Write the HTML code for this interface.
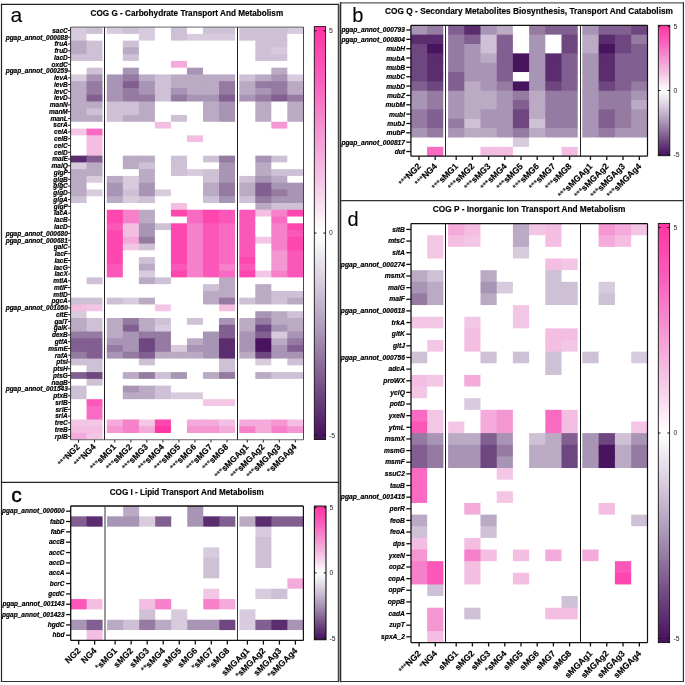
<!DOCTYPE html>
<html><head><meta charset="utf-8"><style>
html,body{margin:0;padding:0;background:#fff;width:685px;height:685px;overflow:hidden;font-family:"Liberation Sans",sans-serif;}
</style></head><body>
<svg width="685" height="685" viewBox="0 0 685 685" style="position:absolute;left:0;top:0;will-change:transform">
<rect x="0" y="0" width="685" height="685" fill="#ffffff"/>
<g>
<rect x="70.6" y="27.1" width="16.75" height="7.56" fill="#d7cbdd"/>
<rect x="86.55" y="27.1" width="15.95" height="7.56" fill="#cec0d5"/>
<rect x="106.8" y="27.1" width="16.83" height="7.56" fill="#d7cbdd"/>
<rect x="122.83" y="27.1" width="16.83" height="7.56" fill="#cec0d5"/>
<rect x="138.86" y="27.1" width="16.83" height="7.56" fill="#d7cbdd"/>
<rect x="154.89" y="27.1" width="16.83" height="7.56" fill="#ffffff"/>
<rect x="170.92" y="27.1" width="16.83" height="7.56" fill="#cec0d5"/>
<rect x="186.95" y="27.1" width="16.83" height="7.56" fill="#ffffff"/>
<rect x="202.98" y="27.1" width="16.83" height="7.56" fill="#cec0d5"/>
<rect x="219.01" y="27.1" width="16.03" height="7.56" fill="#cec0d5"/>
<rect x="239.3" y="27.1" width="16.8" height="7.56" fill="#cec0d5"/>
<rect x="255.3" y="27.1" width="16.8" height="7.56" fill="#cec0d5"/>
<rect x="271.3" y="27.1" width="16.8" height="7.56" fill="#cec0d5"/>
<rect x="287.3" y="27.1" width="16" height="7.56" fill="#d7cbdd"/>
<rect x="70.6" y="33.87" width="16.75" height="7.56" fill="#d7cbdd"/>
<rect x="86.55" y="33.87" width="15.95" height="7.56" fill="#ffffff"/>
<rect x="106.8" y="33.87" width="16.83" height="7.56" fill="#ffffff"/>
<rect x="122.83" y="33.87" width="16.83" height="7.56" fill="#ffffff"/>
<rect x="138.86" y="33.87" width="16.83" height="7.56" fill="#d7cbdd"/>
<rect x="154.89" y="33.87" width="16.83" height="7.56" fill="#ffffff"/>
<rect x="170.92" y="33.87" width="16.83" height="7.56" fill="#cec0d5"/>
<rect x="186.95" y="33.87" width="16.83" height="7.56" fill="#d7cbdd"/>
<rect x="202.98" y="33.87" width="16.83" height="7.56" fill="#d7cbdd"/>
<rect x="219.01" y="33.87" width="16.03" height="7.56" fill="#d7cbdd"/>
<rect x="239.3" y="33.87" width="16.8" height="7.56" fill="#cec0d5"/>
<rect x="255.3" y="33.87" width="16.8" height="7.56" fill="#cec0d5"/>
<rect x="271.3" y="33.87" width="16.8" height="7.56" fill="#cec0d5"/>
<rect x="287.3" y="33.87" width="16" height="7.56" fill="#ffffff"/>
<rect x="70.6" y="40.63" width="16.75" height="7.56" fill="#bbaac4"/>
<rect x="86.55" y="40.63" width="15.95" height="7.56" fill="#cec0d5"/>
<rect x="106.8" y="40.63" width="16.83" height="7.56" fill="#ffffff"/>
<rect x="122.83" y="40.63" width="16.83" height="7.56" fill="#cec0d5"/>
<rect x="138.86" y="40.63" width="16.83" height="7.56" fill="#ffffff"/>
<rect x="154.89" y="40.63" width="16.83" height="7.56" fill="#ffffff"/>
<rect x="170.92" y="40.63" width="16.83" height="7.56" fill="#ffffff"/>
<rect x="186.95" y="40.63" width="16.83" height="7.56" fill="#ffffff"/>
<rect x="202.98" y="40.63" width="16.83" height="7.56" fill="#ffffff"/>
<rect x="219.01" y="40.63" width="16.03" height="7.56" fill="#ffffff"/>
<rect x="239.3" y="40.63" width="16.8" height="7.56" fill="#ffffff"/>
<rect x="255.3" y="40.63" width="16.8" height="7.56" fill="#cec0d5"/>
<rect x="271.3" y="40.63" width="16.8" height="7.56" fill="#cec0d5"/>
<rect x="287.3" y="40.63" width="16" height="7.56" fill="#ffffff"/>
<rect x="70.6" y="47.39" width="16.75" height="7.56" fill="#bbaac4"/>
<rect x="86.55" y="47.39" width="15.95" height="7.56" fill="#cec0d5"/>
<rect x="106.8" y="47.39" width="16.83" height="7.56" fill="#ffffff"/>
<rect x="122.83" y="47.39" width="16.83" height="7.56" fill="#bbaac4"/>
<rect x="138.86" y="47.39" width="16.83" height="7.56" fill="#ffffff"/>
<rect x="154.89" y="47.39" width="16.83" height="7.56" fill="#ffffff"/>
<rect x="170.92" y="47.39" width="16.83" height="7.56" fill="#ffffff"/>
<rect x="186.95" y="47.39" width="16.83" height="7.56" fill="#ffffff"/>
<rect x="202.98" y="47.39" width="16.83" height="7.56" fill="#ffffff"/>
<rect x="219.01" y="47.39" width="16.03" height="7.56" fill="#ffffff"/>
<rect x="239.3" y="47.39" width="16.8" height="7.56" fill="#ffffff"/>
<rect x="255.3" y="47.39" width="16.8" height="7.56" fill="#cec0d5"/>
<rect x="271.3" y="47.39" width="16.8" height="7.56" fill="#d7cbdd"/>
<rect x="287.3" y="47.39" width="16" height="7.56" fill="#ffffff"/>
<rect x="70.6" y="54.16" width="16.75" height="7.56" fill="#cec0d5"/>
<rect x="86.55" y="54.16" width="15.95" height="7.56" fill="#cec0d5"/>
<rect x="106.8" y="54.16" width="16.83" height="7.56" fill="#ffffff"/>
<rect x="122.83" y="54.16" width="16.83" height="7.56" fill="#cec0d5"/>
<rect x="138.86" y="54.16" width="16.83" height="7.56" fill="#ffffff"/>
<rect x="154.89" y="54.16" width="16.83" height="7.56" fill="#ffffff"/>
<rect x="170.92" y="54.16" width="16.83" height="7.56" fill="#ffffff"/>
<rect x="186.95" y="54.16" width="16.83" height="7.56" fill="#ffffff"/>
<rect x="202.98" y="54.16" width="16.83" height="7.56" fill="#ffffff"/>
<rect x="219.01" y="54.16" width="16.03" height="7.56" fill="#ffffff"/>
<rect x="239.3" y="54.16" width="16.8" height="7.56" fill="#ffffff"/>
<rect x="255.3" y="54.16" width="16.8" height="7.56" fill="#cec0d5"/>
<rect x="271.3" y="54.16" width="16.8" height="7.56" fill="#cec0d5"/>
<rect x="287.3" y="54.16" width="16" height="7.56" fill="#ffffff"/>
<rect x="70.6" y="60.92" width="16.75" height="7.56" fill="#ffffff"/>
<rect x="86.55" y="60.92" width="15.95" height="7.56" fill="#ffffff"/>
<rect x="106.8" y="60.92" width="16.83" height="7.56" fill="#ffffff"/>
<rect x="122.83" y="60.92" width="16.83" height="7.56" fill="#ffffff"/>
<rect x="138.86" y="60.92" width="16.83" height="7.56" fill="#ffffff"/>
<rect x="154.89" y="60.92" width="16.83" height="7.56" fill="#ffffff"/>
<rect x="170.92" y="60.92" width="16.83" height="7.56" fill="#f4aada"/>
<rect x="186.95" y="60.92" width="16.83" height="7.56" fill="#ffffff"/>
<rect x="202.98" y="60.92" width="16.83" height="7.56" fill="#ffffff"/>
<rect x="219.01" y="60.92" width="16.03" height="7.56" fill="#ffffff"/>
<rect x="239.3" y="60.92" width="16.8" height="7.56" fill="#ffffff"/>
<rect x="255.3" y="60.92" width="16.8" height="7.56" fill="#ffffff"/>
<rect x="271.3" y="60.92" width="16.8" height="7.56" fill="#ffffff"/>
<rect x="287.3" y="60.92" width="16" height="7.56" fill="#ffffff"/>
<rect x="70.6" y="67.69" width="16.75" height="7.56" fill="#ffffff"/>
<rect x="86.55" y="67.69" width="15.95" height="7.56" fill="#cec0d5"/>
<rect x="106.8" y="67.69" width="16.83" height="7.56" fill="#ffffff"/>
<rect x="122.83" y="67.69" width="16.83" height="7.56" fill="#a894b4"/>
<rect x="138.86" y="67.69" width="16.83" height="7.56" fill="#ffffff"/>
<rect x="154.89" y="67.69" width="16.83" height="7.56" fill="#ffffff"/>
<rect x="170.92" y="67.69" width="16.83" height="7.56" fill="#ffffff"/>
<rect x="186.95" y="67.69" width="16.83" height="7.56" fill="#a894b4"/>
<rect x="202.98" y="67.69" width="16.83" height="7.56" fill="#ffffff"/>
<rect x="219.01" y="67.69" width="16.03" height="7.56" fill="#ffffff"/>
<rect x="239.3" y="67.69" width="16.8" height="7.56" fill="#ffffff"/>
<rect x="255.3" y="67.69" width="16.8" height="7.56" fill="#ffffff"/>
<rect x="271.3" y="67.69" width="16.8" height="7.56" fill="#bbaac4"/>
<rect x="287.3" y="67.69" width="16" height="7.56" fill="#ffffff"/>
<rect x="70.6" y="74.45" width="16.75" height="7.56" fill="#d7cbdd"/>
<rect x="86.55" y="74.45" width="15.95" height="7.56" fill="#a894b4"/>
<rect x="106.8" y="74.45" width="16.83" height="7.56" fill="#a894b4"/>
<rect x="122.83" y="74.45" width="16.83" height="7.56" fill="#957aa2"/>
<rect x="138.86" y="74.45" width="16.83" height="7.56" fill="#bbaac4"/>
<rect x="154.89" y="74.45" width="16.83" height="7.56" fill="#cec0d5"/>
<rect x="170.92" y="74.45" width="16.83" height="7.56" fill="#bbaac4"/>
<rect x="186.95" y="74.45" width="16.83" height="7.56" fill="#bbaac4"/>
<rect x="202.98" y="74.45" width="16.83" height="7.56" fill="#bbaac4"/>
<rect x="219.01" y="74.45" width="16.03" height="7.56" fill="#bbaac4"/>
<rect x="239.3" y="74.45" width="16.8" height="7.56" fill="#cec0d5"/>
<rect x="255.3" y="74.45" width="16.8" height="7.56" fill="#bbaac4"/>
<rect x="271.3" y="74.45" width="16.8" height="7.56" fill="#a894b4"/>
<rect x="287.3" y="74.45" width="16" height="7.56" fill="#d7cbdd"/>
<rect x="70.6" y="81.22" width="16.75" height="7.56" fill="#bbaac4"/>
<rect x="86.55" y="81.22" width="15.95" height="7.56" fill="#957aa2"/>
<rect x="106.8" y="81.22" width="16.83" height="7.56" fill="#a894b4"/>
<rect x="122.83" y="81.22" width="16.83" height="7.56" fill="#825f91"/>
<rect x="138.86" y="81.22" width="16.83" height="7.56" fill="#a894b4"/>
<rect x="154.89" y="81.22" width="16.83" height="7.56" fill="#cec0d5"/>
<rect x="170.92" y="81.22" width="16.83" height="7.56" fill="#bbaac4"/>
<rect x="186.95" y="81.22" width="16.83" height="7.56" fill="#bbaac4"/>
<rect x="202.98" y="81.22" width="16.83" height="7.56" fill="#bbaac4"/>
<rect x="219.01" y="81.22" width="16.03" height="7.56" fill="#957aa2"/>
<rect x="239.3" y="81.22" width="16.8" height="7.56" fill="#bbaac4"/>
<rect x="255.3" y="81.22" width="16.8" height="7.56" fill="#957aa2"/>
<rect x="271.3" y="81.22" width="16.8" height="7.56" fill="#957aa2"/>
<rect x="287.3" y="81.22" width="16" height="7.56" fill="#bbaac4"/>
<rect x="70.6" y="87.98" width="16.75" height="7.56" fill="#bbaac4"/>
<rect x="86.55" y="87.98" width="15.95" height="7.56" fill="#957aa2"/>
<rect x="106.8" y="87.98" width="16.83" height="7.56" fill="#a894b4"/>
<rect x="122.83" y="87.98" width="16.83" height="7.56" fill="#957aa2"/>
<rect x="138.86" y="87.98" width="16.83" height="7.56" fill="#a894b4"/>
<rect x="154.89" y="87.98" width="16.83" height="7.56" fill="#cec0d5"/>
<rect x="170.92" y="87.98" width="16.83" height="7.56" fill="#a894b4"/>
<rect x="186.95" y="87.98" width="16.83" height="7.56" fill="#bbaac4"/>
<rect x="202.98" y="87.98" width="16.83" height="7.56" fill="#bbaac4"/>
<rect x="219.01" y="87.98" width="16.03" height="7.56" fill="#957aa2"/>
<rect x="239.3" y="87.98" width="16.8" height="7.56" fill="#bbaac4"/>
<rect x="255.3" y="87.98" width="16.8" height="7.56" fill="#a894b4"/>
<rect x="271.3" y="87.98" width="16.8" height="7.56" fill="#957aa2"/>
<rect x="287.3" y="87.98" width="16" height="7.56" fill="#bbaac4"/>
<rect x="70.6" y="94.75" width="16.75" height="7.56" fill="#bbaac4"/>
<rect x="86.55" y="94.75" width="15.95" height="7.56" fill="#825f91"/>
<rect x="106.8" y="94.75" width="16.83" height="7.56" fill="#a894b4"/>
<rect x="122.83" y="94.75" width="16.83" height="7.56" fill="#957aa2"/>
<rect x="138.86" y="94.75" width="16.83" height="7.56" fill="#957aa2"/>
<rect x="154.89" y="94.75" width="16.83" height="7.56" fill="#cec0d5"/>
<rect x="170.92" y="94.75" width="16.83" height="7.56" fill="#957aa2"/>
<rect x="186.95" y="94.75" width="16.83" height="7.56" fill="#a894b4"/>
<rect x="202.98" y="94.75" width="16.83" height="7.56" fill="#a894b4"/>
<rect x="219.01" y="94.75" width="16.03" height="7.56" fill="#825f91"/>
<rect x="239.3" y="94.75" width="16.8" height="7.56" fill="#a894b4"/>
<rect x="255.3" y="94.75" width="16.8" height="7.56" fill="#957aa2"/>
<rect x="271.3" y="94.75" width="16.8" height="7.56" fill="#825f91"/>
<rect x="287.3" y="94.75" width="16" height="7.56" fill="#957aa2"/>
<rect x="70.6" y="101.51" width="16.75" height="7.56" fill="#bbaac4"/>
<rect x="86.55" y="101.51" width="15.95" height="7.56" fill="#bbaac4"/>
<rect x="106.8" y="101.51" width="16.83" height="7.56" fill="#cec0d5"/>
<rect x="122.83" y="101.51" width="16.83" height="7.56" fill="#cec0d5"/>
<rect x="138.86" y="101.51" width="16.83" height="7.56" fill="#bbaac4"/>
<rect x="154.89" y="101.51" width="16.83" height="7.56" fill="#ffffff"/>
<rect x="170.92" y="101.51" width="16.83" height="7.56" fill="#ffffff"/>
<rect x="186.95" y="101.51" width="16.83" height="7.56" fill="#ffffff"/>
<rect x="202.98" y="101.51" width="16.83" height="7.56" fill="#bbaac4"/>
<rect x="219.01" y="101.51" width="16.03" height="7.56" fill="#a894b4"/>
<rect x="239.3" y="101.51" width="16.8" height="7.56" fill="#ffffff"/>
<rect x="255.3" y="101.51" width="16.8" height="7.56" fill="#bbaac4"/>
<rect x="271.3" y="101.51" width="16.8" height="7.56" fill="#ffffff"/>
<rect x="287.3" y="101.51" width="16" height="7.56" fill="#bbaac4"/>
<rect x="70.6" y="108.28" width="16.75" height="7.56" fill="#bbaac4"/>
<rect x="86.55" y="108.28" width="15.95" height="7.56" fill="#cec0d5"/>
<rect x="106.8" y="108.28" width="16.83" height="7.56" fill="#cec0d5"/>
<rect x="122.83" y="108.28" width="16.83" height="7.56" fill="#cec0d5"/>
<rect x="138.86" y="108.28" width="16.83" height="7.56" fill="#bbaac4"/>
<rect x="154.89" y="108.28" width="16.83" height="7.56" fill="#ffffff"/>
<rect x="170.92" y="108.28" width="16.83" height="7.56" fill="#ffffff"/>
<rect x="186.95" y="108.28" width="16.83" height="7.56" fill="#ffffff"/>
<rect x="202.98" y="108.28" width="16.83" height="7.56" fill="#bbaac4"/>
<rect x="219.01" y="108.28" width="16.03" height="7.56" fill="#a894b4"/>
<rect x="239.3" y="108.28" width="16.8" height="7.56" fill="#ffffff"/>
<rect x="255.3" y="108.28" width="16.8" height="7.56" fill="#bbaac4"/>
<rect x="271.3" y="108.28" width="16.8" height="7.56" fill="#ffffff"/>
<rect x="287.3" y="108.28" width="16" height="7.56" fill="#bbaac4"/>
<rect x="70.6" y="115.04" width="16.75" height="7.56" fill="#bbaac4"/>
<rect x="86.55" y="115.04" width="15.95" height="7.56" fill="#bbaac4"/>
<rect x="106.8" y="115.04" width="16.83" height="7.56" fill="#cec0d5"/>
<rect x="122.83" y="115.04" width="16.83" height="7.56" fill="#bbaac4"/>
<rect x="138.86" y="115.04" width="16.83" height="7.56" fill="#bbaac4"/>
<rect x="154.89" y="115.04" width="16.83" height="7.56" fill="#ffffff"/>
<rect x="170.92" y="115.04" width="16.83" height="7.56" fill="#cec0d5"/>
<rect x="186.95" y="115.04" width="16.83" height="7.56" fill="#ffffff"/>
<rect x="202.98" y="115.04" width="16.83" height="7.56" fill="#bbaac4"/>
<rect x="219.01" y="115.04" width="16.03" height="7.56" fill="#a894b4"/>
<rect x="239.3" y="115.04" width="16.8" height="7.56" fill="#ffffff"/>
<rect x="255.3" y="115.04" width="16.8" height="7.56" fill="#bbaac4"/>
<rect x="271.3" y="115.04" width="16.8" height="7.56" fill="#ffffff"/>
<rect x="287.3" y="115.04" width="16" height="7.56" fill="#bbaac4"/>
<rect x="70.6" y="121.81" width="16.75" height="7.56" fill="#ffffff"/>
<rect x="86.55" y="121.81" width="15.95" height="7.56" fill="#ffffff"/>
<rect x="106.8" y="121.81" width="16.83" height="7.56" fill="#ffffff"/>
<rect x="122.83" y="121.81" width="16.83" height="7.56" fill="#ffffff"/>
<rect x="138.86" y="121.81" width="16.83" height="7.56" fill="#ffffff"/>
<rect x="154.89" y="121.81" width="16.83" height="7.56" fill="#f4bee2"/>
<rect x="170.92" y="121.81" width="16.83" height="7.56" fill="#ffffff"/>
<rect x="186.95" y="121.81" width="16.83" height="7.56" fill="#ffffff"/>
<rect x="202.98" y="121.81" width="16.83" height="7.56" fill="#ffffff"/>
<rect x="219.01" y="121.81" width="16.03" height="7.56" fill="#ffffff"/>
<rect x="239.3" y="121.81" width="16.8" height="7.56" fill="#ffffff"/>
<rect x="255.3" y="121.81" width="16.8" height="7.56" fill="#ffffff"/>
<rect x="271.3" y="121.81" width="16.8" height="7.56" fill="#f496d2"/>
<rect x="287.3" y="121.81" width="16" height="7.56" fill="#ffffff"/>
<rect x="70.6" y="128.57" width="16.75" height="7.56" fill="#f4c6e5"/>
<rect x="86.55" y="128.57" width="15.95" height="7.56" fill="#f96ac2"/>
<rect x="106.8" y="128.57" width="16.83" height="7.56" fill="#ffffff"/>
<rect x="122.83" y="128.57" width="16.83" height="7.56" fill="#ffffff"/>
<rect x="138.86" y="128.57" width="16.83" height="7.56" fill="#ffffff"/>
<rect x="154.89" y="128.57" width="16.83" height="7.56" fill="#ffffff"/>
<rect x="170.92" y="128.57" width="16.83" height="7.56" fill="#ffffff"/>
<rect x="186.95" y="128.57" width="16.83" height="7.56" fill="#ffffff"/>
<rect x="202.98" y="128.57" width="16.83" height="7.56" fill="#ffffff"/>
<rect x="219.01" y="128.57" width="16.03" height="7.56" fill="#ffffff"/>
<rect x="239.3" y="128.57" width="16.8" height="7.56" fill="#ffffff"/>
<rect x="255.3" y="128.57" width="16.8" height="7.56" fill="#ffffff"/>
<rect x="271.3" y="128.57" width="16.8" height="7.56" fill="#ffffff"/>
<rect x="287.3" y="128.57" width="16" height="7.56" fill="#ffffff"/>
<rect x="70.6" y="135.34" width="16.75" height="7.56" fill="#ffffff"/>
<rect x="86.55" y="135.34" width="15.95" height="7.56" fill="#f4bee2"/>
<rect x="106.8" y="135.34" width="16.83" height="7.56" fill="#ffffff"/>
<rect x="122.83" y="135.34" width="16.83" height="7.56" fill="#ffffff"/>
<rect x="138.86" y="135.34" width="16.83" height="7.56" fill="#ffffff"/>
<rect x="154.89" y="135.34" width="16.83" height="7.56" fill="#ffffff"/>
<rect x="170.92" y="135.34" width="16.83" height="7.56" fill="#ffffff"/>
<rect x="186.95" y="135.34" width="16.83" height="7.56" fill="#f4bee2"/>
<rect x="202.98" y="135.34" width="16.83" height="7.56" fill="#ffffff"/>
<rect x="219.01" y="135.34" width="16.03" height="7.56" fill="#ffffff"/>
<rect x="239.3" y="135.34" width="16.8" height="7.56" fill="#ffffff"/>
<rect x="255.3" y="135.34" width="16.8" height="7.56" fill="#ffffff"/>
<rect x="271.3" y="135.34" width="16.8" height="7.56" fill="#ffffff"/>
<rect x="287.3" y="135.34" width="16" height="7.56" fill="#ffffff"/>
<rect x="70.6" y="142.1" width="16.75" height="7.56" fill="#ffffff"/>
<rect x="86.55" y="142.1" width="15.95" height="7.56" fill="#f4bee2"/>
<rect x="106.8" y="142.1" width="16.83" height="7.56" fill="#ffffff"/>
<rect x="122.83" y="142.1" width="16.83" height="7.56" fill="#ffffff"/>
<rect x="138.86" y="142.1" width="16.83" height="7.56" fill="#ffffff"/>
<rect x="154.89" y="142.1" width="16.83" height="7.56" fill="#ffffff"/>
<rect x="170.92" y="142.1" width="16.83" height="7.56" fill="#ffffff"/>
<rect x="186.95" y="142.1" width="16.83" height="7.56" fill="#ffffff"/>
<rect x="202.98" y="142.1" width="16.83" height="7.56" fill="#ffffff"/>
<rect x="219.01" y="142.1" width="16.03" height="7.56" fill="#ffffff"/>
<rect x="239.3" y="142.1" width="16.8" height="7.56" fill="#ffffff"/>
<rect x="255.3" y="142.1" width="16.8" height="7.56" fill="#ffffff"/>
<rect x="271.3" y="142.1" width="16.8" height="7.56" fill="#ffffff"/>
<rect x="287.3" y="142.1" width="16" height="7.56" fill="#ffffff"/>
<rect x="70.6" y="148.87" width="16.75" height="7.56" fill="#ffffff"/>
<rect x="86.55" y="148.87" width="15.95" height="7.56" fill="#f4bee2"/>
<rect x="106.8" y="148.87" width="16.83" height="7.56" fill="#ffffff"/>
<rect x="122.83" y="148.87" width="16.83" height="7.56" fill="#ffffff"/>
<rect x="138.86" y="148.87" width="16.83" height="7.56" fill="#ffffff"/>
<rect x="154.89" y="148.87" width="16.83" height="7.56" fill="#ffffff"/>
<rect x="170.92" y="148.87" width="16.83" height="7.56" fill="#ffffff"/>
<rect x="186.95" y="148.87" width="16.83" height="7.56" fill="#ffffff"/>
<rect x="202.98" y="148.87" width="16.83" height="7.56" fill="#ffffff"/>
<rect x="219.01" y="148.87" width="16.03" height="7.56" fill="#ffffff"/>
<rect x="239.3" y="148.87" width="16.8" height="7.56" fill="#ffffff"/>
<rect x="255.3" y="148.87" width="16.8" height="7.56" fill="#ffffff"/>
<rect x="271.3" y="148.87" width="16.8" height="7.56" fill="#ffffff"/>
<rect x="287.3" y="148.87" width="16" height="7.56" fill="#ffffff"/>
<rect x="70.6" y="155.63" width="16.75" height="7.56" fill="#5b2d6f"/>
<rect x="86.55" y="155.63" width="15.95" height="7.56" fill="#825f91"/>
<rect x="106.8" y="155.63" width="16.83" height="7.56" fill="#ffffff"/>
<rect x="122.83" y="155.63" width="16.83" height="7.56" fill="#bbaac4"/>
<rect x="138.86" y="155.63" width="16.83" height="7.56" fill="#bbaac4"/>
<rect x="154.89" y="155.63" width="16.83" height="7.56" fill="#ffffff"/>
<rect x="170.92" y="155.63" width="16.83" height="7.56" fill="#cec0d5"/>
<rect x="186.95" y="155.63" width="16.83" height="7.56" fill="#ffffff"/>
<rect x="202.98" y="155.63" width="16.83" height="7.56" fill="#cec0d5"/>
<rect x="219.01" y="155.63" width="16.03" height="7.56" fill="#957aa2"/>
<rect x="239.3" y="155.63" width="16.8" height="7.56" fill="#ffffff"/>
<rect x="255.3" y="155.63" width="16.8" height="7.56" fill="#a894b4"/>
<rect x="271.3" y="155.63" width="16.8" height="7.56" fill="#cec0d5"/>
<rect x="287.3" y="155.63" width="16" height="7.56" fill="#ffffff"/>
<rect x="70.6" y="162.4" width="16.75" height="7.56" fill="#d7cbdd"/>
<rect x="86.55" y="162.4" width="15.95" height="7.56" fill="#bbaac4"/>
<rect x="106.8" y="162.4" width="16.83" height="7.56" fill="#ffffff"/>
<rect x="122.83" y="162.4" width="16.83" height="7.56" fill="#bbaac4"/>
<rect x="138.86" y="162.4" width="16.83" height="7.56" fill="#cec0d5"/>
<rect x="154.89" y="162.4" width="16.83" height="7.56" fill="#ffffff"/>
<rect x="170.92" y="162.4" width="16.83" height="7.56" fill="#cec0d5"/>
<rect x="186.95" y="162.4" width="16.83" height="7.56" fill="#ffffff"/>
<rect x="202.98" y="162.4" width="16.83" height="7.56" fill="#ffffff"/>
<rect x="219.01" y="162.4" width="16.03" height="7.56" fill="#a894b4"/>
<rect x="239.3" y="162.4" width="16.8" height="7.56" fill="#ffffff"/>
<rect x="255.3" y="162.4" width="16.8" height="7.56" fill="#bbaac4"/>
<rect x="271.3" y="162.4" width="16.8" height="7.56" fill="#ffffff"/>
<rect x="287.3" y="162.4" width="16" height="7.56" fill="#ffffff"/>
<rect x="70.6" y="169.16" width="16.75" height="7.56" fill="#bbaac4"/>
<rect x="86.55" y="169.16" width="15.95" height="7.56" fill="#bbaac4"/>
<rect x="106.8" y="169.16" width="16.83" height="7.56" fill="#ffffff"/>
<rect x="122.83" y="169.16" width="16.83" height="7.56" fill="#ffffff"/>
<rect x="138.86" y="169.16" width="16.83" height="7.56" fill="#bbaac4"/>
<rect x="154.89" y="169.16" width="16.83" height="7.56" fill="#ffffff"/>
<rect x="170.92" y="169.16" width="16.83" height="7.56" fill="#cec0d5"/>
<rect x="186.95" y="169.16" width="16.83" height="7.56" fill="#d7cbdd"/>
<rect x="202.98" y="169.16" width="16.83" height="7.56" fill="#cec0d5"/>
<rect x="219.01" y="169.16" width="16.03" height="7.56" fill="#a894b4"/>
<rect x="239.3" y="169.16" width="16.8" height="7.56" fill="#ffffff"/>
<rect x="255.3" y="169.16" width="16.8" height="7.56" fill="#bbaac4"/>
<rect x="271.3" y="169.16" width="16.8" height="7.56" fill="#cec0d5"/>
<rect x="287.3" y="169.16" width="16" height="7.56" fill="#cec0d5"/>
<rect x="70.6" y="175.93" width="16.75" height="7.56" fill="#bbaac4"/>
<rect x="86.55" y="175.93" width="15.95" height="7.56" fill="#d7cbdd"/>
<rect x="106.8" y="175.93" width="16.83" height="7.56" fill="#bbaac4"/>
<rect x="122.83" y="175.93" width="16.83" height="7.56" fill="#d7cbdd"/>
<rect x="138.86" y="175.93" width="16.83" height="7.56" fill="#bbaac4"/>
<rect x="154.89" y="175.93" width="16.83" height="7.56" fill="#ffffff"/>
<rect x="170.92" y="175.93" width="16.83" height="7.56" fill="#ffffff"/>
<rect x="186.95" y="175.93" width="16.83" height="7.56" fill="#ffffff"/>
<rect x="202.98" y="175.93" width="16.83" height="7.56" fill="#cec0d5"/>
<rect x="219.01" y="175.93" width="16.03" height="7.56" fill="#a894b4"/>
<rect x="239.3" y="175.93" width="16.8" height="7.56" fill="#cec0d5"/>
<rect x="255.3" y="175.93" width="16.8" height="7.56" fill="#a894b4"/>
<rect x="271.3" y="175.93" width="16.8" height="7.56" fill="#bbaac4"/>
<rect x="287.3" y="175.93" width="16" height="7.56" fill="#ffffff"/>
<rect x="70.6" y="182.69" width="16.75" height="7.56" fill="#bbaac4"/>
<rect x="86.55" y="182.69" width="15.95" height="7.56" fill="#ffffff"/>
<rect x="106.8" y="182.69" width="16.83" height="7.56" fill="#a894b4"/>
<rect x="122.83" y="182.69" width="16.83" height="7.56" fill="#d7cbdd"/>
<rect x="138.86" y="182.69" width="16.83" height="7.56" fill="#a894b4"/>
<rect x="154.89" y="182.69" width="16.83" height="7.56" fill="#ffffff"/>
<rect x="170.92" y="182.69" width="16.83" height="7.56" fill="#ffffff"/>
<rect x="186.95" y="182.69" width="16.83" height="7.56" fill="#ffffff"/>
<rect x="202.98" y="182.69" width="16.83" height="7.56" fill="#bbaac4"/>
<rect x="219.01" y="182.69" width="16.03" height="7.56" fill="#957aa2"/>
<rect x="239.3" y="182.69" width="16.8" height="7.56" fill="#bbaac4"/>
<rect x="255.3" y="182.69" width="16.8" height="7.56" fill="#825f91"/>
<rect x="271.3" y="182.69" width="16.8" height="7.56" fill="#a894b4"/>
<rect x="287.3" y="182.69" width="16" height="7.56" fill="#a894b4"/>
<rect x="70.6" y="189.46" width="16.75" height="7.56" fill="#bbaac4"/>
<rect x="86.55" y="189.46" width="15.95" height="7.56" fill="#d7cbdd"/>
<rect x="106.8" y="189.46" width="16.83" height="7.56" fill="#a894b4"/>
<rect x="122.83" y="189.46" width="16.83" height="7.56" fill="#cec0d5"/>
<rect x="138.86" y="189.46" width="16.83" height="7.56" fill="#a894b4"/>
<rect x="154.89" y="189.46" width="16.83" height="7.56" fill="#d7cbdd"/>
<rect x="170.92" y="189.46" width="16.83" height="7.56" fill="#ffffff"/>
<rect x="186.95" y="189.46" width="16.83" height="7.56" fill="#ffffff"/>
<rect x="202.98" y="189.46" width="16.83" height="7.56" fill="#bbaac4"/>
<rect x="219.01" y="189.46" width="16.03" height="7.56" fill="#957aa2"/>
<rect x="239.3" y="189.46" width="16.8" height="7.56" fill="#bbaac4"/>
<rect x="255.3" y="189.46" width="16.8" height="7.56" fill="#825f91"/>
<rect x="271.3" y="189.46" width="16.8" height="7.56" fill="#957aa2"/>
<rect x="287.3" y="189.46" width="16" height="7.56" fill="#a894b4"/>
<rect x="70.6" y="196.22" width="16.75" height="7.56" fill="#cec0d5"/>
<rect x="86.55" y="196.22" width="15.95" height="7.56" fill="#ffffff"/>
<rect x="106.8" y="196.22" width="16.83" height="7.56" fill="#bbaac4"/>
<rect x="122.83" y="196.22" width="16.83" height="7.56" fill="#d7cbdd"/>
<rect x="138.86" y="196.22" width="16.83" height="7.56" fill="#cec0d5"/>
<rect x="154.89" y="196.22" width="16.83" height="7.56" fill="#ffffff"/>
<rect x="170.92" y="196.22" width="16.83" height="7.56" fill="#ffffff"/>
<rect x="186.95" y="196.22" width="16.83" height="7.56" fill="#ffffff"/>
<rect x="202.98" y="196.22" width="16.83" height="7.56" fill="#cec0d5"/>
<rect x="219.01" y="196.22" width="16.03" height="7.56" fill="#a894b4"/>
<rect x="239.3" y="196.22" width="16.8" height="7.56" fill="#cec0d5"/>
<rect x="255.3" y="196.22" width="16.8" height="7.56" fill="#957aa2"/>
<rect x="271.3" y="196.22" width="16.8" height="7.56" fill="#a894b4"/>
<rect x="287.3" y="196.22" width="16" height="7.56" fill="#a894b4"/>
<rect x="70.6" y="202.99" width="16.75" height="7.56" fill="#ffffff"/>
<rect x="86.55" y="202.99" width="15.95" height="7.56" fill="#ffffff"/>
<rect x="106.8" y="202.99" width="16.83" height="7.56" fill="#ffffff"/>
<rect x="122.83" y="202.99" width="16.83" height="7.56" fill="#ffffff"/>
<rect x="138.86" y="202.99" width="16.83" height="7.56" fill="#ffffff"/>
<rect x="154.89" y="202.99" width="16.83" height="7.56" fill="#ffffff"/>
<rect x="170.92" y="202.99" width="16.83" height="7.56" fill="#f4bee2"/>
<rect x="186.95" y="202.99" width="16.83" height="7.56" fill="#ffffff"/>
<rect x="202.98" y="202.99" width="16.83" height="7.56" fill="#ffffff"/>
<rect x="219.01" y="202.99" width="16.03" height="7.56" fill="#ffffff"/>
<rect x="239.3" y="202.99" width="16.8" height="7.56" fill="#ffffff"/>
<rect x="255.3" y="202.99" width="16.8" height="7.56" fill="#bbaac4"/>
<rect x="271.3" y="202.99" width="16.8" height="7.56" fill="#cec0d5"/>
<rect x="287.3" y="202.99" width="16" height="7.56" fill="#cec0d5"/>
<rect x="70.6" y="209.75" width="16.75" height="7.56" fill="#ffffff"/>
<rect x="86.55" y="209.75" width="15.95" height="7.56" fill="#ffffff"/>
<rect x="106.8" y="209.75" width="16.83" height="7.56" fill="#fd47af"/>
<rect x="122.83" y="209.75" width="16.83" height="7.56" fill="#f680ca"/>
<rect x="138.86" y="209.75" width="16.83" height="7.56" fill="#bbaac4"/>
<rect x="154.89" y="209.75" width="16.83" height="7.56" fill="#ffffff"/>
<rect x="170.92" y="209.75" width="16.83" height="7.56" fill="#fd47af"/>
<rect x="186.95" y="209.75" width="16.83" height="7.56" fill="#f96ac2"/>
<rect x="202.98" y="209.75" width="16.83" height="7.56" fill="#fd47af"/>
<rect x="219.01" y="209.75" width="16.03" height="7.56" fill="#fb57b9"/>
<rect x="239.3" y="209.75" width="16.8" height="7.56" fill="#fb57b9"/>
<rect x="255.3" y="209.75" width="16.8" height="7.56" fill="#f4bee2"/>
<rect x="271.3" y="209.75" width="16.8" height="7.56" fill="#f680ca"/>
<rect x="287.3" y="209.75" width="16" height="7.56" fill="#fd47af"/>
<rect x="70.6" y="216.52" width="16.75" height="7.56" fill="#ffffff"/>
<rect x="86.55" y="216.52" width="15.95" height="7.56" fill="#ffffff"/>
<rect x="106.8" y="216.52" width="16.83" height="7.56" fill="#fd47af"/>
<rect x="122.83" y="216.52" width="16.83" height="7.56" fill="#f680ca"/>
<rect x="138.86" y="216.52" width="16.83" height="7.56" fill="#bbaac4"/>
<rect x="154.89" y="216.52" width="16.83" height="7.56" fill="#ffffff"/>
<rect x="170.92" y="216.52" width="16.83" height="7.56" fill="#ffffff"/>
<rect x="186.95" y="216.52" width="16.83" height="7.56" fill="#f96ac2"/>
<rect x="202.98" y="216.52" width="16.83" height="7.56" fill="#fd47af"/>
<rect x="219.01" y="216.52" width="16.03" height="7.56" fill="#fb57b9"/>
<rect x="239.3" y="216.52" width="16.8" height="7.56" fill="#fb57b9"/>
<rect x="255.3" y="216.52" width="16.8" height="7.56" fill="#ffffff"/>
<rect x="271.3" y="216.52" width="16.8" height="7.56" fill="#f96ac2"/>
<rect x="287.3" y="216.52" width="16" height="7.56" fill="#ffffff"/>
<rect x="70.6" y="223.28" width="16.75" height="7.56" fill="#ffffff"/>
<rect x="86.55" y="223.28" width="15.95" height="7.56" fill="#ffffff"/>
<rect x="106.8" y="223.28" width="16.83" height="7.56" fill="#fb57b9"/>
<rect x="122.83" y="223.28" width="16.83" height="7.56" fill="#f4bee2"/>
<rect x="138.86" y="223.28" width="16.83" height="7.56" fill="#a894b4"/>
<rect x="154.89" y="223.28" width="16.83" height="7.56" fill="#cec0d5"/>
<rect x="170.92" y="223.28" width="16.83" height="7.56" fill="#fd47af"/>
<rect x="186.95" y="223.28" width="16.83" height="7.56" fill="#f680ca"/>
<rect x="202.98" y="223.28" width="16.83" height="7.56" fill="#fb57b9"/>
<rect x="219.01" y="223.28" width="16.03" height="7.56" fill="#f96ac2"/>
<rect x="239.3" y="223.28" width="16.8" height="7.56" fill="#fb57b9"/>
<rect x="255.3" y="223.28" width="16.8" height="7.56" fill="#ffffff"/>
<rect x="271.3" y="223.28" width="16.8" height="7.56" fill="#f680ca"/>
<rect x="287.3" y="223.28" width="16" height="7.56" fill="#fd47af"/>
<rect x="70.6" y="230.05" width="16.75" height="7.56" fill="#ffffff"/>
<rect x="86.55" y="230.05" width="15.95" height="7.56" fill="#ffffff"/>
<rect x="106.8" y="230.05" width="16.83" height="7.56" fill="#fd47af"/>
<rect x="122.83" y="230.05" width="16.83" height="7.56" fill="#f4bee2"/>
<rect x="138.86" y="230.05" width="16.83" height="7.56" fill="#a894b4"/>
<rect x="154.89" y="230.05" width="16.83" height="7.56" fill="#ffffff"/>
<rect x="170.92" y="230.05" width="16.83" height="7.56" fill="#fd47af"/>
<rect x="186.95" y="230.05" width="16.83" height="7.56" fill="#f680ca"/>
<rect x="202.98" y="230.05" width="16.83" height="7.56" fill="#fb57b9"/>
<rect x="219.01" y="230.05" width="16.03" height="7.56" fill="#f96ac2"/>
<rect x="239.3" y="230.05" width="16.8" height="7.56" fill="#fb57b9"/>
<rect x="255.3" y="230.05" width="16.8" height="7.56" fill="#ffffff"/>
<rect x="271.3" y="230.05" width="16.8" height="7.56" fill="#f680ca"/>
<rect x="287.3" y="230.05" width="16" height="7.56" fill="#fb57b9"/>
<rect x="70.6" y="236.81" width="16.75" height="7.56" fill="#ffffff"/>
<rect x="86.55" y="236.81" width="15.95" height="7.56" fill="#ffffff"/>
<rect x="106.8" y="236.81" width="16.83" height="7.56" fill="#fd47af"/>
<rect x="122.83" y="236.81" width="16.83" height="7.56" fill="#f4aada"/>
<rect x="138.86" y="236.81" width="16.83" height="7.56" fill="#957aa2"/>
<rect x="154.89" y="236.81" width="16.83" height="7.56" fill="#ffffff"/>
<rect x="170.92" y="236.81" width="16.83" height="7.56" fill="#fd47af"/>
<rect x="186.95" y="236.81" width="16.83" height="7.56" fill="#f680ca"/>
<rect x="202.98" y="236.81" width="16.83" height="7.56" fill="#fb57b9"/>
<rect x="219.01" y="236.81" width="16.03" height="7.56" fill="#f96ac2"/>
<rect x="239.3" y="236.81" width="16.8" height="7.56" fill="#fb57b9"/>
<rect x="255.3" y="236.81" width="16.8" height="7.56" fill="#f4c6e5"/>
<rect x="271.3" y="236.81" width="16.8" height="7.56" fill="#f680ca"/>
<rect x="287.3" y="236.81" width="16" height="7.56" fill="#fd47af"/>
<rect x="70.6" y="243.58" width="16.75" height="7.56" fill="#ffffff"/>
<rect x="86.55" y="243.58" width="15.95" height="7.56" fill="#ffffff"/>
<rect x="106.8" y="243.58" width="16.83" height="7.56" fill="#fd47af"/>
<rect x="122.83" y="243.58" width="16.83" height="7.56" fill="#f4c6e5"/>
<rect x="138.86" y="243.58" width="16.83" height="7.56" fill="#cec0d5"/>
<rect x="154.89" y="243.58" width="16.83" height="7.56" fill="#ffffff"/>
<rect x="170.92" y="243.58" width="16.83" height="7.56" fill="#fd47af"/>
<rect x="186.95" y="243.58" width="16.83" height="7.56" fill="#f680ca"/>
<rect x="202.98" y="243.58" width="16.83" height="7.56" fill="#fb57b9"/>
<rect x="219.01" y="243.58" width="16.03" height="7.56" fill="#f96ac2"/>
<rect x="239.3" y="243.58" width="16.8" height="7.56" fill="#fb57b9"/>
<rect x="255.3" y="243.58" width="16.8" height="7.56" fill="#ffffff"/>
<rect x="271.3" y="243.58" width="16.8" height="7.56" fill="#f680ca"/>
<rect x="287.3" y="243.58" width="16" height="7.56" fill="#fd47af"/>
<rect x="70.6" y="250.34" width="16.75" height="7.56" fill="#ffffff"/>
<rect x="86.55" y="250.34" width="15.95" height="7.56" fill="#ffffff"/>
<rect x="106.8" y="250.34" width="16.83" height="7.56" fill="#fd47af"/>
<rect x="122.83" y="250.34" width="16.83" height="7.56" fill="#ffffff"/>
<rect x="138.86" y="250.34" width="16.83" height="7.56" fill="#ffffff"/>
<rect x="154.89" y="250.34" width="16.83" height="7.56" fill="#ffffff"/>
<rect x="170.92" y="250.34" width="16.83" height="7.56" fill="#fd47af"/>
<rect x="186.95" y="250.34" width="16.83" height="7.56" fill="#f680ca"/>
<rect x="202.98" y="250.34" width="16.83" height="7.56" fill="#fb57b9"/>
<rect x="219.01" y="250.34" width="16.03" height="7.56" fill="#f96ac2"/>
<rect x="239.3" y="250.34" width="16.8" height="7.56" fill="#fb57b9"/>
<rect x="255.3" y="250.34" width="16.8" height="7.56" fill="#ffffff"/>
<rect x="271.3" y="250.34" width="16.8" height="7.56" fill="#f496d2"/>
<rect x="287.3" y="250.34" width="16" height="7.56" fill="#fb57b9"/>
<rect x="70.6" y="257.11" width="16.75" height="7.56" fill="#ffffff"/>
<rect x="86.55" y="257.11" width="15.95" height="7.56" fill="#ffffff"/>
<rect x="106.8" y="257.11" width="16.83" height="7.56" fill="#fd47af"/>
<rect x="122.83" y="257.11" width="16.83" height="7.56" fill="#ffffff"/>
<rect x="138.86" y="257.11" width="16.83" height="7.56" fill="#cec0d5"/>
<rect x="154.89" y="257.11" width="16.83" height="7.56" fill="#ffffff"/>
<rect x="170.92" y="257.11" width="16.83" height="7.56" fill="#fd47af"/>
<rect x="186.95" y="257.11" width="16.83" height="7.56" fill="#f680ca"/>
<rect x="202.98" y="257.11" width="16.83" height="7.56" fill="#fb57b9"/>
<rect x="219.01" y="257.11" width="16.03" height="7.56" fill="#f96ac2"/>
<rect x="239.3" y="257.11" width="16.8" height="7.56" fill="#fd47af"/>
<rect x="255.3" y="257.11" width="16.8" height="7.56" fill="#ffffff"/>
<rect x="271.3" y="257.11" width="16.8" height="7.56" fill="#f496d2"/>
<rect x="287.3" y="257.11" width="16" height="7.56" fill="#fb57b9"/>
<rect x="70.6" y="263.88" width="16.75" height="7.56" fill="#ffffff"/>
<rect x="86.55" y="263.88" width="15.95" height="7.56" fill="#ffffff"/>
<rect x="106.8" y="263.88" width="16.83" height="7.56" fill="#fb57b9"/>
<rect x="122.83" y="263.88" width="16.83" height="7.56" fill="#ffffff"/>
<rect x="138.86" y="263.88" width="16.83" height="7.56" fill="#bbaac4"/>
<rect x="154.89" y="263.88" width="16.83" height="7.56" fill="#ffffff"/>
<rect x="170.92" y="263.88" width="16.83" height="7.56" fill="#fb57b9"/>
<rect x="186.95" y="263.88" width="16.83" height="7.56" fill="#f680ca"/>
<rect x="202.98" y="263.88" width="16.83" height="7.56" fill="#fb57b9"/>
<rect x="219.01" y="263.88" width="16.03" height="7.56" fill="#f680ca"/>
<rect x="239.3" y="263.88" width="16.8" height="7.56" fill="#fb57b9"/>
<rect x="255.3" y="263.88" width="16.8" height="7.56" fill="#ffffff"/>
<rect x="271.3" y="263.88" width="16.8" height="7.56" fill="#f496d2"/>
<rect x="287.3" y="263.88" width="16" height="7.56" fill="#fb57b9"/>
<rect x="70.6" y="270.64" width="16.75" height="7.56" fill="#ffffff"/>
<rect x="86.55" y="270.64" width="15.95" height="7.56" fill="#ffffff"/>
<rect x="106.8" y="270.64" width="16.83" height="7.56" fill="#fb57b9"/>
<rect x="122.83" y="270.64" width="16.83" height="7.56" fill="#ffffff"/>
<rect x="138.86" y="270.64" width="16.83" height="7.56" fill="#d7cbdd"/>
<rect x="154.89" y="270.64" width="16.83" height="7.56" fill="#ffffff"/>
<rect x="170.92" y="270.64" width="16.83" height="7.56" fill="#fd47af"/>
<rect x="186.95" y="270.64" width="16.83" height="7.56" fill="#f680ca"/>
<rect x="202.98" y="270.64" width="16.83" height="7.56" fill="#fb57b9"/>
<rect x="219.01" y="270.64" width="16.03" height="7.56" fill="#f96ac2"/>
<rect x="239.3" y="270.64" width="16.8" height="7.56" fill="#fd47af"/>
<rect x="255.3" y="270.64" width="16.8" height="7.56" fill="#f4c6e5"/>
<rect x="271.3" y="270.64" width="16.8" height="7.56" fill="#f680ca"/>
<rect x="287.3" y="270.64" width="16" height="7.56" fill="#fb57b9"/>
<rect x="70.6" y="277.4" width="16.75" height="7.56" fill="#ffffff"/>
<rect x="86.55" y="277.4" width="15.95" height="7.56" fill="#cec0d5"/>
<rect x="106.8" y="277.4" width="16.83" height="7.56" fill="#ffffff"/>
<rect x="122.83" y="277.4" width="16.83" height="7.56" fill="#ffffff"/>
<rect x="138.86" y="277.4" width="16.83" height="7.56" fill="#bbaac4"/>
<rect x="154.89" y="277.4" width="16.83" height="7.56" fill="#cec0d5"/>
<rect x="170.92" y="277.4" width="16.83" height="7.56" fill="#ffffff"/>
<rect x="186.95" y="277.4" width="16.83" height="7.56" fill="#ffffff"/>
<rect x="202.98" y="277.4" width="16.83" height="7.56" fill="#ffffff"/>
<rect x="219.01" y="277.4" width="16.03" height="7.56" fill="#bbaac4"/>
<rect x="239.3" y="277.4" width="16.8" height="7.56" fill="#ffffff"/>
<rect x="255.3" y="277.4" width="16.8" height="7.56" fill="#ffffff"/>
<rect x="271.3" y="277.4" width="16.8" height="7.56" fill="#ffffff"/>
<rect x="287.3" y="277.4" width="16" height="7.56" fill="#ffffff"/>
<rect x="70.6" y="284.17" width="16.75" height="7.56" fill="#ffffff"/>
<rect x="86.55" y="284.17" width="15.95" height="7.56" fill="#ffffff"/>
<rect x="106.8" y="284.17" width="16.83" height="7.56" fill="#ffffff"/>
<rect x="122.83" y="284.17" width="16.83" height="7.56" fill="#ffffff"/>
<rect x="138.86" y="284.17" width="16.83" height="7.56" fill="#ffffff"/>
<rect x="154.89" y="284.17" width="16.83" height="7.56" fill="#ffffff"/>
<rect x="170.92" y="284.17" width="16.83" height="7.56" fill="#ffffff"/>
<rect x="186.95" y="284.17" width="16.83" height="7.56" fill="#ffffff"/>
<rect x="202.98" y="284.17" width="16.83" height="7.56" fill="#cec0d5"/>
<rect x="219.01" y="284.17" width="16.03" height="7.56" fill="#bbaac4"/>
<rect x="239.3" y="284.17" width="16.8" height="7.56" fill="#ffffff"/>
<rect x="255.3" y="284.17" width="16.8" height="7.56" fill="#bbaac4"/>
<rect x="271.3" y="284.17" width="16.8" height="7.56" fill="#ffffff"/>
<rect x="287.3" y="284.17" width="16" height="7.56" fill="#ffffff"/>
<rect x="70.6" y="290.94" width="16.75" height="7.56" fill="#ffffff"/>
<rect x="86.55" y="290.94" width="15.95" height="7.56" fill="#ffffff"/>
<rect x="106.8" y="290.94" width="16.83" height="7.56" fill="#ffffff"/>
<rect x="122.83" y="290.94" width="16.83" height="7.56" fill="#ffffff"/>
<rect x="138.86" y="290.94" width="16.83" height="7.56" fill="#ffffff"/>
<rect x="154.89" y="290.94" width="16.83" height="7.56" fill="#ffffff"/>
<rect x="170.92" y="290.94" width="16.83" height="7.56" fill="#ffffff"/>
<rect x="186.95" y="290.94" width="16.83" height="7.56" fill="#ffffff"/>
<rect x="202.98" y="290.94" width="16.83" height="7.56" fill="#bbaac4"/>
<rect x="219.01" y="290.94" width="16.03" height="7.56" fill="#bbaac4"/>
<rect x="239.3" y="290.94" width="16.8" height="7.56" fill="#ffffff"/>
<rect x="255.3" y="290.94" width="16.8" height="7.56" fill="#bbaac4"/>
<rect x="271.3" y="290.94" width="16.8" height="7.56" fill="#cec0d5"/>
<rect x="287.3" y="290.94" width="16" height="7.56" fill="#cec0d5"/>
<rect x="70.6" y="297.7" width="16.75" height="7.56" fill="#cec0d5"/>
<rect x="86.55" y="297.7" width="15.95" height="7.56" fill="#cec0d5"/>
<rect x="106.8" y="297.7" width="16.83" height="7.56" fill="#cec0d5"/>
<rect x="122.83" y="297.7" width="16.83" height="7.56" fill="#d7cbdd"/>
<rect x="138.86" y="297.7" width="16.83" height="7.56" fill="#bbaac4"/>
<rect x="154.89" y="297.7" width="16.83" height="7.56" fill="#ffffff"/>
<rect x="170.92" y="297.7" width="16.83" height="7.56" fill="#ffffff"/>
<rect x="186.95" y="297.7" width="16.83" height="7.56" fill="#ffffff"/>
<rect x="202.98" y="297.7" width="16.83" height="7.56" fill="#bbaac4"/>
<rect x="219.01" y="297.7" width="16.03" height="7.56" fill="#957aa2"/>
<rect x="239.3" y="297.7" width="16.8" height="7.56" fill="#cec0d5"/>
<rect x="255.3" y="297.7" width="16.8" height="7.56" fill="#bbaac4"/>
<rect x="271.3" y="297.7" width="16.8" height="7.56" fill="#cec0d5"/>
<rect x="287.3" y="297.7" width="16" height="7.56" fill="#bbaac4"/>
<rect x="70.6" y="304.47" width="16.75" height="7.56" fill="#f4bee2"/>
<rect x="86.55" y="304.47" width="15.95" height="7.56" fill="#f4c6e5"/>
<rect x="106.8" y="304.47" width="16.83" height="7.56" fill="#ffffff"/>
<rect x="122.83" y="304.47" width="16.83" height="7.56" fill="#ffffff"/>
<rect x="138.86" y="304.47" width="16.83" height="7.56" fill="#ffffff"/>
<rect x="154.89" y="304.47" width="16.83" height="7.56" fill="#f4c6e5"/>
<rect x="170.92" y="304.47" width="16.83" height="7.56" fill="#ffffff"/>
<rect x="186.95" y="304.47" width="16.83" height="7.56" fill="#ffffff"/>
<rect x="202.98" y="304.47" width="16.83" height="7.56" fill="#ffffff"/>
<rect x="219.01" y="304.47" width="16.03" height="7.56" fill="#f4bee2"/>
<rect x="239.3" y="304.47" width="16.8" height="7.56" fill="#ffffff"/>
<rect x="255.3" y="304.47" width="16.8" height="7.56" fill="#ffffff"/>
<rect x="271.3" y="304.47" width="16.8" height="7.56" fill="#ffffff"/>
<rect x="287.3" y="304.47" width="16" height="7.56" fill="#ffffff"/>
<rect x="70.6" y="311.23" width="16.75" height="7.56" fill="#d7cbdd"/>
<rect x="86.55" y="311.23" width="15.95" height="7.56" fill="#ffffff"/>
<rect x="106.8" y="311.23" width="16.83" height="7.56" fill="#ffffff"/>
<rect x="122.83" y="311.23" width="16.83" height="7.56" fill="#ffffff"/>
<rect x="138.86" y="311.23" width="16.83" height="7.56" fill="#ffffff"/>
<rect x="154.89" y="311.23" width="16.83" height="7.56" fill="#ffffff"/>
<rect x="170.92" y="311.23" width="16.83" height="7.56" fill="#ffffff"/>
<rect x="186.95" y="311.23" width="16.83" height="7.56" fill="#ffffff"/>
<rect x="202.98" y="311.23" width="16.83" height="7.56" fill="#ffffff"/>
<rect x="219.01" y="311.23" width="16.03" height="7.56" fill="#ffffff"/>
<rect x="239.3" y="311.23" width="16.8" height="7.56" fill="#ffffff"/>
<rect x="255.3" y="311.23" width="16.8" height="7.56" fill="#a894b4"/>
<rect x="271.3" y="311.23" width="16.8" height="7.56" fill="#bbaac4"/>
<rect x="287.3" y="311.23" width="16" height="7.56" fill="#cec0d5"/>
<rect x="70.6" y="318" width="16.75" height="7.56" fill="#bbaac4"/>
<rect x="86.55" y="318" width="15.95" height="7.56" fill="#cec0d5"/>
<rect x="106.8" y="318" width="16.83" height="7.56" fill="#bbaac4"/>
<rect x="122.83" y="318" width="16.83" height="7.56" fill="#957aa2"/>
<rect x="138.86" y="318" width="16.83" height="7.56" fill="#bbaac4"/>
<rect x="154.89" y="318" width="16.83" height="7.56" fill="#cec0d5"/>
<rect x="170.92" y="318" width="16.83" height="7.56" fill="#ffffff"/>
<rect x="186.95" y="318" width="16.83" height="7.56" fill="#cec0d5"/>
<rect x="202.98" y="318" width="16.83" height="7.56" fill="#ffffff"/>
<rect x="219.01" y="318" width="16.03" height="7.56" fill="#a894b4"/>
<rect x="239.3" y="318" width="16.8" height="7.56" fill="#bbaac4"/>
<rect x="255.3" y="318" width="16.8" height="7.56" fill="#957aa2"/>
<rect x="271.3" y="318" width="16.8" height="7.56" fill="#bbaac4"/>
<rect x="287.3" y="318" width="16" height="7.56" fill="#bbaac4"/>
<rect x="70.6" y="324.76" width="16.75" height="7.56" fill="#bbaac4"/>
<rect x="86.55" y="324.76" width="15.95" height="7.56" fill="#cec0d5"/>
<rect x="106.8" y="324.76" width="16.83" height="7.56" fill="#bbaac4"/>
<rect x="122.83" y="324.76" width="16.83" height="7.56" fill="#825f91"/>
<rect x="138.86" y="324.76" width="16.83" height="7.56" fill="#bbaac4"/>
<rect x="154.89" y="324.76" width="16.83" height="7.56" fill="#d7cbdd"/>
<rect x="170.92" y="324.76" width="16.83" height="7.56" fill="#ffffff"/>
<rect x="186.95" y="324.76" width="16.83" height="7.56" fill="#ffffff"/>
<rect x="202.98" y="324.76" width="16.83" height="7.56" fill="#ffffff"/>
<rect x="219.01" y="324.76" width="16.03" height="7.56" fill="#825f91"/>
<rect x="239.3" y="324.76" width="16.8" height="7.56" fill="#bbaac4"/>
<rect x="255.3" y="324.76" width="16.8" height="7.56" fill="#6e4680"/>
<rect x="271.3" y="324.76" width="16.8" height="7.56" fill="#a894b4"/>
<rect x="287.3" y="324.76" width="16" height="7.56" fill="#bbaac4"/>
<rect x="70.6" y="331.53" width="16.75" height="7.56" fill="#957aa2"/>
<rect x="86.55" y="331.53" width="15.95" height="7.56" fill="#957aa2"/>
<rect x="106.8" y="331.53" width="16.83" height="7.56" fill="#bbaac4"/>
<rect x="122.83" y="331.53" width="16.83" height="7.56" fill="#a894b4"/>
<rect x="138.86" y="331.53" width="16.83" height="7.56" fill="#957aa2"/>
<rect x="154.89" y="331.53" width="16.83" height="7.56" fill="#957aa2"/>
<rect x="170.92" y="331.53" width="16.83" height="7.56" fill="#ffffff"/>
<rect x="186.95" y="331.53" width="16.83" height="7.56" fill="#ffffff"/>
<rect x="202.98" y="331.53" width="16.83" height="7.56" fill="#a894b4"/>
<rect x="219.01" y="331.53" width="16.03" height="7.56" fill="#825f91"/>
<rect x="239.3" y="331.53" width="16.8" height="7.56" fill="#a894b4"/>
<rect x="255.3" y="331.53" width="16.8" height="7.56" fill="#825f91"/>
<rect x="271.3" y="331.53" width="16.8" height="7.56" fill="#d7cbdd"/>
<rect x="287.3" y="331.53" width="16" height="7.56" fill="#a894b4"/>
<rect x="70.6" y="338.29" width="16.75" height="7.56" fill="#825f91"/>
<rect x="86.55" y="338.29" width="15.95" height="7.56" fill="#825f91"/>
<rect x="106.8" y="338.29" width="16.83" height="7.56" fill="#a894b4"/>
<rect x="122.83" y="338.29" width="16.83" height="7.56" fill="#a894b4"/>
<rect x="138.86" y="338.29" width="16.83" height="7.56" fill="#6e4680"/>
<rect x="154.89" y="338.29" width="16.83" height="7.56" fill="#957aa2"/>
<rect x="170.92" y="338.29" width="16.83" height="7.56" fill="#ffffff"/>
<rect x="186.95" y="338.29" width="16.83" height="7.56" fill="#bbaac4"/>
<rect x="202.98" y="338.29" width="16.83" height="7.56" fill="#a894b4"/>
<rect x="219.01" y="338.29" width="16.03" height="7.56" fill="#5b2d6f"/>
<rect x="239.3" y="338.29" width="16.8" height="7.56" fill="#a894b4"/>
<rect x="255.3" y="338.29" width="16.8" height="7.56" fill="#48145e"/>
<rect x="271.3" y="338.29" width="16.8" height="7.56" fill="#bbaac4"/>
<rect x="287.3" y="338.29" width="16" height="7.56" fill="#957aa2"/>
<rect x="70.6" y="345.06" width="16.75" height="7.56" fill="#825f91"/>
<rect x="86.55" y="345.06" width="15.95" height="7.56" fill="#825f91"/>
<rect x="106.8" y="345.06" width="16.83" height="7.56" fill="#957aa2"/>
<rect x="122.83" y="345.06" width="16.83" height="7.56" fill="#a894b4"/>
<rect x="138.86" y="345.06" width="16.83" height="7.56" fill="#6e4680"/>
<rect x="154.89" y="345.06" width="16.83" height="7.56" fill="#957aa2"/>
<rect x="170.92" y="345.06" width="16.83" height="7.56" fill="#d7cbdd"/>
<rect x="186.95" y="345.06" width="16.83" height="7.56" fill="#a894b4"/>
<rect x="202.98" y="345.06" width="16.83" height="7.56" fill="#a894b4"/>
<rect x="219.01" y="345.06" width="16.03" height="7.56" fill="#5b2d6f"/>
<rect x="239.3" y="345.06" width="16.8" height="7.56" fill="#a894b4"/>
<rect x="255.3" y="345.06" width="16.8" height="7.56" fill="#48145e"/>
<rect x="271.3" y="345.06" width="16.8" height="7.56" fill="#a894b4"/>
<rect x="287.3" y="345.06" width="16" height="7.56" fill="#825f91"/>
<rect x="70.6" y="351.82" width="16.75" height="7.56" fill="#957aa2"/>
<rect x="86.55" y="351.82" width="15.95" height="7.56" fill="#825f91"/>
<rect x="106.8" y="351.82" width="16.83" height="7.56" fill="#a894b4"/>
<rect x="122.83" y="351.82" width="16.83" height="7.56" fill="#957aa2"/>
<rect x="138.86" y="351.82" width="16.83" height="7.56" fill="#825f91"/>
<rect x="154.89" y="351.82" width="16.83" height="7.56" fill="#bbaac4"/>
<rect x="170.92" y="351.82" width="16.83" height="7.56" fill="#bbaac4"/>
<rect x="186.95" y="351.82" width="16.83" height="7.56" fill="#bbaac4"/>
<rect x="202.98" y="351.82" width="16.83" height="7.56" fill="#a894b4"/>
<rect x="219.01" y="351.82" width="16.03" height="7.56" fill="#5b2d6f"/>
<rect x="239.3" y="351.82" width="16.8" height="7.56" fill="#bbaac4"/>
<rect x="255.3" y="351.82" width="16.8" height="7.56" fill="#6e4680"/>
<rect x="271.3" y="351.82" width="16.8" height="7.56" fill="#a894b4"/>
<rect x="287.3" y="351.82" width="16" height="7.56" fill="#a894b4"/>
<rect x="70.6" y="358.58" width="16.75" height="7.56" fill="#cec0d5"/>
<rect x="86.55" y="358.58" width="15.95" height="7.56" fill="#cec0d5"/>
<rect x="106.8" y="358.58" width="16.83" height="7.56" fill="#ffffff"/>
<rect x="122.83" y="358.58" width="16.83" height="7.56" fill="#ffffff"/>
<rect x="138.86" y="358.58" width="16.83" height="7.56" fill="#cec0d5"/>
<rect x="154.89" y="358.58" width="16.83" height="7.56" fill="#ffffff"/>
<rect x="170.92" y="358.58" width="16.83" height="7.56" fill="#ffffff"/>
<rect x="186.95" y="358.58" width="16.83" height="7.56" fill="#ffffff"/>
<rect x="202.98" y="358.58" width="16.83" height="7.56" fill="#ffffff"/>
<rect x="219.01" y="358.58" width="16.03" height="7.56" fill="#cec0d5"/>
<rect x="239.3" y="358.58" width="16.8" height="7.56" fill="#ffffff"/>
<rect x="255.3" y="358.58" width="16.8" height="7.56" fill="#d7cbdd"/>
<rect x="271.3" y="358.58" width="16.8" height="7.56" fill="#ffffff"/>
<rect x="287.3" y="358.58" width="16" height="7.56" fill="#cec0d5"/>
<rect x="70.6" y="365.35" width="16.75" height="7.56" fill="#ffffff"/>
<rect x="86.55" y="365.35" width="15.95" height="7.56" fill="#cec0d5"/>
<rect x="106.8" y="365.35" width="16.83" height="7.56" fill="#ffffff"/>
<rect x="122.83" y="365.35" width="16.83" height="7.56" fill="#ffffff"/>
<rect x="138.86" y="365.35" width="16.83" height="7.56" fill="#ffffff"/>
<rect x="154.89" y="365.35" width="16.83" height="7.56" fill="#ffffff"/>
<rect x="170.92" y="365.35" width="16.83" height="7.56" fill="#ffffff"/>
<rect x="186.95" y="365.35" width="16.83" height="7.56" fill="#ffffff"/>
<rect x="202.98" y="365.35" width="16.83" height="7.56" fill="#ffffff"/>
<rect x="219.01" y="365.35" width="16.03" height="7.56" fill="#cec0d5"/>
<rect x="239.3" y="365.35" width="16.8" height="7.56" fill="#ffffff"/>
<rect x="255.3" y="365.35" width="16.8" height="7.56" fill="#ffffff"/>
<rect x="271.3" y="365.35" width="16.8" height="7.56" fill="#ffffff"/>
<rect x="287.3" y="365.35" width="16" height="7.56" fill="#ffffff"/>
<rect x="70.6" y="372.12" width="16.75" height="7.56" fill="#825f91"/>
<rect x="86.55" y="372.12" width="15.95" height="7.56" fill="#6e4680"/>
<rect x="106.8" y="372.12" width="16.83" height="7.56" fill="#ffffff"/>
<rect x="122.83" y="372.12" width="16.83" height="7.56" fill="#bbaac4"/>
<rect x="138.86" y="372.12" width="16.83" height="7.56" fill="#957aa2"/>
<rect x="154.89" y="372.12" width="16.83" height="7.56" fill="#cec0d5"/>
<rect x="170.92" y="372.12" width="16.83" height="7.56" fill="#a894b4"/>
<rect x="186.95" y="372.12" width="16.83" height="7.56" fill="#ffffff"/>
<rect x="202.98" y="372.12" width="16.83" height="7.56" fill="#bbaac4"/>
<rect x="219.01" y="372.12" width="16.03" height="7.56" fill="#957aa2"/>
<rect x="239.3" y="372.12" width="16.8" height="7.56" fill="#ffffff"/>
<rect x="255.3" y="372.12" width="16.8" height="7.56" fill="#bbaac4"/>
<rect x="271.3" y="372.12" width="16.8" height="7.56" fill="#cec0d5"/>
<rect x="287.3" y="372.12" width="16" height="7.56" fill="#cec0d5"/>
<rect x="70.6" y="378.88" width="16.75" height="7.56" fill="#ffffff"/>
<rect x="86.55" y="378.88" width="15.95" height="7.56" fill="#cec0d5"/>
<rect x="106.8" y="378.88" width="16.83" height="7.56" fill="#ffffff"/>
<rect x="122.83" y="378.88" width="16.83" height="7.56" fill="#ffffff"/>
<rect x="138.86" y="378.88" width="16.83" height="7.56" fill="#ffffff"/>
<rect x="154.89" y="378.88" width="16.83" height="7.56" fill="#ffffff"/>
<rect x="170.92" y="378.88" width="16.83" height="7.56" fill="#ffffff"/>
<rect x="186.95" y="378.88" width="16.83" height="7.56" fill="#ffffff"/>
<rect x="202.98" y="378.88" width="16.83" height="7.56" fill="#ffffff"/>
<rect x="219.01" y="378.88" width="16.03" height="7.56" fill="#ffffff"/>
<rect x="239.3" y="378.88" width="16.8" height="7.56" fill="#ffffff"/>
<rect x="255.3" y="378.88" width="16.8" height="7.56" fill="#ffffff"/>
<rect x="271.3" y="378.88" width="16.8" height="7.56" fill="#ffffff"/>
<rect x="287.3" y="378.88" width="16" height="7.56" fill="#ffffff"/>
<rect x="70.6" y="385.64" width="16.75" height="7.56" fill="#cec0d5"/>
<rect x="86.55" y="385.64" width="15.95" height="7.56" fill="#ffffff"/>
<rect x="106.8" y="385.64" width="16.83" height="7.56" fill="#ffffff"/>
<rect x="122.83" y="385.64" width="16.83" height="7.56" fill="#a894b4"/>
<rect x="138.86" y="385.64" width="16.83" height="7.56" fill="#bbaac4"/>
<rect x="154.89" y="385.64" width="16.83" height="7.56" fill="#cec0d5"/>
<rect x="170.92" y="385.64" width="16.83" height="7.56" fill="#ffffff"/>
<rect x="186.95" y="385.64" width="16.83" height="7.56" fill="#ffffff"/>
<rect x="202.98" y="385.64" width="16.83" height="7.56" fill="#ffffff"/>
<rect x="219.01" y="385.64" width="16.03" height="7.56" fill="#ffffff"/>
<rect x="239.3" y="385.64" width="16.8" height="7.56" fill="#ffffff"/>
<rect x="255.3" y="385.64" width="16.8" height="7.56" fill="#ffffff"/>
<rect x="271.3" y="385.64" width="16.8" height="7.56" fill="#ffffff"/>
<rect x="287.3" y="385.64" width="16" height="7.56" fill="#ffffff"/>
<rect x="70.6" y="392.41" width="16.75" height="7.56" fill="#cec0d5"/>
<rect x="86.55" y="392.41" width="15.95" height="7.56" fill="#ffffff"/>
<rect x="106.8" y="392.41" width="16.83" height="7.56" fill="#ffffff"/>
<rect x="122.83" y="392.41" width="16.83" height="7.56" fill="#bbaac4"/>
<rect x="138.86" y="392.41" width="16.83" height="7.56" fill="#bbaac4"/>
<rect x="154.89" y="392.41" width="16.83" height="7.56" fill="#cec0d5"/>
<rect x="170.92" y="392.41" width="16.83" height="7.56" fill="#d7cbdd"/>
<rect x="186.95" y="392.41" width="16.83" height="7.56" fill="#d7cbdd"/>
<rect x="202.98" y="392.41" width="16.83" height="7.56" fill="#ffffff"/>
<rect x="219.01" y="392.41" width="16.03" height="7.56" fill="#ffffff"/>
<rect x="239.3" y="392.41" width="16.8" height="7.56" fill="#ffffff"/>
<rect x="255.3" y="392.41" width="16.8" height="7.56" fill="#ffffff"/>
<rect x="271.3" y="392.41" width="16.8" height="7.56" fill="#ffffff"/>
<rect x="287.3" y="392.41" width="16" height="7.56" fill="#ffffff"/>
<rect x="70.6" y="399.18" width="16.75" height="7.56" fill="#ffffff"/>
<rect x="86.55" y="399.18" width="15.95" height="7.56" fill="#fb57b9"/>
<rect x="106.8" y="399.18" width="16.83" height="7.56" fill="#ffffff"/>
<rect x="122.83" y="399.18" width="16.83" height="7.56" fill="#ffffff"/>
<rect x="138.86" y="399.18" width="16.83" height="7.56" fill="#ffffff"/>
<rect x="154.89" y="399.18" width="16.83" height="7.56" fill="#ffffff"/>
<rect x="170.92" y="399.18" width="16.83" height="7.56" fill="#ffffff"/>
<rect x="186.95" y="399.18" width="16.83" height="7.56" fill="#ffffff"/>
<rect x="202.98" y="399.18" width="16.83" height="7.56" fill="#f4c6e5"/>
<rect x="219.01" y="399.18" width="16.03" height="7.56" fill="#f4c6e5"/>
<rect x="239.3" y="399.18" width="16.8" height="7.56" fill="#ffffff"/>
<rect x="255.3" y="399.18" width="16.8" height="7.56" fill="#ffffff"/>
<rect x="271.3" y="399.18" width="16.8" height="7.56" fill="#ffffff"/>
<rect x="287.3" y="399.18" width="16" height="7.56" fill="#ffffff"/>
<rect x="70.6" y="405.94" width="16.75" height="7.56" fill="#ffffff"/>
<rect x="86.55" y="405.94" width="15.95" height="7.56" fill="#f96ac2"/>
<rect x="106.8" y="405.94" width="16.83" height="7.56" fill="#ffffff"/>
<rect x="122.83" y="405.94" width="16.83" height="7.56" fill="#ffffff"/>
<rect x="138.86" y="405.94" width="16.83" height="7.56" fill="#ffffff"/>
<rect x="154.89" y="405.94" width="16.83" height="7.56" fill="#ffffff"/>
<rect x="170.92" y="405.94" width="16.83" height="7.56" fill="#ffffff"/>
<rect x="186.95" y="405.94" width="16.83" height="7.56" fill="#ffffff"/>
<rect x="202.98" y="405.94" width="16.83" height="7.56" fill="#ffffff"/>
<rect x="219.01" y="405.94" width="16.03" height="7.56" fill="#ffffff"/>
<rect x="239.3" y="405.94" width="16.8" height="7.56" fill="#ffffff"/>
<rect x="255.3" y="405.94" width="16.8" height="7.56" fill="#ffffff"/>
<rect x="271.3" y="405.94" width="16.8" height="7.56" fill="#ffffff"/>
<rect x="287.3" y="405.94" width="16" height="7.56" fill="#ffffff"/>
<rect x="70.6" y="412.7" width="16.75" height="7.56" fill="#ffffff"/>
<rect x="86.55" y="412.7" width="15.95" height="7.56" fill="#f96ac2"/>
<rect x="106.8" y="412.7" width="16.83" height="7.56" fill="#ffffff"/>
<rect x="122.83" y="412.7" width="16.83" height="7.56" fill="#ffffff"/>
<rect x="138.86" y="412.7" width="16.83" height="7.56" fill="#ffffff"/>
<rect x="154.89" y="412.7" width="16.83" height="7.56" fill="#ffffff"/>
<rect x="170.92" y="412.7" width="16.83" height="7.56" fill="#ffffff"/>
<rect x="186.95" y="412.7" width="16.83" height="7.56" fill="#ffffff"/>
<rect x="202.98" y="412.7" width="16.83" height="7.56" fill="#ffffff"/>
<rect x="219.01" y="412.7" width="16.03" height="7.56" fill="#ffffff"/>
<rect x="239.3" y="412.7" width="16.8" height="7.56" fill="#ffffff"/>
<rect x="255.3" y="412.7" width="16.8" height="7.56" fill="#ffffff"/>
<rect x="271.3" y="412.7" width="16.8" height="7.56" fill="#ffffff"/>
<rect x="287.3" y="412.7" width="16" height="7.56" fill="#ffffff"/>
<rect x="70.6" y="419.47" width="16.75" height="7.56" fill="#f4c6e5"/>
<rect x="86.55" y="419.47" width="15.95" height="7.56" fill="#f4c6e5"/>
<rect x="106.8" y="419.47" width="16.83" height="7.56" fill="#f4aada"/>
<rect x="122.83" y="419.47" width="16.83" height="7.56" fill="#f680ca"/>
<rect x="138.86" y="419.47" width="16.83" height="7.56" fill="#f4c6e5"/>
<rect x="154.89" y="419.47" width="16.83" height="7.56" fill="#fd47af"/>
<rect x="170.92" y="419.47" width="16.83" height="7.56" fill="#ffffff"/>
<rect x="186.95" y="419.47" width="16.83" height="7.56" fill="#f4aada"/>
<rect x="202.98" y="419.47" width="16.83" height="7.56" fill="#f4aada"/>
<rect x="219.01" y="419.47" width="16.03" height="7.56" fill="#f4bee2"/>
<rect x="239.3" y="419.47" width="16.8" height="7.56" fill="#f4aada"/>
<rect x="255.3" y="419.47" width="16.8" height="7.56" fill="#f4aada"/>
<rect x="271.3" y="419.47" width="16.8" height="7.56" fill="#f496d2"/>
<rect x="287.3" y="419.47" width="16" height="7.56" fill="#f4bee2"/>
<rect x="70.6" y="426.24" width="16.75" height="7.56" fill="#f4bee2"/>
<rect x="86.55" y="426.24" width="15.95" height="7.56" fill="#f4bee2"/>
<rect x="106.8" y="426.24" width="16.83" height="7.56" fill="#f496d2"/>
<rect x="122.83" y="426.24" width="16.83" height="7.56" fill="#f680ca"/>
<rect x="138.86" y="426.24" width="16.83" height="7.56" fill="#f4aada"/>
<rect x="154.89" y="426.24" width="16.83" height="7.56" fill="#ff37a5"/>
<rect x="170.92" y="426.24" width="16.83" height="7.56" fill="#ffffff"/>
<rect x="186.95" y="426.24" width="16.83" height="7.56" fill="#f496d2"/>
<rect x="202.98" y="426.24" width="16.83" height="7.56" fill="#f496d2"/>
<rect x="219.01" y="426.24" width="16.03" height="7.56" fill="#f4aada"/>
<rect x="239.3" y="426.24" width="16.8" height="7.56" fill="#f680ca"/>
<rect x="255.3" y="426.24" width="16.8" height="7.56" fill="#f4aada"/>
<rect x="271.3" y="426.24" width="16.8" height="7.56" fill="#f680ca"/>
<rect x="287.3" y="426.24" width="16" height="7.56" fill="#f496d2"/>
<rect x="70.6" y="433" width="16.75" height="6.76" fill="#f4aada"/>
<rect x="86.55" y="433" width="15.95" height="6.76" fill="#f4c6e5"/>
<rect x="106.8" y="433" width="16.83" height="6.76" fill="#ffffff"/>
<rect x="122.83" y="433" width="16.83" height="6.76" fill="#ffffff"/>
<rect x="138.86" y="433" width="16.83" height="6.76" fill="#ffffff"/>
<rect x="154.89" y="433" width="16.83" height="6.76" fill="#ffffff"/>
<rect x="170.92" y="433" width="16.83" height="6.76" fill="#ffffff"/>
<rect x="186.95" y="433" width="16.83" height="6.76" fill="#ffffff"/>
<rect x="202.98" y="433" width="16.83" height="6.76" fill="#ffffff"/>
<rect x="219.01" y="433" width="16.03" height="6.76" fill="#ffffff"/>
<rect x="239.3" y="433" width="16.8" height="6.76" fill="#ffffff"/>
<rect x="255.3" y="433" width="16.8" height="6.76" fill="#ffffff"/>
<rect x="271.3" y="433" width="16.8" height="6.76" fill="#ffffff"/>
<rect x="287.3" y="433" width="16" height="6.76" fill="#ffffff"/>
</g>
<line x1="70.6" y1="27.1" x2="303.5" y2="27.1" stroke="#555" stroke-width="0.9"/>
<line x1="70.6" y1="439.76" x2="303.5" y2="439.76" stroke="#555" stroke-width="0.9"/>
<line x1="70.6" y1="27.1" x2="70.6" y2="439.76" stroke="#333" stroke-width="1.0"/>
<line x1="303.5" y1="27.1" x2="303.5" y2="439.76" stroke="#333" stroke-width="0.9"/>
<line x1="104.5" y1="27.1" x2="104.5" y2="439.76" stroke="#222" stroke-width="1.0"/>
<line x1="237.5" y1="27.1" x2="237.5" y2="439.76" stroke="#222" stroke-width="1.0"/>
<line x1="67.9" y1="30.48" x2="70.6" y2="30.48" stroke="#222" stroke-width="1.0"/>
<text x="67.8" y="32.78" text-anchor="end" font-family='"Liberation Sans", sans-serif' font-size="6.6" font-weight="bold" font-style="italic" fill="#000" stroke="#000" stroke-width="0.2" textLength="15.54" lengthAdjust="spacingAndGlyphs">sacC</text>
<line x1="67.9" y1="37.25" x2="70.6" y2="37.25" stroke="#222" stroke-width="1.0"/>
<text x="67.8" y="39.55" text-anchor="end" font-family='"Liberation Sans", sans-serif' font-size="6.6" font-weight="bold" font-style="italic" fill="#000" stroke="#000" stroke-width="0.2" textLength="62.13" lengthAdjust="spacingAndGlyphs">pgap_annot_000088</text>
<line x1="67.9" y1="44.01" x2="70.6" y2="44.01" stroke="#222" stroke-width="1.0"/>
<text x="67.8" y="46.31" text-anchor="end" font-family='"Liberation Sans", sans-serif' font-size="6.6" font-weight="bold" font-style="italic" fill="#000" stroke="#000" stroke-width="0.2" textLength="13.36" lengthAdjust="spacingAndGlyphs">fruA</text>
<line x1="67.9" y1="50.78" x2="70.6" y2="50.78" stroke="#222" stroke-width="1.0"/>
<text x="67.8" y="53.08" text-anchor="end" font-family='"Liberation Sans", sans-serif' font-size="6.6" font-weight="bold" font-style="italic" fill="#000" stroke="#000" stroke-width="0.2" textLength="13.36" lengthAdjust="spacingAndGlyphs">fruD</text>
<line x1="67.9" y1="57.54" x2="70.6" y2="57.54" stroke="#222" stroke-width="1.0"/>
<text x="67.8" y="59.84" text-anchor="end" font-family='"Liberation Sans", sans-serif' font-size="6.6" font-weight="bold" font-style="italic" fill="#000" stroke="#000" stroke-width="0.2" textLength="13.73" lengthAdjust="spacingAndGlyphs">lacD</text>
<line x1="67.9" y1="64.31" x2="70.6" y2="64.31" stroke="#222" stroke-width="1.0"/>
<text x="67.8" y="66.61" text-anchor="end" font-family='"Liberation Sans", sans-serif' font-size="6.6" font-weight="bold" font-style="italic" fill="#000" stroke="#000" stroke-width="0.2" textLength="16.25" lengthAdjust="spacingAndGlyphs">oxdC</text>
<line x1="67.9" y1="71.07" x2="70.6" y2="71.07" stroke="#222" stroke-width="1.0"/>
<text x="67.8" y="73.37" text-anchor="end" font-family='"Liberation Sans", sans-serif' font-size="6.6" font-weight="bold" font-style="italic" fill="#000" stroke="#000" stroke-width="0.2" textLength="62.13" lengthAdjust="spacingAndGlyphs">pgap_annot_000259</text>
<line x1="67.9" y1="77.84" x2="70.6" y2="77.84" stroke="#222" stroke-width="1.0"/>
<text x="67.8" y="80.14" text-anchor="end" font-family='"Liberation Sans", sans-serif' font-size="6.6" font-weight="bold" font-style="italic" fill="#000" stroke="#000" stroke-width="0.2" textLength="13.73" lengthAdjust="spacingAndGlyphs">levA</text>
<line x1="67.9" y1="84.6" x2="70.6" y2="84.6" stroke="#222" stroke-width="1.0"/>
<text x="67.8" y="86.9" text-anchor="end" font-family='"Liberation Sans", sans-serif' font-size="6.6" font-weight="bold" font-style="italic" fill="#000" stroke="#000" stroke-width="0.2" textLength="13.73" lengthAdjust="spacingAndGlyphs">levB</text>
<line x1="67.9" y1="91.37" x2="70.6" y2="91.37" stroke="#222" stroke-width="1.0"/>
<text x="67.8" y="93.67" text-anchor="end" font-family='"Liberation Sans", sans-serif' font-size="6.6" font-weight="bold" font-style="italic" fill="#000" stroke="#000" stroke-width="0.2" textLength="13.73" lengthAdjust="spacingAndGlyphs">levC</text>
<line x1="67.9" y1="98.13" x2="70.6" y2="98.13" stroke="#222" stroke-width="1.0"/>
<text x="67.8" y="100.43" text-anchor="end" font-family='"Liberation Sans", sans-serif' font-size="6.6" font-weight="bold" font-style="italic" fill="#000" stroke="#000" stroke-width="0.2" textLength="13.73" lengthAdjust="spacingAndGlyphs">levD</text>
<line x1="67.9" y1="104.9" x2="70.6" y2="104.9" stroke="#222" stroke-width="1.0"/>
<text x="67.8" y="107.2" text-anchor="end" font-family='"Liberation Sans", sans-serif' font-size="6.6" font-weight="bold" font-style="italic" fill="#000" stroke="#000" stroke-width="0.2" textLength="18.06" lengthAdjust="spacingAndGlyphs">manN</text>
<line x1="67.9" y1="111.66" x2="70.6" y2="111.66" stroke="#222" stroke-width="1.0"/>
<text x="67.8" y="113.96" text-anchor="end" font-family='"Liberation Sans", sans-serif' font-size="6.6" font-weight="bold" font-style="italic" fill="#000" stroke="#000" stroke-width="0.2" textLength="18.78" lengthAdjust="spacingAndGlyphs">manM</text>
<line x1="67.9" y1="118.43" x2="70.6" y2="118.43" stroke="#222" stroke-width="1.0"/>
<text x="67.8" y="120.73" text-anchor="end" font-family='"Liberation Sans", sans-serif' font-size="6.6" font-weight="bold" font-style="italic" fill="#000" stroke="#000" stroke-width="0.2" textLength="17.33" lengthAdjust="spacingAndGlyphs">manL</text>
<line x1="67.9" y1="125.19" x2="70.6" y2="125.19" stroke="#222" stroke-width="1.0"/>
<text x="67.8" y="127.49" text-anchor="end" font-family='"Liberation Sans", sans-serif' font-size="6.6" font-weight="bold" font-style="italic" fill="#000" stroke="#000" stroke-width="0.2" textLength="14.45" lengthAdjust="spacingAndGlyphs">scrA</text>
<line x1="67.9" y1="131.96" x2="70.6" y2="131.96" stroke="#222" stroke-width="1.0"/>
<text x="67.8" y="134.26" text-anchor="end" font-family='"Liberation Sans", sans-serif' font-size="6.6" font-weight="bold" font-style="italic" fill="#000" stroke="#000" stroke-width="0.2" textLength="13.73" lengthAdjust="spacingAndGlyphs">celA</text>
<line x1="67.9" y1="138.72" x2="70.6" y2="138.72" stroke="#222" stroke-width="1.0"/>
<text x="67.8" y="141.02" text-anchor="end" font-family='"Liberation Sans", sans-serif' font-size="6.6" font-weight="bold" font-style="italic" fill="#000" stroke="#000" stroke-width="0.2" textLength="13.73" lengthAdjust="spacingAndGlyphs">celB</text>
<line x1="67.9" y1="145.49" x2="70.6" y2="145.49" stroke="#222" stroke-width="1.0"/>
<text x="67.8" y="147.79" text-anchor="end" font-family='"Liberation Sans", sans-serif' font-size="6.6" font-weight="bold" font-style="italic" fill="#000" stroke="#000" stroke-width="0.2" textLength="13.73" lengthAdjust="spacingAndGlyphs">celC</text>
<line x1="67.9" y1="152.25" x2="70.6" y2="152.25" stroke="#222" stroke-width="1.0"/>
<text x="67.8" y="154.55" text-anchor="end" font-family='"Liberation Sans", sans-serif' font-size="6.6" font-weight="bold" font-style="italic" fill="#000" stroke="#000" stroke-width="0.2" textLength="13.73" lengthAdjust="spacingAndGlyphs">celD</text>
<line x1="67.9" y1="159.02" x2="70.6" y2="159.02" stroke="#222" stroke-width="1.0"/>
<text x="67.8" y="161.32" text-anchor="end" font-family='"Liberation Sans", sans-serif' font-size="6.6" font-weight="bold" font-style="italic" fill="#000" stroke="#000" stroke-width="0.2" textLength="15.54" lengthAdjust="spacingAndGlyphs">malE</text>
<line x1="67.9" y1="165.78" x2="70.6" y2="165.78" stroke="#222" stroke-width="1.0"/>
<text x="67.8" y="168.08" text-anchor="end" font-family='"Liberation Sans", sans-serif' font-size="6.6" font-weight="bold" font-style="italic" fill="#000" stroke="#000" stroke-width="0.2" textLength="16.26" lengthAdjust="spacingAndGlyphs">malQ</text>
<line x1="67.9" y1="172.55" x2="70.6" y2="172.55" stroke="#222" stroke-width="1.0"/>
<text x="67.8" y="174.85" text-anchor="end" font-family='"Liberation Sans", sans-serif' font-size="6.6" font-weight="bold" font-style="italic" fill="#000" stroke="#000" stroke-width="0.2" textLength="14.08" lengthAdjust="spacingAndGlyphs">glgP</text>
<line x1="67.9" y1="179.31" x2="70.6" y2="179.31" stroke="#222" stroke-width="1.0"/>
<text x="67.8" y="181.61" text-anchor="end" font-family='"Liberation Sans", sans-serif' font-size="6.6" font-weight="bold" font-style="italic" fill="#000" stroke="#000" stroke-width="0.2" textLength="14.44" lengthAdjust="spacingAndGlyphs">glgB</text>
<line x1="67.9" y1="186.08" x2="70.6" y2="186.08" stroke="#222" stroke-width="1.0"/>
<text x="67.8" y="188.38" text-anchor="end" font-family='"Liberation Sans", sans-serif' font-size="6.6" font-weight="bold" font-style="italic" fill="#000" stroke="#000" stroke-width="0.2" textLength="14.44" lengthAdjust="spacingAndGlyphs">glgC</text>
<line x1="67.9" y1="192.84" x2="70.6" y2="192.84" stroke="#222" stroke-width="1.0"/>
<text x="67.8" y="195.14" text-anchor="end" font-family='"Liberation Sans", sans-serif' font-size="6.6" font-weight="bold" font-style="italic" fill="#000" stroke="#000" stroke-width="0.2" textLength="14.44" lengthAdjust="spacingAndGlyphs">glgD</text>
<line x1="67.9" y1="199.61" x2="70.6" y2="199.61" stroke="#222" stroke-width="1.0"/>
<text x="67.8" y="201.91" text-anchor="end" font-family='"Liberation Sans", sans-serif' font-size="6.6" font-weight="bold" font-style="italic" fill="#000" stroke="#000" stroke-width="0.2" textLength="14.44" lengthAdjust="spacingAndGlyphs">glgA</text>
<line x1="67.9" y1="206.37" x2="70.6" y2="206.37" stroke="#222" stroke-width="1.0"/>
<text x="67.8" y="208.67" text-anchor="end" font-family='"Liberation Sans", sans-serif' font-size="6.6" font-weight="bold" font-style="italic" fill="#000" stroke="#000" stroke-width="0.2" textLength="14.08" lengthAdjust="spacingAndGlyphs">glgP</text>
<line x1="67.9" y1="213.14" x2="70.6" y2="213.14" stroke="#222" stroke-width="1.0"/>
<text x="67.8" y="215.44" text-anchor="end" font-family='"Liberation Sans", sans-serif' font-size="6.6" font-weight="bold" font-style="italic" fill="#000" stroke="#000" stroke-width="0.2" textLength="13.73" lengthAdjust="spacingAndGlyphs">lacA</text>
<line x1="67.9" y1="219.9" x2="70.6" y2="219.9" stroke="#222" stroke-width="1.0"/>
<text x="67.8" y="222.2" text-anchor="end" font-family='"Liberation Sans", sans-serif' font-size="6.6" font-weight="bold" font-style="italic" fill="#000" stroke="#000" stroke-width="0.2" textLength="13.73" lengthAdjust="spacingAndGlyphs">lacB</text>
<line x1="67.9" y1="226.67" x2="70.6" y2="226.67" stroke="#222" stroke-width="1.0"/>
<text x="67.8" y="228.97" text-anchor="end" font-family='"Liberation Sans", sans-serif' font-size="6.6" font-weight="bold" font-style="italic" fill="#000" stroke="#000" stroke-width="0.2" textLength="13.73" lengthAdjust="spacingAndGlyphs">lacD</text>
<line x1="67.9" y1="233.43" x2="70.6" y2="233.43" stroke="#222" stroke-width="1.0"/>
<text x="67.8" y="235.73" text-anchor="end" font-family='"Liberation Sans", sans-serif' font-size="6.6" font-weight="bold" font-style="italic" fill="#000" stroke="#000" stroke-width="0.2" textLength="62.13" lengthAdjust="spacingAndGlyphs">pgap_annot_000680</text>
<line x1="67.9" y1="240.2" x2="70.6" y2="240.2" stroke="#222" stroke-width="1.0"/>
<text x="67.8" y="242.5" text-anchor="end" font-family='"Liberation Sans", sans-serif' font-size="6.6" font-weight="bold" font-style="italic" fill="#000" stroke="#000" stroke-width="0.2" textLength="62.13" lengthAdjust="spacingAndGlyphs">pgap_annot_000681</text>
<line x1="67.9" y1="246.96" x2="70.6" y2="246.96" stroke="#222" stroke-width="1.0"/>
<text x="67.8" y="249.26" text-anchor="end" font-family='"Liberation Sans", sans-serif' font-size="6.6" font-weight="bold" font-style="italic" fill="#000" stroke="#000" stroke-width="0.2" textLength="14.08" lengthAdjust="spacingAndGlyphs">galC</text>
<line x1="67.9" y1="253.73" x2="70.6" y2="253.73" stroke="#222" stroke-width="1.0"/>
<text x="67.8" y="256.03" text-anchor="end" font-family='"Liberation Sans", sans-serif' font-size="6.6" font-weight="bold" font-style="italic" fill="#000" stroke="#000" stroke-width="0.2" textLength="13.01" lengthAdjust="spacingAndGlyphs">lacF</text>
<line x1="67.9" y1="260.49" x2="70.6" y2="260.49" stroke="#222" stroke-width="1.0"/>
<text x="67.8" y="262.79" text-anchor="end" font-family='"Liberation Sans", sans-serif' font-size="6.6" font-weight="bold" font-style="italic" fill="#000" stroke="#000" stroke-width="0.2" textLength="13.37" lengthAdjust="spacingAndGlyphs">lacE</text>
<line x1="67.9" y1="267.26" x2="70.6" y2="267.26" stroke="#222" stroke-width="1.0"/>
<text x="67.8" y="269.56" text-anchor="end" font-family='"Liberation Sans", sans-serif' font-size="6.6" font-weight="bold" font-style="italic" fill="#000" stroke="#000" stroke-width="0.2" textLength="14.09" lengthAdjust="spacingAndGlyphs">lacG</text>
<line x1="67.9" y1="274.02" x2="70.6" y2="274.02" stroke="#222" stroke-width="1.0"/>
<text x="67.8" y="276.32" text-anchor="end" font-family='"Liberation Sans", sans-serif' font-size="6.6" font-weight="bold" font-style="italic" fill="#000" stroke="#000" stroke-width="0.2" textLength="13.37" lengthAdjust="spacingAndGlyphs">lacX</text>
<line x1="67.9" y1="280.79" x2="70.6" y2="280.79" stroke="#222" stroke-width="1.0"/>
<text x="67.8" y="283.09" text-anchor="end" font-family='"Liberation Sans", sans-serif' font-size="6.6" font-weight="bold" font-style="italic" fill="#000" stroke="#000" stroke-width="0.2" textLength="14.44" lengthAdjust="spacingAndGlyphs">mtlA</text>
<line x1="67.9" y1="287.55" x2="70.6" y2="287.55" stroke="#222" stroke-width="1.0"/>
<text x="67.8" y="289.85" text-anchor="end" font-family='"Liberation Sans", sans-serif' font-size="6.6" font-weight="bold" font-style="italic" fill="#000" stroke="#000" stroke-width="0.2" textLength="13.72" lengthAdjust="spacingAndGlyphs">mtlF</text>
<line x1="67.9" y1="294.32" x2="70.6" y2="294.32" stroke="#222" stroke-width="1.0"/>
<text x="67.8" y="296.62" text-anchor="end" font-family='"Liberation Sans", sans-serif' font-size="6.6" font-weight="bold" font-style="italic" fill="#000" stroke="#000" stroke-width="0.2" textLength="14.44" lengthAdjust="spacingAndGlyphs">mtlD</text>
<line x1="67.9" y1="301.08" x2="70.6" y2="301.08" stroke="#222" stroke-width="1.0"/>
<text x="67.8" y="303.38" text-anchor="end" font-family='"Liberation Sans", sans-serif' font-size="6.6" font-weight="bold" font-style="italic" fill="#000" stroke="#000" stroke-width="0.2" textLength="16.25" lengthAdjust="spacingAndGlyphs">pgcA</text>
<line x1="67.9" y1="307.85" x2="70.6" y2="307.85" stroke="#222" stroke-width="1.0"/>
<text x="67.8" y="310.15" text-anchor="end" font-family='"Liberation Sans", sans-serif' font-size="6.6" font-weight="bold" font-style="italic" fill="#000" stroke="#000" stroke-width="0.2" textLength="62.13" lengthAdjust="spacingAndGlyphs">pgap_annot_001050</text>
<line x1="67.9" y1="314.61" x2="70.6" y2="314.61" stroke="#222" stroke-width="1.0"/>
<text x="67.8" y="316.91" text-anchor="end" font-family='"Liberation Sans", sans-serif' font-size="6.6" font-weight="bold" font-style="italic" fill="#000" stroke="#000" stroke-width="0.2" textLength="11.92" lengthAdjust="spacingAndGlyphs">citE</text>
<line x1="67.9" y1="321.38" x2="70.6" y2="321.38" stroke="#222" stroke-width="1.0"/>
<text x="67.8" y="323.68" text-anchor="end" font-family='"Liberation Sans", sans-serif' font-size="6.6" font-weight="bold" font-style="italic" fill="#000" stroke="#000" stroke-width="0.2" textLength="13.36" lengthAdjust="spacingAndGlyphs">galT</text>
<line x1="67.9" y1="328.14" x2="70.6" y2="328.14" stroke="#222" stroke-width="1.0"/>
<text x="67.8" y="330.44" text-anchor="end" font-family='"Liberation Sans", sans-serif' font-size="6.6" font-weight="bold" font-style="italic" fill="#000" stroke="#000" stroke-width="0.2" textLength="14.08" lengthAdjust="spacingAndGlyphs">galK</text>
<line x1="67.9" y1="334.91" x2="70.6" y2="334.91" stroke="#222" stroke-width="1.0"/>
<text x="67.8" y="337.21" text-anchor="end" font-family='"Liberation Sans", sans-serif' font-size="6.6" font-weight="bold" font-style="italic" fill="#000" stroke="#000" stroke-width="0.2" textLength="15.89" lengthAdjust="spacingAndGlyphs">dexB</text>
<line x1="67.9" y1="341.67" x2="70.6" y2="341.67" stroke="#222" stroke-width="1.0"/>
<text x="67.8" y="343.97" text-anchor="end" font-family='"Liberation Sans", sans-serif' font-size="6.6" font-weight="bold" font-style="italic" fill="#000" stroke="#000" stroke-width="0.2" textLength="12.99" lengthAdjust="spacingAndGlyphs">gtfA</text>
<line x1="67.9" y1="348.44" x2="70.6" y2="348.44" stroke="#222" stroke-width="1.0"/>
<text x="67.8" y="350.74" text-anchor="end" font-family='"Liberation Sans", sans-serif' font-size="6.6" font-weight="bold" font-style="italic" fill="#000" stroke="#000" stroke-width="0.2" textLength="19.51" lengthAdjust="spacingAndGlyphs">msmE</text>
<line x1="67.9" y1="355.2" x2="70.6" y2="355.2" stroke="#222" stroke-width="1.0"/>
<text x="67.8" y="357.5" text-anchor="end" font-family='"Liberation Sans", sans-serif' font-size="6.6" font-weight="bold" font-style="italic" fill="#000" stroke="#000" stroke-width="0.2" textLength="13" lengthAdjust="spacingAndGlyphs">rafA</text>
<line x1="67.9" y1="361.97" x2="70.6" y2="361.97" stroke="#222" stroke-width="1.0"/>
<text x="67.8" y="364.27" text-anchor="end" font-family='"Liberation Sans", sans-serif' font-size="6.6" font-weight="bold" font-style="italic" fill="#000" stroke="#000" stroke-width="0.2" textLength="11.55" lengthAdjust="spacingAndGlyphs">ptsI</text>
<line x1="67.9" y1="368.73" x2="70.6" y2="368.73" stroke="#222" stroke-width="1.0"/>
<text x="67.8" y="371.03" text-anchor="end" font-family='"Liberation Sans", sans-serif' font-size="6.6" font-weight="bold" font-style="italic" fill="#000" stroke="#000" stroke-width="0.2" textLength="14.44" lengthAdjust="spacingAndGlyphs">ptsH</text>
<line x1="67.9" y1="375.5" x2="70.6" y2="375.5" stroke="#222" stroke-width="1.0"/>
<text x="67.8" y="377.8" text-anchor="end" font-family='"Liberation Sans", sans-serif' font-size="6.6" font-weight="bold" font-style="italic" fill="#000" stroke="#000" stroke-width="0.2" textLength="14.8" lengthAdjust="spacingAndGlyphs">ptsG</text>
<line x1="67.9" y1="382.26" x2="70.6" y2="382.26" stroke="#222" stroke-width="1.0"/>
<text x="67.8" y="384.56" text-anchor="end" font-family='"Liberation Sans", sans-serif' font-size="6.6" font-weight="bold" font-style="italic" fill="#000" stroke="#000" stroke-width="0.2" textLength="16.25" lengthAdjust="spacingAndGlyphs">nagB</text>
<line x1="67.9" y1="389.03" x2="70.6" y2="389.03" stroke="#222" stroke-width="1.0"/>
<text x="67.8" y="391.33" text-anchor="end" font-family='"Liberation Sans", sans-serif' font-size="6.6" font-weight="bold" font-style="italic" fill="#000" stroke="#000" stroke-width="0.2" textLength="62.13" lengthAdjust="spacingAndGlyphs">pgap_annot_001543</text>
<line x1="67.9" y1="395.79" x2="70.6" y2="395.79" stroke="#222" stroke-width="1.0"/>
<text x="67.8" y="398.09" text-anchor="end" font-family='"Liberation Sans", sans-serif' font-size="6.6" font-weight="bold" font-style="italic" fill="#000" stroke="#000" stroke-width="0.2" textLength="14.44" lengthAdjust="spacingAndGlyphs">ptxB</text>
<line x1="67.9" y1="402.56" x2="70.6" y2="402.56" stroke="#222" stroke-width="1.0"/>
<text x="67.8" y="404.86" text-anchor="end" font-family='"Liberation Sans", sans-serif' font-size="6.6" font-weight="bold" font-style="italic" fill="#000" stroke="#000" stroke-width="0.2" textLength="12.64" lengthAdjust="spacingAndGlyphs">srlB</text>
<line x1="67.9" y1="409.32" x2="70.6" y2="409.32" stroke="#222" stroke-width="1.0"/>
<text x="67.8" y="411.62" text-anchor="end" font-family='"Liberation Sans", sans-serif' font-size="6.6" font-weight="bold" font-style="italic" fill="#000" stroke="#000" stroke-width="0.2" textLength="12.29" lengthAdjust="spacingAndGlyphs">srlE</text>
<line x1="67.9" y1="416.09" x2="70.6" y2="416.09" stroke="#222" stroke-width="1.0"/>
<text x="67.8" y="418.39" text-anchor="end" font-family='"Liberation Sans", sans-serif' font-size="6.6" font-weight="bold" font-style="italic" fill="#000" stroke="#000" stroke-width="0.2" textLength="12.64" lengthAdjust="spacingAndGlyphs">srlA</text>
<line x1="67.9" y1="422.85" x2="70.6" y2="422.85" stroke="#222" stroke-width="1.0"/>
<text x="67.8" y="425.15" text-anchor="end" font-family='"Liberation Sans", sans-serif' font-size="6.6" font-weight="bold" font-style="italic" fill="#000" stroke="#000" stroke-width="0.2" textLength="13" lengthAdjust="spacingAndGlyphs">treC</text>
<line x1="67.9" y1="429.62" x2="70.6" y2="429.62" stroke="#222" stroke-width="1.0"/>
<text x="67.8" y="431.92" text-anchor="end" font-family='"Liberation Sans", sans-serif' font-size="6.6" font-weight="bold" font-style="italic" fill="#000" stroke="#000" stroke-width="0.2" textLength="13" lengthAdjust="spacingAndGlyphs">treB</text>
<line x1="67.9" y1="436.38" x2="70.6" y2="436.38" stroke="#222" stroke-width="1.0"/>
<text x="67.8" y="438.68" text-anchor="end" font-family='"Liberation Sans", sans-serif' font-size="6.6" font-weight="bold" font-style="italic" fill="#000" stroke="#000" stroke-width="0.2" textLength="13" lengthAdjust="spacingAndGlyphs">rplB</text>
<line x1="78.57" y1="439.76" x2="78.57" y2="442.46" stroke="#222" stroke-width="1.0"/>
<text x="80.37" y="447.37" text-anchor="end" transform="rotate(-45 80.37 447.37)" font-family='"Liberation Sans", sans-serif' font-size="8.5" font-weight="bold" fill="#000" stroke="#000" stroke-width="0.15"><tspan stroke-width="0" fill="#333">***</tspan>NG2</text>
<line x1="94.52" y1="439.76" x2="94.52" y2="442.46" stroke="#222" stroke-width="1.0"/>
<text x="96.32" y="447.37" text-anchor="end" transform="rotate(-45 96.32 447.37)" font-family='"Liberation Sans", sans-serif' font-size="8.5" font-weight="bold" fill="#000" stroke="#000" stroke-width="0.15"><tspan stroke-width="0" fill="#333">***</tspan>NG4</text>
<line x1="114.81" y1="439.76" x2="114.81" y2="442.46" stroke="#222" stroke-width="1.0"/>
<text x="116.61" y="447.37" text-anchor="end" transform="rotate(-45 116.61 447.37)" font-family='"Liberation Sans", sans-serif' font-size="8.5" font-weight="bold" fill="#000" stroke="#000" stroke-width="0.15"><tspan stroke-width="0" fill="#333">***</tspan>sMG1</text>
<line x1="130.84" y1="439.76" x2="130.84" y2="442.46" stroke="#222" stroke-width="1.0"/>
<text x="132.65" y="447.37" text-anchor="end" transform="rotate(-45 132.65 447.37)" font-family='"Liberation Sans", sans-serif' font-size="8.5" font-weight="bold" fill="#000" stroke="#000" stroke-width="0.15"><tspan stroke-width="0" fill="#333">***</tspan>sMG2</text>
<line x1="146.88" y1="439.76" x2="146.88" y2="442.46" stroke="#222" stroke-width="1.0"/>
<text x="148.68" y="447.37" text-anchor="end" transform="rotate(-45 148.68 447.37)" font-family='"Liberation Sans", sans-serif' font-size="8.5" font-weight="bold" fill="#000" stroke="#000" stroke-width="0.15"><tspan stroke-width="0" fill="#333">***</tspan>sMG3</text>
<line x1="162.9" y1="439.76" x2="162.9" y2="442.46" stroke="#222" stroke-width="1.0"/>
<text x="164.7" y="447.37" text-anchor="end" transform="rotate(-45 164.7 447.37)" font-family='"Liberation Sans", sans-serif' font-size="8.5" font-weight="bold" fill="#000" stroke="#000" stroke-width="0.15"><tspan stroke-width="0" fill="#333">***</tspan>sMG4</text>
<line x1="178.94" y1="439.76" x2="178.94" y2="442.46" stroke="#222" stroke-width="1.0"/>
<text x="180.74" y="447.37" text-anchor="end" transform="rotate(-45 180.74 447.37)" font-family='"Liberation Sans", sans-serif' font-size="8.5" font-weight="bold" fill="#000" stroke="#000" stroke-width="0.15"><tspan stroke-width="0" fill="#333">***</tspan>sMG5</text>
<line x1="194.96" y1="439.76" x2="194.96" y2="442.46" stroke="#222" stroke-width="1.0"/>
<text x="196.76" y="447.37" text-anchor="end" transform="rotate(-45 196.76 447.37)" font-family='"Liberation Sans", sans-serif' font-size="8.5" font-weight="bold" fill="#000" stroke="#000" stroke-width="0.15"><tspan stroke-width="0" fill="#333">***</tspan>sMG6</text>
<line x1="211" y1="439.76" x2="211" y2="442.46" stroke="#222" stroke-width="1.0"/>
<text x="212.8" y="447.37" text-anchor="end" transform="rotate(-45 212.8 447.37)" font-family='"Liberation Sans", sans-serif' font-size="8.5" font-weight="bold" fill="#000" stroke="#000" stroke-width="0.15"><tspan stroke-width="0" fill="#333">***</tspan>sMG7</text>
<line x1="227.02" y1="439.76" x2="227.02" y2="442.46" stroke="#222" stroke-width="1.0"/>
<text x="228.82" y="447.37" text-anchor="end" transform="rotate(-45 228.82 447.37)" font-family='"Liberation Sans", sans-serif' font-size="8.5" font-weight="bold" fill="#000" stroke="#000" stroke-width="0.15"><tspan stroke-width="0" fill="#333">***</tspan>sMG8</text>
<line x1="247.3" y1="439.76" x2="247.3" y2="442.46" stroke="#222" stroke-width="1.0"/>
<text x="249.1" y="447.37" text-anchor="end" transform="rotate(-45 249.1 447.37)" font-family='"Liberation Sans", sans-serif' font-size="8.5" font-weight="bold" fill="#000" stroke="#000" stroke-width="0.15"><tspan stroke-width="0" fill="#333">***</tspan>sMGAg1</text>
<line x1="263.3" y1="439.76" x2="263.3" y2="442.46" stroke="#222" stroke-width="1.0"/>
<text x="265.1" y="447.37" text-anchor="end" transform="rotate(-45 265.1 447.37)" font-family='"Liberation Sans", sans-serif' font-size="8.5" font-weight="bold" fill="#000" stroke="#000" stroke-width="0.15"><tspan stroke-width="0" fill="#333">***</tspan>sMGAg2</text>
<line x1="279.3" y1="439.76" x2="279.3" y2="442.46" stroke="#222" stroke-width="1.0"/>
<text x="281.1" y="447.37" text-anchor="end" transform="rotate(-45 281.1 447.37)" font-family='"Liberation Sans", sans-serif' font-size="8.5" font-weight="bold" fill="#000" stroke="#000" stroke-width="0.15"><tspan stroke-width="0" fill="#333">***</tspan>sMGAg3</text>
<line x1="295.3" y1="439.76" x2="295.3" y2="442.46" stroke="#222" stroke-width="1.0"/>
<text x="297.1" y="447.37" text-anchor="end" transform="rotate(-45 297.1 447.37)" font-family='"Liberation Sans", sans-serif' font-size="8.5" font-weight="bold" fill="#000" stroke="#000" stroke-width="0.15"><tspan stroke-width="0" fill="#333">*</tspan>sMGAg4</text>
<defs><linearGradient id="ga" x1="0" y1="0" x2="0" y2="1">
<stop offset="0.0000" stop-color="#ff37a5"/>
<stop offset="0.0104" stop-color="#ff37a5"/>
<stop offset="0.0349" stop-color="#fe3faa"/>
<stop offset="0.0594" stop-color="#fd47af"/>
<stop offset="0.0839" stop-color="#fc4fb4"/>
<stop offset="0.1083" stop-color="#fb57b9"/>
<stop offset="0.1328" stop-color="#fa5fbe"/>
<stop offset="0.1573" stop-color="#f96ac2"/>
<stop offset="0.1818" stop-color="#f875c6"/>
<stop offset="0.2062" stop-color="#f680ca"/>
<stop offset="0.2307" stop-color="#f58bce"/>
<stop offset="0.2552" stop-color="#f496d2"/>
<stop offset="0.2797" stop-color="#f4a0d6"/>
<stop offset="0.3042" stop-color="#f4aada"/>
<stop offset="0.3286" stop-color="#f4b4de"/>
<stop offset="0.3531" stop-color="#f4bee2"/>
<stop offset="0.3776" stop-color="#f4c8e6"/>
<stop offset="0.4021" stop-color="#f6d3eb"/>
<stop offset="0.4266" stop-color="#f8def0"/>
<stop offset="0.4510" stop-color="#fbe9f5"/>
<stop offset="0.4755" stop-color="#fdf4fa"/>
<stop offset="0.5000" stop-color="#ffffff"/>
<stop offset="0.5245" stop-color="#f7f5f8"/>
<stop offset="0.5490" stop-color="#efeaf1"/>
<stop offset="0.5734" stop-color="#e7e0eb"/>
<stop offset="0.5979" stop-color="#dfd5e4"/>
<stop offset="0.6224" stop-color="#d7cbdd"/>
<stop offset="0.6469" stop-color="#cec0d5"/>
<stop offset="0.6714" stop-color="#c4b5cd"/>
<stop offset="0.6958" stop-color="#bbaac4"/>
<stop offset="0.7203" stop-color="#b19fbc"/>
<stop offset="0.7448" stop-color="#a894b4"/>
<stop offset="0.7693" stop-color="#9e87ab"/>
<stop offset="0.7938" stop-color="#957aa2"/>
<stop offset="0.8182" stop-color="#8b6c9a"/>
<stop offset="0.8427" stop-color="#825f91"/>
<stop offset="0.8672" stop-color="#785288"/>
<stop offset="0.8917" stop-color="#6e4680"/>
<stop offset="0.9161" stop-color="#653977"/>
<stop offset="0.9406" stop-color="#5b2d6f"/>
<stop offset="0.9651" stop-color="#522066"/>
<stop offset="0.9896" stop-color="#48145e"/>
<stop offset="1.0000" stop-color="#48145e"/>
</linearGradient></defs>
<rect x="314.3" y="26.6" width="11.3" height="412.9" fill="url(#ga)" stroke="#111" stroke-width="0.9"/>
<line x1="314.3" y1="30.9" x2="316.5" y2="30.9" stroke="#111" stroke-width="1"/>
<line x1="323.4" y1="30.9" x2="325.6" y2="30.9" stroke="#111" stroke-width="1"/>
<text x="329" y="33.2" font-family='"Liberation Sans", sans-serif' font-size="6.8" fill="#222">5</text>
<line x1="314.3" y1="233.05" x2="316.5" y2="233.05" stroke="#111" stroke-width="1"/>
<line x1="323.4" y1="233.05" x2="325.6" y2="233.05" stroke="#111" stroke-width="1"/>
<text x="329" y="235.35" font-family='"Liberation Sans", sans-serif' font-size="6.8" fill="#222">0</text>
<line x1="314.3" y1="435.2" x2="316.5" y2="435.2" stroke="#111" stroke-width="1"/>
<line x1="323.4" y1="435.2" x2="325.6" y2="435.2" stroke="#111" stroke-width="1"/>
<text x="329" y="437.5" font-family='"Liberation Sans", sans-serif' font-size="6.8" fill="#222">-5</text>
<text x="10.5" y="21.5" font-family='"Liberation Sans", sans-serif' font-size="21" fill="#000" stroke="#000" stroke-width="0.1">a</text>
<text x="90.5" y="16.2" font-family='"Liberation Sans", sans-serif' font-size="8.18" font-weight="bold" fill="#000" stroke="#000" stroke-width="0.15">COG G - Carbohydrate Transport And Metabolism</text>
<g>
<rect x="410.9" y="25.3" width="17" height="10.15" fill="#a894b4"/>
<rect x="427.1" y="25.3" width="16.2" height="10.15" fill="#957aa2"/>
<rect x="448.1" y="25.3" width="17" height="10.15" fill="#825f91"/>
<rect x="464.3" y="25.3" width="17" height="10.15" fill="#5b2d6f"/>
<rect x="480.5" y="25.3" width="17" height="10.15" fill="#a894b4"/>
<rect x="496.7" y="25.3" width="17" height="10.15" fill="#bbaac4"/>
<rect x="512.9" y="25.3" width="17" height="10.15" fill="#ffffff"/>
<rect x="529.1" y="25.3" width="17" height="10.15" fill="#957aa2"/>
<rect x="545.3" y="25.3" width="17" height="10.15" fill="#825f91"/>
<rect x="561.5" y="25.3" width="16.2" height="10.15" fill="#825f91"/>
<rect x="582.3" y="25.3" width="17.1" height="10.15" fill="#a894b4"/>
<rect x="598.6" y="25.3" width="17.1" height="10.15" fill="#825f91"/>
<rect x="614.9" y="25.3" width="17.1" height="10.15" fill="#825f91"/>
<rect x="631.2" y="25.3" width="16.3" height="10.15" fill="#6e4680"/>
<rect x="410.9" y="34.65" width="17" height="10.15" fill="#5b2d6f"/>
<rect x="427.1" y="34.65" width="16.2" height="10.15" fill="#5b2d6f"/>
<rect x="448.1" y="34.65" width="17" height="10.15" fill="#957aa2"/>
<rect x="464.3" y="34.65" width="17" height="10.15" fill="#825f91"/>
<rect x="480.5" y="34.65" width="17" height="10.15" fill="#cec0d5"/>
<rect x="496.7" y="34.65" width="17" height="10.15" fill="#825f91"/>
<rect x="512.9" y="34.65" width="17" height="10.15" fill="#ffffff"/>
<rect x="529.1" y="34.65" width="17" height="10.15" fill="#a894b4"/>
<rect x="545.3" y="34.65" width="17" height="10.15" fill="#ffffff"/>
<rect x="561.5" y="34.65" width="16.2" height="10.15" fill="#6e4680"/>
<rect x="582.3" y="34.65" width="17.1" height="10.15" fill="#bbaac4"/>
<rect x="598.6" y="34.65" width="17.1" height="10.15" fill="#5b2d6f"/>
<rect x="614.9" y="34.65" width="17.1" height="10.15" fill="#6e4680"/>
<rect x="631.2" y="34.65" width="16.3" height="10.15" fill="#957aa2"/>
<rect x="410.9" y="44" width="17" height="10.15" fill="#6e4680"/>
<rect x="427.1" y="44" width="16.2" height="10.15" fill="#48145e"/>
<rect x="448.1" y="44" width="17" height="10.15" fill="#957aa2"/>
<rect x="464.3" y="44" width="17" height="10.15" fill="#a894b4"/>
<rect x="480.5" y="44" width="17" height="10.15" fill="#cec0d5"/>
<rect x="496.7" y="44" width="17" height="10.15" fill="#825f91"/>
<rect x="512.9" y="44" width="17" height="10.15" fill="#ffffff"/>
<rect x="529.1" y="44" width="17" height="10.15" fill="#a894b4"/>
<rect x="545.3" y="44" width="17" height="10.15" fill="#ffffff"/>
<rect x="561.5" y="44" width="16.2" height="10.15" fill="#6e4680"/>
<rect x="582.3" y="44" width="17.1" height="10.15" fill="#bbaac4"/>
<rect x="598.6" y="44" width="17.1" height="10.15" fill="#48145e"/>
<rect x="614.9" y="44" width="17.1" height="10.15" fill="#6e4680"/>
<rect x="631.2" y="44" width="16.3" height="10.15" fill="#825f91"/>
<rect x="410.9" y="53.35" width="17" height="10.15" fill="#6e4680"/>
<rect x="427.1" y="53.35" width="16.2" height="10.15" fill="#5b2d6f"/>
<rect x="448.1" y="53.35" width="17" height="10.15" fill="#957aa2"/>
<rect x="464.3" y="53.35" width="17" height="10.15" fill="#a894b4"/>
<rect x="480.5" y="53.35" width="17" height="10.15" fill="#bbaac4"/>
<rect x="496.7" y="53.35" width="17" height="10.15" fill="#825f91"/>
<rect x="512.9" y="53.35" width="17" height="10.15" fill="#48145e"/>
<rect x="529.1" y="53.35" width="17" height="10.15" fill="#a894b4"/>
<rect x="545.3" y="53.35" width="17" height="10.15" fill="#5b2d6f"/>
<rect x="561.5" y="53.35" width="16.2" height="10.15" fill="#825f91"/>
<rect x="582.3" y="53.35" width="17.1" height="10.15" fill="#a894b4"/>
<rect x="598.6" y="53.35" width="17.1" height="10.15" fill="#5b2d6f"/>
<rect x="614.9" y="53.35" width="17.1" height="10.15" fill="#825f91"/>
<rect x="631.2" y="53.35" width="16.3" height="10.15" fill="#825f91"/>
<rect x="410.9" y="62.7" width="17" height="10.15" fill="#6e4680"/>
<rect x="427.1" y="62.7" width="16.2" height="10.15" fill="#5b2d6f"/>
<rect x="448.1" y="62.7" width="17" height="10.15" fill="#957aa2"/>
<rect x="464.3" y="62.7" width="17" height="10.15" fill="#a894b4"/>
<rect x="480.5" y="62.7" width="17" height="10.15" fill="#a894b4"/>
<rect x="496.7" y="62.7" width="17" height="10.15" fill="#825f91"/>
<rect x="512.9" y="62.7" width="17" height="10.15" fill="#48145e"/>
<rect x="529.1" y="62.7" width="17" height="10.15" fill="#a894b4"/>
<rect x="545.3" y="62.7" width="17" height="10.15" fill="#5b2d6f"/>
<rect x="561.5" y="62.7" width="16.2" height="10.15" fill="#825f91"/>
<rect x="582.3" y="62.7" width="17.1" height="10.15" fill="#a894b4"/>
<rect x="598.6" y="62.7" width="17.1" height="10.15" fill="#5b2d6f"/>
<rect x="614.9" y="62.7" width="17.1" height="10.15" fill="#825f91"/>
<rect x="631.2" y="62.7" width="16.3" height="10.15" fill="#825f91"/>
<rect x="410.9" y="72.05" width="17" height="10.15" fill="#6e4680"/>
<rect x="427.1" y="72.05" width="16.2" height="10.15" fill="#5b2d6f"/>
<rect x="448.1" y="72.05" width="17" height="10.15" fill="#825f91"/>
<rect x="464.3" y="72.05" width="17" height="10.15" fill="#a894b4"/>
<rect x="480.5" y="72.05" width="17" height="10.15" fill="#a894b4"/>
<rect x="496.7" y="72.05" width="17" height="10.15" fill="#825f91"/>
<rect x="512.9" y="72.05" width="17" height="10.15" fill="#ffffff"/>
<rect x="529.1" y="72.05" width="17" height="10.15" fill="#a894b4"/>
<rect x="545.3" y="72.05" width="17" height="10.15" fill="#5b2d6f"/>
<rect x="561.5" y="72.05" width="16.2" height="10.15" fill="#825f91"/>
<rect x="582.3" y="72.05" width="17.1" height="10.15" fill="#a894b4"/>
<rect x="598.6" y="72.05" width="17.1" height="10.15" fill="#5b2d6f"/>
<rect x="614.9" y="72.05" width="17.1" height="10.15" fill="#825f91"/>
<rect x="631.2" y="72.05" width="16.3" height="10.15" fill="#825f91"/>
<rect x="410.9" y="81.4" width="17" height="10.15" fill="#825f91"/>
<rect x="427.1" y="81.4" width="16.2" height="10.15" fill="#6e4680"/>
<rect x="448.1" y="81.4" width="17" height="10.15" fill="#825f91"/>
<rect x="464.3" y="81.4" width="17" height="10.15" fill="#bbaac4"/>
<rect x="480.5" y="81.4" width="17" height="10.15" fill="#a894b4"/>
<rect x="496.7" y="81.4" width="17" height="10.15" fill="#957aa2"/>
<rect x="512.9" y="81.4" width="17" height="10.15" fill="#48145e"/>
<rect x="529.1" y="81.4" width="17" height="10.15" fill="#a894b4"/>
<rect x="545.3" y="81.4" width="17" height="10.15" fill="#6e4680"/>
<rect x="561.5" y="81.4" width="16.2" height="10.15" fill="#825f91"/>
<rect x="582.3" y="81.4" width="17.1" height="10.15" fill="#a894b4"/>
<rect x="598.6" y="81.4" width="17.1" height="10.15" fill="#6e4680"/>
<rect x="614.9" y="81.4" width="17.1" height="10.15" fill="#825f91"/>
<rect x="631.2" y="81.4" width="16.3" height="10.15" fill="#957aa2"/>
<rect x="410.9" y="90.75" width="17" height="10.15" fill="#a894b4"/>
<rect x="427.1" y="90.75" width="16.2" height="10.15" fill="#957aa2"/>
<rect x="448.1" y="90.75" width="17" height="10.15" fill="#a894b4"/>
<rect x="464.3" y="90.75" width="17" height="10.15" fill="#bbaac4"/>
<rect x="480.5" y="90.75" width="17" height="10.15" fill="#bbaac4"/>
<rect x="496.7" y="90.75" width="17" height="10.15" fill="#a894b4"/>
<rect x="512.9" y="90.75" width="17" height="10.15" fill="#957aa2"/>
<rect x="529.1" y="90.75" width="17" height="10.15" fill="#bbaac4"/>
<rect x="545.3" y="90.75" width="17" height="10.15" fill="#957aa2"/>
<rect x="561.5" y="90.75" width="16.2" height="10.15" fill="#957aa2"/>
<rect x="582.3" y="90.75" width="17.1" height="10.15" fill="#a894b4"/>
<rect x="598.6" y="90.75" width="17.1" height="10.15" fill="#957aa2"/>
<rect x="614.9" y="90.75" width="17.1" height="10.15" fill="#957aa2"/>
<rect x="631.2" y="90.75" width="16.3" height="10.15" fill="#a894b4"/>
<rect x="410.9" y="100.1" width="17" height="10.15" fill="#a894b4"/>
<rect x="427.1" y="100.1" width="16.2" height="10.15" fill="#957aa2"/>
<rect x="448.1" y="100.1" width="17" height="10.15" fill="#a894b4"/>
<rect x="464.3" y="100.1" width="17" height="10.15" fill="#bbaac4"/>
<rect x="480.5" y="100.1" width="17" height="10.15" fill="#bbaac4"/>
<rect x="496.7" y="100.1" width="17" height="10.15" fill="#a894b4"/>
<rect x="512.9" y="100.1" width="17" height="10.15" fill="#825f91"/>
<rect x="529.1" y="100.1" width="17" height="10.15" fill="#bbaac4"/>
<rect x="545.3" y="100.1" width="17" height="10.15" fill="#957aa2"/>
<rect x="561.5" y="100.1" width="16.2" height="10.15" fill="#957aa2"/>
<rect x="582.3" y="100.1" width="17.1" height="10.15" fill="#a894b4"/>
<rect x="598.6" y="100.1" width="17.1" height="10.15" fill="#957aa2"/>
<rect x="614.9" y="100.1" width="17.1" height="10.15" fill="#957aa2"/>
<rect x="631.2" y="100.1" width="16.3" height="10.15" fill="#bbaac4"/>
<rect x="410.9" y="109.45" width="17" height="10.15" fill="#957aa2"/>
<rect x="427.1" y="109.45" width="16.2" height="10.15" fill="#825f91"/>
<rect x="448.1" y="109.45" width="17" height="10.15" fill="#a894b4"/>
<rect x="464.3" y="109.45" width="17" height="10.15" fill="#bbaac4"/>
<rect x="480.5" y="109.45" width="17" height="10.15" fill="#a894b4"/>
<rect x="496.7" y="109.45" width="17" height="10.15" fill="#a894b4"/>
<rect x="512.9" y="109.45" width="17" height="10.15" fill="#6e4680"/>
<rect x="529.1" y="109.45" width="17" height="10.15" fill="#bbaac4"/>
<rect x="545.3" y="109.45" width="17" height="10.15" fill="#957aa2"/>
<rect x="561.5" y="109.45" width="16.2" height="10.15" fill="#957aa2"/>
<rect x="582.3" y="109.45" width="17.1" height="10.15" fill="#a894b4"/>
<rect x="598.6" y="109.45" width="17.1" height="10.15" fill="#825f91"/>
<rect x="614.9" y="109.45" width="17.1" height="10.15" fill="#957aa2"/>
<rect x="631.2" y="109.45" width="16.3" height="10.15" fill="#a894b4"/>
<rect x="410.9" y="118.8" width="17" height="10.15" fill="#957aa2"/>
<rect x="427.1" y="118.8" width="16.2" height="10.15" fill="#825f91"/>
<rect x="448.1" y="118.8" width="17" height="10.15" fill="#957aa2"/>
<rect x="464.3" y="118.8" width="17" height="10.15" fill="#cec0d5"/>
<rect x="480.5" y="118.8" width="17" height="10.15" fill="#a894b4"/>
<rect x="496.7" y="118.8" width="17" height="10.15" fill="#a894b4"/>
<rect x="512.9" y="118.8" width="17" height="10.15" fill="#6e4680"/>
<rect x="529.1" y="118.8" width="17" height="10.15" fill="#cec0d5"/>
<rect x="545.3" y="118.8" width="17" height="10.15" fill="#957aa2"/>
<rect x="561.5" y="118.8" width="16.2" height="10.15" fill="#957aa2"/>
<rect x="582.3" y="118.8" width="17.1" height="10.15" fill="#a894b4"/>
<rect x="598.6" y="118.8" width="17.1" height="10.15" fill="#825f91"/>
<rect x="614.9" y="118.8" width="17.1" height="10.15" fill="#957aa2"/>
<rect x="631.2" y="118.8" width="16.3" height="10.15" fill="#a894b4"/>
<rect x="410.9" y="128.15" width="17" height="10.15" fill="#a894b4"/>
<rect x="427.1" y="128.15" width="16.2" height="10.15" fill="#957aa2"/>
<rect x="448.1" y="128.15" width="17" height="10.15" fill="#a894b4"/>
<rect x="464.3" y="128.15" width="17" height="10.15" fill="#bbaac4"/>
<rect x="480.5" y="128.15" width="17" height="10.15" fill="#bbaac4"/>
<rect x="496.7" y="128.15" width="17" height="10.15" fill="#a894b4"/>
<rect x="512.9" y="128.15" width="17" height="10.15" fill="#957aa2"/>
<rect x="529.1" y="128.15" width="17" height="10.15" fill="#bbaac4"/>
<rect x="545.3" y="128.15" width="17" height="10.15" fill="#a894b4"/>
<rect x="561.5" y="128.15" width="16.2" height="10.15" fill="#a894b4"/>
<rect x="582.3" y="128.15" width="17.1" height="10.15" fill="#a894b4"/>
<rect x="598.6" y="128.15" width="17.1" height="10.15" fill="#957aa2"/>
<rect x="614.9" y="128.15" width="17.1" height="10.15" fill="#a894b4"/>
<rect x="631.2" y="128.15" width="16.3" height="10.15" fill="#a894b4"/>
<rect x="410.9" y="137.5" width="17" height="10.15" fill="#ffffff"/>
<rect x="427.1" y="137.5" width="16.2" height="10.15" fill="#ffffff"/>
<rect x="448.1" y="137.5" width="17" height="10.15" fill="#ffffff"/>
<rect x="464.3" y="137.5" width="17" height="10.15" fill="#ffffff"/>
<rect x="480.5" y="137.5" width="17" height="10.15" fill="#ffffff"/>
<rect x="496.7" y="137.5" width="17" height="10.15" fill="#ffffff"/>
<rect x="512.9" y="137.5" width="17" height="10.15" fill="#d7cbdd"/>
<rect x="529.1" y="137.5" width="17" height="10.15" fill="#ffffff"/>
<rect x="545.3" y="137.5" width="17" height="10.15" fill="#ffffff"/>
<rect x="561.5" y="137.5" width="16.2" height="10.15" fill="#ffffff"/>
<rect x="582.3" y="137.5" width="17.1" height="10.15" fill="#ffffff"/>
<rect x="598.6" y="137.5" width="17.1" height="10.15" fill="#ffffff"/>
<rect x="614.9" y="137.5" width="17.1" height="10.15" fill="#ffffff"/>
<rect x="631.2" y="137.5" width="16.3" height="10.15" fill="#ffffff"/>
<rect x="410.9" y="146.85" width="17" height="9.35" fill="#ffffff"/>
<rect x="427.1" y="146.85" width="16.2" height="9.35" fill="#f96ac2"/>
<rect x="448.1" y="146.85" width="17" height="9.35" fill="#ffffff"/>
<rect x="464.3" y="146.85" width="17" height="9.35" fill="#ffffff"/>
<rect x="480.5" y="146.85" width="17" height="9.35" fill="#f4bee2"/>
<rect x="496.7" y="146.85" width="17" height="9.35" fill="#f4bee2"/>
<rect x="512.9" y="146.85" width="17" height="9.35" fill="#ffffff"/>
<rect x="529.1" y="146.85" width="17" height="9.35" fill="#ffffff"/>
<rect x="545.3" y="146.85" width="17" height="9.35" fill="#ffffff"/>
<rect x="561.5" y="146.85" width="16.2" height="9.35" fill="#f4bee2"/>
<rect x="582.3" y="146.85" width="17.1" height="9.35" fill="#ffffff"/>
<rect x="598.6" y="146.85" width="17.1" height="9.35" fill="#ffffff"/>
<rect x="614.9" y="146.85" width="17.1" height="9.35" fill="#ffffff"/>
<rect x="631.2" y="146.85" width="16.3" height="9.35" fill="#ffffff"/>
</g>
<line x1="410.9" y1="25.3" x2="647.5" y2="25.3" stroke="#111" stroke-width="1.2"/>
<line x1="410.9" y1="156.2" x2="647.5" y2="156.2" stroke="#111" stroke-width="1.3"/>
<line x1="410.9" y1="25.3" x2="410.9" y2="156.2" stroke="#111" stroke-width="1.3"/>
<line x1="647.5" y1="25.3" x2="647.5" y2="156.2" stroke="#111" stroke-width="1.2"/>
<line x1="445.5" y1="25.3" x2="445.5" y2="156.2" stroke="#111" stroke-width="0.9"/>
<line x1="580.5" y1="25.3" x2="580.5" y2="156.2" stroke="#111" stroke-width="0.9"/>
<line x1="406.3" y1="29.98" x2="410.9" y2="29.98" stroke="#111" stroke-width="1.3"/>
<text x="405" y="32.48" text-anchor="end" font-family='"Liberation Sans", sans-serif' font-size="6.6" font-weight="bold" font-style="italic" fill="#000" stroke="#000" stroke-width="0.2" textLength="63.56" lengthAdjust="spacingAndGlyphs">pgap_annot_000793</text>
<line x1="406.3" y1="39.33" x2="410.9" y2="39.33" stroke="#111" stroke-width="1.3"/>
<text x="405" y="41.83" text-anchor="end" font-family='"Liberation Sans", sans-serif' font-size="6.6" font-weight="bold" font-style="italic" fill="#000" stroke="#000" stroke-width="0.2" textLength="63.56" lengthAdjust="spacingAndGlyphs">pgap_annot_000804</text>
<line x1="406.3" y1="48.67" x2="410.9" y2="48.67" stroke="#111" stroke-width="1.3"/>
<text x="405" y="51.17" text-anchor="end" font-family='"Liberation Sans", sans-serif' font-size="6.6" font-weight="bold" font-style="italic" fill="#000" stroke="#000" stroke-width="0.2" textLength="18.84" lengthAdjust="spacingAndGlyphs">mubH</text>
<line x1="406.3" y1="58.03" x2="410.9" y2="58.03" stroke="#111" stroke-width="1.3"/>
<text x="405" y="60.53" text-anchor="end" font-family='"Liberation Sans", sans-serif' font-size="6.6" font-weight="bold" font-style="italic" fill="#000" stroke="#000" stroke-width="0.2" textLength="18.84" lengthAdjust="spacingAndGlyphs">mubA</text>
<line x1="406.3" y1="67.38" x2="410.9" y2="67.38" stroke="#111" stroke-width="1.3"/>
<text x="405" y="69.88" text-anchor="end" font-family='"Liberation Sans", sans-serif' font-size="6.6" font-weight="bold" font-style="italic" fill="#000" stroke="#000" stroke-width="0.2" textLength="18.84" lengthAdjust="spacingAndGlyphs">mubB</text>
<line x1="406.3" y1="76.72" x2="410.9" y2="76.72" stroke="#111" stroke-width="1.3"/>
<text x="405" y="79.22" text-anchor="end" font-family='"Liberation Sans", sans-serif' font-size="6.6" font-weight="bold" font-style="italic" fill="#000" stroke="#000" stroke-width="0.2" textLength="18.84" lengthAdjust="spacingAndGlyphs">mubC</text>
<line x1="406.3" y1="86.08" x2="410.9" y2="86.08" stroke="#111" stroke-width="1.3"/>
<text x="405" y="88.58" text-anchor="end" font-family='"Liberation Sans", sans-serif' font-size="6.6" font-weight="bold" font-style="italic" fill="#000" stroke="#000" stroke-width="0.2" textLength="18.84" lengthAdjust="spacingAndGlyphs">mubD</text>
<line x1="406.3" y1="95.42" x2="410.9" y2="95.42" stroke="#111" stroke-width="1.3"/>
<text x="405" y="97.92" text-anchor="end" font-family='"Liberation Sans", sans-serif' font-size="6.6" font-weight="bold" font-style="italic" fill="#000" stroke="#000" stroke-width="0.2" textLength="18.1" lengthAdjust="spacingAndGlyphs">mubZ</text>
<line x1="406.3" y1="104.77" x2="410.9" y2="104.77" stroke="#111" stroke-width="1.3"/>
<text x="405" y="107.27" text-anchor="end" font-family='"Liberation Sans", sans-serif' font-size="6.6" font-weight="bold" font-style="italic" fill="#000" stroke="#000" stroke-width="0.2" textLength="19.58" lengthAdjust="spacingAndGlyphs">mubM</text>
<line x1="406.3" y1="114.12" x2="410.9" y2="114.12" stroke="#111" stroke-width="1.3"/>
<text x="405" y="116.62" text-anchor="end" font-family='"Liberation Sans", sans-serif' font-size="6.6" font-weight="bold" font-style="italic" fill="#000" stroke="#000" stroke-width="0.2" textLength="15.88" lengthAdjust="spacingAndGlyphs">mubI</text>
<line x1="406.3" y1="123.47" x2="410.9" y2="123.47" stroke="#111" stroke-width="1.3"/>
<text x="405" y="125.97" text-anchor="end" font-family='"Liberation Sans", sans-serif' font-size="6.6" font-weight="bold" font-style="italic" fill="#000" stroke="#000" stroke-width="0.2" textLength="17.73" lengthAdjust="spacingAndGlyphs">mubJ</text>
<line x1="406.3" y1="132.82" x2="410.9" y2="132.82" stroke="#111" stroke-width="1.3"/>
<text x="405" y="135.32" text-anchor="end" font-family='"Liberation Sans", sans-serif' font-size="6.6" font-weight="bold" font-style="italic" fill="#000" stroke="#000" stroke-width="0.2" textLength="18.47" lengthAdjust="spacingAndGlyphs">mubP</text>
<line x1="406.3" y1="142.18" x2="410.9" y2="142.18" stroke="#111" stroke-width="1.3"/>
<text x="405" y="144.68" text-anchor="end" font-family='"Liberation Sans", sans-serif' font-size="6.6" font-weight="bold" font-style="italic" fill="#000" stroke="#000" stroke-width="0.2" textLength="63.56" lengthAdjust="spacingAndGlyphs">pgap_annot_000817</text>
<line x1="406.3" y1="151.53" x2="410.9" y2="151.53" stroke="#111" stroke-width="1.3"/>
<text x="405" y="154.03" text-anchor="end" font-family='"Liberation Sans", sans-serif' font-size="6.6" font-weight="bold" font-style="italic" fill="#000" stroke="#000" stroke-width="0.2" textLength="10.34" lengthAdjust="spacingAndGlyphs">dut</text>
<line x1="419" y1="156.2" x2="419" y2="159.9" stroke="#111" stroke-width="1.3"/>
<text x="421.5" y="166.8" text-anchor="end" transform="rotate(-45 421.5 166.8)" font-family='"Liberation Sans", sans-serif' font-size="8.6" font-weight="bold" fill="#000" stroke="#000" stroke-width="0.15"><tspan stroke-width="0" fill="#333">***</tspan>NG2</text>
<line x1="435.2" y1="156.2" x2="435.2" y2="159.9" stroke="#111" stroke-width="1.3"/>
<text x="437.7" y="166.8" text-anchor="end" transform="rotate(-45 437.7 166.8)" font-family='"Liberation Sans", sans-serif' font-size="8.6" font-weight="bold" fill="#000" stroke="#000" stroke-width="0.15"><tspan stroke-width="0" fill="#333">***</tspan>NG4</text>
<line x1="456.2" y1="156.2" x2="456.2" y2="159.9" stroke="#111" stroke-width="1.3"/>
<text x="458.7" y="166.8" text-anchor="end" transform="rotate(-45 458.7 166.8)" font-family='"Liberation Sans", sans-serif' font-size="8.6" font-weight="bold" fill="#000" stroke="#000" stroke-width="0.15"><tspan stroke-width="0" fill="#333">***</tspan>sMG1</text>
<line x1="472.4" y1="156.2" x2="472.4" y2="159.9" stroke="#111" stroke-width="1.3"/>
<text x="474.9" y="166.8" text-anchor="end" transform="rotate(-45 474.9 166.8)" font-family='"Liberation Sans", sans-serif' font-size="8.6" font-weight="bold" fill="#000" stroke="#000" stroke-width="0.15"><tspan stroke-width="0" fill="#333">***</tspan>sMG2</text>
<line x1="488.6" y1="156.2" x2="488.6" y2="159.9" stroke="#111" stroke-width="1.3"/>
<text x="491.1" y="166.8" text-anchor="end" transform="rotate(-45 491.1 166.8)" font-family='"Liberation Sans", sans-serif' font-size="8.6" font-weight="bold" fill="#000" stroke="#000" stroke-width="0.15"><tspan stroke-width="0" fill="#333">***</tspan>sMG3</text>
<line x1="504.8" y1="156.2" x2="504.8" y2="159.9" stroke="#111" stroke-width="1.3"/>
<text x="507.3" y="166.8" text-anchor="end" transform="rotate(-45 507.3 166.8)" font-family='"Liberation Sans", sans-serif' font-size="8.6" font-weight="bold" fill="#000" stroke="#000" stroke-width="0.15"><tspan stroke-width="0" fill="#333">***</tspan>sMG4</text>
<line x1="521" y1="156.2" x2="521" y2="159.9" stroke="#111" stroke-width="1.3"/>
<text x="523.5" y="166.8" text-anchor="end" transform="rotate(-45 523.5 166.8)" font-family='"Liberation Sans", sans-serif' font-size="8.6" font-weight="bold" fill="#000" stroke="#000" stroke-width="0.15"><tspan stroke-width="0" fill="#333">***</tspan>sMG5</text>
<line x1="537.2" y1="156.2" x2="537.2" y2="159.9" stroke="#111" stroke-width="1.3"/>
<text x="539.7" y="166.8" text-anchor="end" transform="rotate(-45 539.7 166.8)" font-family='"Liberation Sans", sans-serif' font-size="8.6" font-weight="bold" fill="#000" stroke="#000" stroke-width="0.15"><tspan stroke-width="0" fill="#333">***</tspan>sMG6</text>
<line x1="553.4" y1="156.2" x2="553.4" y2="159.9" stroke="#111" stroke-width="1.3"/>
<text x="555.9" y="166.8" text-anchor="end" transform="rotate(-45 555.9 166.8)" font-family='"Liberation Sans", sans-serif' font-size="8.6" font-weight="bold" fill="#000" stroke="#000" stroke-width="0.15"><tspan stroke-width="0" fill="#333">***</tspan>sMG7</text>
<line x1="569.6" y1="156.2" x2="569.6" y2="159.9" stroke="#111" stroke-width="1.3"/>
<text x="572.1" y="166.8" text-anchor="end" transform="rotate(-45 572.1 166.8)" font-family='"Liberation Sans", sans-serif' font-size="8.6" font-weight="bold" fill="#000" stroke="#000" stroke-width="0.15"><tspan stroke-width="0" fill="#333">***</tspan>sMG8</text>
<line x1="590.45" y1="156.2" x2="590.45" y2="159.9" stroke="#111" stroke-width="1.3"/>
<text x="592.95" y="166.8" text-anchor="end" transform="rotate(-45 592.95 166.8)" font-family='"Liberation Sans", sans-serif' font-size="8.6" font-weight="bold" fill="#000" stroke="#000" stroke-width="0.15"><tspan stroke-width="0" fill="#333">***</tspan>sMGAg1</text>
<line x1="606.75" y1="156.2" x2="606.75" y2="159.9" stroke="#111" stroke-width="1.3"/>
<text x="609.25" y="166.8" text-anchor="end" transform="rotate(-45 609.25 166.8)" font-family='"Liberation Sans", sans-serif' font-size="8.6" font-weight="bold" fill="#000" stroke="#000" stroke-width="0.15"><tspan stroke-width="0" fill="#333">***</tspan>sMGAg2</text>
<line x1="623.05" y1="156.2" x2="623.05" y2="159.9" stroke="#111" stroke-width="1.3"/>
<text x="625.55" y="166.8" text-anchor="end" transform="rotate(-45 625.55 166.8)" font-family='"Liberation Sans", sans-serif' font-size="8.6" font-weight="bold" fill="#000" stroke="#000" stroke-width="0.15"><tspan stroke-width="0" fill="#333">***</tspan>sMGAg3</text>
<line x1="639.35" y1="156.2" x2="639.35" y2="159.9" stroke="#111" stroke-width="1.3"/>
<text x="641.85" y="166.8" text-anchor="end" transform="rotate(-45 641.85 166.8)" font-family='"Liberation Sans", sans-serif' font-size="8.6" font-weight="bold" fill="#000" stroke="#000" stroke-width="0.15"><tspan stroke-width="0" fill="#333">***</tspan>sMGAg4</text>
<defs><linearGradient id="gb" x1="0" y1="0" x2="0" y2="1">
<stop offset="0.0000" stop-color="#ff37a5"/>
<stop offset="0.0077" stop-color="#ff37a5"/>
<stop offset="0.0323" stop-color="#fe3faa"/>
<stop offset="0.0569" stop-color="#fd47af"/>
<stop offset="0.0815" stop-color="#fc4fb4"/>
<stop offset="0.1061" stop-color="#fb57b9"/>
<stop offset="0.1308" stop-color="#fa5fbe"/>
<stop offset="0.1554" stop-color="#f96ac2"/>
<stop offset="0.1800" stop-color="#f875c6"/>
<stop offset="0.2046" stop-color="#f680ca"/>
<stop offset="0.2292" stop-color="#f58bce"/>
<stop offset="0.2538" stop-color="#f496d2"/>
<stop offset="0.2785" stop-color="#f4a0d6"/>
<stop offset="0.3031" stop-color="#f4aada"/>
<stop offset="0.3277" stop-color="#f4b4de"/>
<stop offset="0.3523" stop-color="#f4bee2"/>
<stop offset="0.3769" stop-color="#f4c8e6"/>
<stop offset="0.4015" stop-color="#f6d3eb"/>
<stop offset="0.4262" stop-color="#f8def0"/>
<stop offset="0.4508" stop-color="#fbe9f5"/>
<stop offset="0.4754" stop-color="#fdf4fa"/>
<stop offset="0.5000" stop-color="#ffffff"/>
<stop offset="0.5246" stop-color="#f7f5f8"/>
<stop offset="0.5492" stop-color="#efeaf1"/>
<stop offset="0.5738" stop-color="#e7e0eb"/>
<stop offset="0.5985" stop-color="#dfd5e4"/>
<stop offset="0.6231" stop-color="#d7cbdd"/>
<stop offset="0.6477" stop-color="#cec0d5"/>
<stop offset="0.6723" stop-color="#c4b5cd"/>
<stop offset="0.6969" stop-color="#bbaac4"/>
<stop offset="0.7215" stop-color="#b19fbc"/>
<stop offset="0.7462" stop-color="#a894b4"/>
<stop offset="0.7708" stop-color="#9e87ab"/>
<stop offset="0.7954" stop-color="#957aa2"/>
<stop offset="0.8200" stop-color="#8b6c9a"/>
<stop offset="0.8446" stop-color="#825f91"/>
<stop offset="0.8692" stop-color="#785288"/>
<stop offset="0.8939" stop-color="#6e4680"/>
<stop offset="0.9185" stop-color="#653977"/>
<stop offset="0.9431" stop-color="#5b2d6f"/>
<stop offset="0.9677" stop-color="#522066"/>
<stop offset="0.9923" stop-color="#48145e"/>
<stop offset="1.0000" stop-color="#48145e"/>
</linearGradient></defs>
<rect x="658.3" y="25.3" width="11.5" height="130.4" fill="url(#gb)" stroke="#111" stroke-width="0.9"/>
<line x1="658.3" y1="26.3" x2="660.5" y2="26.3" stroke="#111" stroke-width="1"/>
<line x1="667.6" y1="26.3" x2="669.8" y2="26.3" stroke="#111" stroke-width="1"/>
<text x="673.6" y="28.6" font-family='"Liberation Sans", sans-serif' font-size="6.8" fill="#222">5</text>
<line x1="658.3" y1="90.5" x2="660.5" y2="90.5" stroke="#111" stroke-width="1"/>
<line x1="667.6" y1="90.5" x2="669.8" y2="90.5" stroke="#111" stroke-width="1"/>
<text x="673.6" y="92.8" font-family='"Liberation Sans", sans-serif' font-size="6.8" fill="#222">0</text>
<line x1="658.3" y1="154.7" x2="660.5" y2="154.7" stroke="#111" stroke-width="1"/>
<line x1="667.6" y1="154.7" x2="669.8" y2="154.7" stroke="#111" stroke-width="1"/>
<text x="673.6" y="157" font-family='"Liberation Sans", sans-serif' font-size="6.8" fill="#222">-5</text>
<text x="352.2" y="21.9" font-family='"Liberation Sans", sans-serif' font-size="20" fill="#000" stroke="#000" stroke-width="0.1">b</text>
<text x="385.1" y="14" font-family='"Liberation Sans", sans-serif' font-size="8.32" font-weight="bold" fill="#000" stroke="#000" stroke-width="0.15">COG Q - Secondary Metabolites Biosynthesis, Transport And Catabolism</text>
<g>
<rect x="70.7" y="506" width="16.75" height="11.14" fill="#ffffff"/>
<rect x="86.65" y="506" width="15.95" height="11.14" fill="#ffffff"/>
<rect x="107.1" y="506" width="16.83" height="11.14" fill="#ffffff"/>
<rect x="123.13" y="506" width="16.83" height="11.14" fill="#bbaac4"/>
<rect x="139.16" y="506" width="16.83" height="11.14" fill="#ffffff"/>
<rect x="155.19" y="506" width="16.83" height="11.14" fill="#ffffff"/>
<rect x="171.22" y="506" width="16.83" height="11.14" fill="#ffffff"/>
<rect x="187.25" y="506" width="16.83" height="11.14" fill="#a894b4"/>
<rect x="203.28" y="506" width="16.83" height="11.14" fill="#ffffff"/>
<rect x="219.31" y="506" width="16.03" height="11.14" fill="#ffffff"/>
<rect x="239.4" y="506" width="16.8" height="11.14" fill="#ffffff"/>
<rect x="255.4" y="506" width="16.8" height="11.14" fill="#ffffff"/>
<rect x="271.4" y="506" width="16.8" height="11.14" fill="#ffffff"/>
<rect x="287.4" y="506" width="16" height="11.14" fill="#ffffff"/>
<rect x="70.7" y="516.34" width="16.75" height="11.14" fill="#825f91"/>
<rect x="86.65" y="516.34" width="15.95" height="11.14" fill="#5b2d6f"/>
<rect x="107.1" y="516.34" width="16.83" height="11.14" fill="#a894b4"/>
<rect x="123.13" y="516.34" width="16.83" height="11.14" fill="#a894b4"/>
<rect x="139.16" y="516.34" width="16.83" height="11.14" fill="#d7cbdd"/>
<rect x="155.19" y="516.34" width="16.83" height="11.14" fill="#825f91"/>
<rect x="171.22" y="516.34" width="16.83" height="11.14" fill="#ffffff"/>
<rect x="187.25" y="516.34" width="16.83" height="11.14" fill="#a894b4"/>
<rect x="203.28" y="516.34" width="16.83" height="11.14" fill="#5b2d6f"/>
<rect x="219.31" y="516.34" width="16.03" height="11.14" fill="#825f91"/>
<rect x="239.4" y="516.34" width="16.8" height="11.14" fill="#bbaac4"/>
<rect x="255.4" y="516.34" width="16.8" height="11.14" fill="#5b2d6f"/>
<rect x="271.4" y="516.34" width="16.8" height="11.14" fill="#825f91"/>
<rect x="287.4" y="516.34" width="16" height="11.14" fill="#825f91"/>
<rect x="70.7" y="526.68" width="16.75" height="11.14" fill="#ffffff"/>
<rect x="86.65" y="526.68" width="15.95" height="11.14" fill="#ffffff"/>
<rect x="107.1" y="526.68" width="16.83" height="11.14" fill="#ffffff"/>
<rect x="123.13" y="526.68" width="16.83" height="11.14" fill="#ffffff"/>
<rect x="139.16" y="526.68" width="16.83" height="11.14" fill="#ffffff"/>
<rect x="155.19" y="526.68" width="16.83" height="11.14" fill="#ffffff"/>
<rect x="171.22" y="526.68" width="16.83" height="11.14" fill="#ffffff"/>
<rect x="187.25" y="526.68" width="16.83" height="11.14" fill="#ffffff"/>
<rect x="203.28" y="526.68" width="16.83" height="11.14" fill="#ffffff"/>
<rect x="219.31" y="526.68" width="16.03" height="11.14" fill="#ffffff"/>
<rect x="239.4" y="526.68" width="16.8" height="11.14" fill="#ffffff"/>
<rect x="255.4" y="526.68" width="16.8" height="11.14" fill="#d7cbdd"/>
<rect x="271.4" y="526.68" width="16.8" height="11.14" fill="#ffffff"/>
<rect x="287.4" y="526.68" width="16" height="11.14" fill="#ffffff"/>
<rect x="70.7" y="537.02" width="16.75" height="11.14" fill="#ffffff"/>
<rect x="86.65" y="537.02" width="15.95" height="11.14" fill="#ffffff"/>
<rect x="107.1" y="537.02" width="16.83" height="11.14" fill="#ffffff"/>
<rect x="123.13" y="537.02" width="16.83" height="11.14" fill="#ffffff"/>
<rect x="139.16" y="537.02" width="16.83" height="11.14" fill="#ffffff"/>
<rect x="155.19" y="537.02" width="16.83" height="11.14" fill="#ffffff"/>
<rect x="171.22" y="537.02" width="16.83" height="11.14" fill="#ffffff"/>
<rect x="187.25" y="537.02" width="16.83" height="11.14" fill="#ffffff"/>
<rect x="203.28" y="537.02" width="16.83" height="11.14" fill="#ffffff"/>
<rect x="219.31" y="537.02" width="16.03" height="11.14" fill="#ffffff"/>
<rect x="239.4" y="537.02" width="16.8" height="11.14" fill="#ffffff"/>
<rect x="255.4" y="537.02" width="16.8" height="11.14" fill="#cec0d5"/>
<rect x="271.4" y="537.02" width="16.8" height="11.14" fill="#ffffff"/>
<rect x="287.4" y="537.02" width="16" height="11.14" fill="#ffffff"/>
<rect x="70.7" y="547.36" width="16.75" height="11.14" fill="#ffffff"/>
<rect x="86.65" y="547.36" width="15.95" height="11.14" fill="#ffffff"/>
<rect x="107.1" y="547.36" width="16.83" height="11.14" fill="#ffffff"/>
<rect x="123.13" y="547.36" width="16.83" height="11.14" fill="#ffffff"/>
<rect x="139.16" y="547.36" width="16.83" height="11.14" fill="#ffffff"/>
<rect x="155.19" y="547.36" width="16.83" height="11.14" fill="#ffffff"/>
<rect x="171.22" y="547.36" width="16.83" height="11.14" fill="#ffffff"/>
<rect x="187.25" y="547.36" width="16.83" height="11.14" fill="#ffffff"/>
<rect x="203.28" y="547.36" width="16.83" height="11.14" fill="#d7cbdd"/>
<rect x="219.31" y="547.36" width="16.03" height="11.14" fill="#ffffff"/>
<rect x="239.4" y="547.36" width="16.8" height="11.14" fill="#ffffff"/>
<rect x="255.4" y="547.36" width="16.8" height="11.14" fill="#cec0d5"/>
<rect x="271.4" y="547.36" width="16.8" height="11.14" fill="#ffffff"/>
<rect x="287.4" y="547.36" width="16" height="11.14" fill="#ffffff"/>
<rect x="70.7" y="557.7" width="16.75" height="11.14" fill="#ffffff"/>
<rect x="86.65" y="557.7" width="15.95" height="11.14" fill="#ffffff"/>
<rect x="107.1" y="557.7" width="16.83" height="11.14" fill="#ffffff"/>
<rect x="123.13" y="557.7" width="16.83" height="11.14" fill="#ffffff"/>
<rect x="139.16" y="557.7" width="16.83" height="11.14" fill="#ffffff"/>
<rect x="155.19" y="557.7" width="16.83" height="11.14" fill="#ffffff"/>
<rect x="171.22" y="557.7" width="16.83" height="11.14" fill="#ffffff"/>
<rect x="187.25" y="557.7" width="16.83" height="11.14" fill="#ffffff"/>
<rect x="203.28" y="557.7" width="16.83" height="11.14" fill="#cec0d5"/>
<rect x="219.31" y="557.7" width="16.03" height="11.14" fill="#ffffff"/>
<rect x="239.4" y="557.7" width="16.8" height="11.14" fill="#ffffff"/>
<rect x="255.4" y="557.7" width="16.8" height="11.14" fill="#cec0d5"/>
<rect x="271.4" y="557.7" width="16.8" height="11.14" fill="#ffffff"/>
<rect x="287.4" y="557.7" width="16" height="11.14" fill="#ffffff"/>
<rect x="70.7" y="568.04" width="16.75" height="11.14" fill="#ffffff"/>
<rect x="86.65" y="568.04" width="15.95" height="11.14" fill="#ffffff"/>
<rect x="107.1" y="568.04" width="16.83" height="11.14" fill="#ffffff"/>
<rect x="123.13" y="568.04" width="16.83" height="11.14" fill="#ffffff"/>
<rect x="139.16" y="568.04" width="16.83" height="11.14" fill="#ffffff"/>
<rect x="155.19" y="568.04" width="16.83" height="11.14" fill="#ffffff"/>
<rect x="171.22" y="568.04" width="16.83" height="11.14" fill="#ffffff"/>
<rect x="187.25" y="568.04" width="16.83" height="11.14" fill="#ffffff"/>
<rect x="203.28" y="568.04" width="16.83" height="11.14" fill="#cec0d5"/>
<rect x="219.31" y="568.04" width="16.03" height="11.14" fill="#ffffff"/>
<rect x="239.4" y="568.04" width="16.8" height="11.14" fill="#ffffff"/>
<rect x="255.4" y="568.04" width="16.8" height="11.14" fill="#ffffff"/>
<rect x="271.4" y="568.04" width="16.8" height="11.14" fill="#ffffff"/>
<rect x="287.4" y="568.04" width="16" height="11.14" fill="#ffffff"/>
<rect x="70.7" y="578.38" width="16.75" height="11.14" fill="#ffffff"/>
<rect x="86.65" y="578.38" width="15.95" height="11.14" fill="#ffffff"/>
<rect x="107.1" y="578.38" width="16.83" height="11.14" fill="#ffffff"/>
<rect x="123.13" y="578.38" width="16.83" height="11.14" fill="#ffffff"/>
<rect x="139.16" y="578.38" width="16.83" height="11.14" fill="#ffffff"/>
<rect x="155.19" y="578.38" width="16.83" height="11.14" fill="#ffffff"/>
<rect x="171.22" y="578.38" width="16.83" height="11.14" fill="#ffffff"/>
<rect x="187.25" y="578.38" width="16.83" height="11.14" fill="#ffffff"/>
<rect x="203.28" y="578.38" width="16.83" height="11.14" fill="#ffffff"/>
<rect x="219.31" y="578.38" width="16.03" height="11.14" fill="#ffffff"/>
<rect x="239.4" y="578.38" width="16.8" height="11.14" fill="#ffffff"/>
<rect x="255.4" y="578.38" width="16.8" height="11.14" fill="#ffffff"/>
<rect x="271.4" y="578.38" width="16.8" height="11.14" fill="#ffffff"/>
<rect x="287.4" y="578.38" width="16" height="11.14" fill="#f4aada"/>
<rect x="70.7" y="588.72" width="16.75" height="11.14" fill="#ffffff"/>
<rect x="86.65" y="588.72" width="15.95" height="11.14" fill="#ffffff"/>
<rect x="107.1" y="588.72" width="16.83" height="11.14" fill="#ffffff"/>
<rect x="123.13" y="588.72" width="16.83" height="11.14" fill="#ffffff"/>
<rect x="139.16" y="588.72" width="16.83" height="11.14" fill="#ffffff"/>
<rect x="155.19" y="588.72" width="16.83" height="11.14" fill="#ffffff"/>
<rect x="171.22" y="588.72" width="16.83" height="11.14" fill="#ffffff"/>
<rect x="187.25" y="588.72" width="16.83" height="11.14" fill="#ffffff"/>
<rect x="203.28" y="588.72" width="16.83" height="11.14" fill="#f4c6e5"/>
<rect x="219.31" y="588.72" width="16.03" height="11.14" fill="#ffffff"/>
<rect x="239.4" y="588.72" width="16.8" height="11.14" fill="#ffffff"/>
<rect x="255.4" y="588.72" width="16.8" height="11.14" fill="#d7cbdd"/>
<rect x="271.4" y="588.72" width="16.8" height="11.14" fill="#cec0d5"/>
<rect x="287.4" y="588.72" width="16" height="11.14" fill="#ffffff"/>
<rect x="70.7" y="599.06" width="16.75" height="11.14" fill="#fb57b9"/>
<rect x="86.65" y="599.06" width="15.95" height="11.14" fill="#f4bee2"/>
<rect x="107.1" y="599.06" width="16.83" height="11.14" fill="#ffffff"/>
<rect x="123.13" y="599.06" width="16.83" height="11.14" fill="#ffffff"/>
<rect x="139.16" y="599.06" width="16.83" height="11.14" fill="#f4bee2"/>
<rect x="155.19" y="599.06" width="16.83" height="11.14" fill="#f680ca"/>
<rect x="171.22" y="599.06" width="16.83" height="11.14" fill="#ffffff"/>
<rect x="187.25" y="599.06" width="16.83" height="11.14" fill="#ffffff"/>
<rect x="203.28" y="599.06" width="16.83" height="11.14" fill="#f680ca"/>
<rect x="219.31" y="599.06" width="16.03" height="11.14" fill="#f4aada"/>
<rect x="239.4" y="599.06" width="16.8" height="11.14" fill="#ffffff"/>
<rect x="255.4" y="599.06" width="16.8" height="11.14" fill="#ffffff"/>
<rect x="271.4" y="599.06" width="16.8" height="11.14" fill="#ffffff"/>
<rect x="287.4" y="599.06" width="16" height="11.14" fill="#ffffff"/>
<rect x="70.7" y="609.4" width="16.75" height="11.14" fill="#ffffff"/>
<rect x="86.65" y="609.4" width="15.95" height="11.14" fill="#ffffff"/>
<rect x="107.1" y="609.4" width="16.83" height="11.14" fill="#ffffff"/>
<rect x="123.13" y="609.4" width="16.83" height="11.14" fill="#ffffff"/>
<rect x="139.16" y="609.4" width="16.83" height="11.14" fill="#cec0d5"/>
<rect x="155.19" y="609.4" width="16.83" height="11.14" fill="#ffffff"/>
<rect x="171.22" y="609.4" width="16.83" height="11.14" fill="#d7cbdd"/>
<rect x="187.25" y="609.4" width="16.83" height="11.14" fill="#ffffff"/>
<rect x="203.28" y="609.4" width="16.83" height="11.14" fill="#ffffff"/>
<rect x="219.31" y="609.4" width="16.03" height="11.14" fill="#ffffff"/>
<rect x="239.4" y="609.4" width="16.8" height="11.14" fill="#d7cbdd"/>
<rect x="255.4" y="609.4" width="16.8" height="11.14" fill="#ffffff"/>
<rect x="271.4" y="609.4" width="16.8" height="11.14" fill="#ffffff"/>
<rect x="287.4" y="609.4" width="16" height="11.14" fill="#ffffff"/>
<rect x="70.7" y="619.74" width="16.75" height="11.14" fill="#a894b4"/>
<rect x="86.65" y="619.74" width="15.95" height="11.14" fill="#825f91"/>
<rect x="107.1" y="619.74" width="16.83" height="11.14" fill="#bbaac4"/>
<rect x="123.13" y="619.74" width="16.83" height="11.14" fill="#cec0d5"/>
<rect x="139.16" y="619.74" width="16.83" height="11.14" fill="#957aa2"/>
<rect x="155.19" y="619.74" width="16.83" height="11.14" fill="#bbaac4"/>
<rect x="171.22" y="619.74" width="16.83" height="11.14" fill="#d7cbdd"/>
<rect x="187.25" y="619.74" width="16.83" height="11.14" fill="#a894b4"/>
<rect x="203.28" y="619.74" width="16.83" height="11.14" fill="#a894b4"/>
<rect x="219.31" y="619.74" width="16.03" height="11.14" fill="#6e4680"/>
<rect x="239.4" y="619.74" width="16.8" height="11.14" fill="#d7cbdd"/>
<rect x="255.4" y="619.74" width="16.8" height="11.14" fill="#825f91"/>
<rect x="271.4" y="619.74" width="16.8" height="11.14" fill="#5b2d6f"/>
<rect x="287.4" y="619.74" width="16" height="11.14" fill="#a894b4"/>
<rect x="70.7" y="630.08" width="16.75" height="10.34" fill="#ffffff"/>
<rect x="86.65" y="630.08" width="15.95" height="10.34" fill="#f4bee2"/>
<rect x="107.1" y="630.08" width="16.83" height="10.34" fill="#ffffff"/>
<rect x="123.13" y="630.08" width="16.83" height="10.34" fill="#ffffff"/>
<rect x="139.16" y="630.08" width="16.83" height="10.34" fill="#ffffff"/>
<rect x="155.19" y="630.08" width="16.83" height="10.34" fill="#ffffff"/>
<rect x="171.22" y="630.08" width="16.83" height="10.34" fill="#ffffff"/>
<rect x="187.25" y="630.08" width="16.83" height="10.34" fill="#ffffff"/>
<rect x="203.28" y="630.08" width="16.83" height="10.34" fill="#ffffff"/>
<rect x="219.31" y="630.08" width="16.03" height="10.34" fill="#ffffff"/>
<rect x="239.4" y="630.08" width="16.8" height="10.34" fill="#ffffff"/>
<rect x="255.4" y="630.08" width="16.8" height="10.34" fill="#ffffff"/>
<rect x="271.4" y="630.08" width="16.8" height="10.34" fill="#ffffff"/>
<rect x="287.4" y="630.08" width="16" height="10.34" fill="#ffffff"/>
</g>
<line x1="70.7" y1="506" x2="303.4" y2="506" stroke="#111" stroke-width="1.3"/>
<line x1="70.7" y1="640.42" x2="303.4" y2="640.42" stroke="#111" stroke-width="1.3"/>
<line x1="70.7" y1="506" x2="70.7" y2="640.42" stroke="#111" stroke-width="1.3"/>
<line x1="303.4" y1="506" x2="303.4" y2="640.42" stroke="#111" stroke-width="1.2"/>
<line x1="105" y1="506" x2="105" y2="640.42" stroke="#333" stroke-width="1.0"/>
<line x1="237.5" y1="506" x2="237.5" y2="640.42" stroke="#333" stroke-width="1.0"/>
<line x1="66.1" y1="511.17" x2="70.7" y2="511.17" stroke="#111" stroke-width="1.3"/>
<text x="64.6" y="513.37" text-anchor="end" font-family='"Liberation Sans", sans-serif' font-size="6.6" font-weight="bold" font-style="italic" fill="#000" stroke="#000" stroke-width="0.2" textLength="62.61" lengthAdjust="spacingAndGlyphs">pgap_annot_000600</text>
<line x1="66.1" y1="521.51" x2="70.7" y2="521.51" stroke="#111" stroke-width="1.3"/>
<text x="64.6" y="523.71" text-anchor="end" font-family='"Liberation Sans", sans-serif' font-size="6.6" font-weight="bold" font-style="italic" fill="#000" stroke="#000" stroke-width="0.2" textLength="14.55" lengthAdjust="spacingAndGlyphs">fabD</text>
<line x1="66.1" y1="531.85" x2="70.7" y2="531.85" stroke="#111" stroke-width="1.3"/>
<text x="64.6" y="534.05" text-anchor="end" font-family='"Liberation Sans", sans-serif' font-size="6.6" font-weight="bold" font-style="italic" fill="#000" stroke="#000" stroke-width="0.2" textLength="13.82" lengthAdjust="spacingAndGlyphs">fabF</text>
<line x1="66.1" y1="542.19" x2="70.7" y2="542.19" stroke="#111" stroke-width="1.3"/>
<text x="64.6" y="544.39" text-anchor="end" font-family='"Liberation Sans", sans-serif' font-size="6.6" font-weight="bold" font-style="italic" fill="#000" stroke="#000" stroke-width="0.2" textLength="15.66" lengthAdjust="spacingAndGlyphs">accB</text>
<line x1="66.1" y1="552.53" x2="70.7" y2="552.53" stroke="#111" stroke-width="1.3"/>
<text x="64.6" y="554.73" text-anchor="end" font-family='"Liberation Sans", sans-serif' font-size="6.6" font-weight="bold" font-style="italic" fill="#000" stroke="#000" stroke-width="0.2" textLength="15.66" lengthAdjust="spacingAndGlyphs">accC</text>
<line x1="66.1" y1="562.87" x2="70.7" y2="562.87" stroke="#111" stroke-width="1.3"/>
<text x="64.6" y="565.07" text-anchor="end" font-family='"Liberation Sans", sans-serif' font-size="6.6" font-weight="bold" font-style="italic" fill="#000" stroke="#000" stroke-width="0.2" textLength="15.66" lengthAdjust="spacingAndGlyphs">accD</text>
<line x1="66.1" y1="573.21" x2="70.7" y2="573.21" stroke="#111" stroke-width="1.3"/>
<text x="64.6" y="575.41" text-anchor="end" font-family='"Liberation Sans", sans-serif' font-size="6.6" font-weight="bold" font-style="italic" fill="#000" stroke="#000" stroke-width="0.2" textLength="15.66" lengthAdjust="spacingAndGlyphs">accA</text>
<line x1="66.1" y1="583.55" x2="70.7" y2="583.55" stroke="#111" stroke-width="1.3"/>
<text x="64.6" y="585.75" text-anchor="end" font-family='"Liberation Sans", sans-serif' font-size="6.6" font-weight="bold" font-style="italic" fill="#000" stroke="#000" stroke-width="0.2" textLength="14.92" lengthAdjust="spacingAndGlyphs">bcrC</text>
<line x1="66.1" y1="593.89" x2="70.7" y2="593.89" stroke="#111" stroke-width="1.3"/>
<text x="64.6" y="596.09" text-anchor="end" font-family='"Liberation Sans", sans-serif' font-size="6.6" font-weight="bold" font-style="italic" fill="#000" stroke="#000" stroke-width="0.2" textLength="16.37" lengthAdjust="spacingAndGlyphs">gcdC</text>
<line x1="66.1" y1="604.23" x2="70.7" y2="604.23" stroke="#111" stroke-width="1.3"/>
<text x="64.6" y="606.43" text-anchor="end" font-family='"Liberation Sans", sans-serif' font-size="6.6" font-weight="bold" font-style="italic" fill="#000" stroke="#000" stroke-width="0.2" textLength="62.12" lengthAdjust="spacingAndGlyphs">pgap_annot_001143</text>
<line x1="66.1" y1="614.57" x2="70.7" y2="614.57" stroke="#111" stroke-width="1.3"/>
<text x="64.6" y="616.77" text-anchor="end" font-family='"Liberation Sans", sans-serif' font-size="6.6" font-weight="bold" font-style="italic" fill="#000" stroke="#000" stroke-width="0.2" textLength="62.61" lengthAdjust="spacingAndGlyphs">pgap_annot_001423</text>
<line x1="66.1" y1="624.91" x2="70.7" y2="624.91" stroke="#111" stroke-width="1.3"/>
<text x="64.6" y="627.11" text-anchor="end" font-family='"Liberation Sans", sans-serif' font-size="6.6" font-weight="bold" font-style="italic" fill="#000" stroke="#000" stroke-width="0.2" textLength="16.73" lengthAdjust="spacingAndGlyphs">hgdC</text>
<line x1="66.1" y1="635.25" x2="70.7" y2="635.25" stroke="#111" stroke-width="1.3"/>
<text x="64.6" y="637.45" text-anchor="end" font-family='"Liberation Sans", sans-serif' font-size="6.6" font-weight="bold" font-style="italic" fill="#000" stroke="#000" stroke-width="0.2" textLength="12" lengthAdjust="spacingAndGlyphs">hbd</text>
<line x1="78.67" y1="640.42" x2="78.67" y2="644.62" stroke="#111" stroke-width="1.3"/>
<text x="81.27" y="651.42" text-anchor="end" transform="rotate(-45 81.27 651.42)" font-family='"Liberation Sans", sans-serif' font-size="8.7" font-weight="bold" fill="#000" stroke="#000" stroke-width="0.15">NG2</text>
<line x1="94.62" y1="640.42" x2="94.62" y2="644.62" stroke="#111" stroke-width="1.3"/>
<text x="97.22" y="651.42" text-anchor="end" transform="rotate(-45 97.22 651.42)" font-family='"Liberation Sans", sans-serif' font-size="8.7" font-weight="bold" fill="#000" stroke="#000" stroke-width="0.15">NG4</text>
<line x1="115.11" y1="640.42" x2="115.11" y2="644.62" stroke="#111" stroke-width="1.3"/>
<text x="117.71" y="651.42" text-anchor="end" transform="rotate(-45 117.71 651.42)" font-family='"Liberation Sans", sans-serif' font-size="8.7" font-weight="bold" fill="#000" stroke="#000" stroke-width="0.15"><tspan stroke-width="0" fill="#333">*</tspan>sMG1</text>
<line x1="131.14" y1="640.42" x2="131.14" y2="644.62" stroke="#111" stroke-width="1.3"/>
<text x="133.74" y="651.42" text-anchor="end" transform="rotate(-45 133.74 651.42)" font-family='"Liberation Sans", sans-serif' font-size="8.7" font-weight="bold" fill="#000" stroke="#000" stroke-width="0.15">sMG2</text>
<line x1="147.18" y1="640.42" x2="147.18" y2="644.62" stroke="#111" stroke-width="1.3"/>
<text x="149.78" y="651.42" text-anchor="end" transform="rotate(-45 149.78 651.42)" font-family='"Liberation Sans", sans-serif' font-size="8.7" font-weight="bold" fill="#000" stroke="#000" stroke-width="0.15">sMG3</text>
<line x1="163.2" y1="640.42" x2="163.2" y2="644.62" stroke="#111" stroke-width="1.3"/>
<text x="165.8" y="651.42" text-anchor="end" transform="rotate(-45 165.8 651.42)" font-family='"Liberation Sans", sans-serif' font-size="8.7" font-weight="bold" fill="#000" stroke="#000" stroke-width="0.15"><tspan stroke-width="0" fill="#333">**</tspan>sMG4</text>
<line x1="179.24" y1="640.42" x2="179.24" y2="644.62" stroke="#111" stroke-width="1.3"/>
<text x="181.84" y="651.42" text-anchor="end" transform="rotate(-45 181.84 651.42)" font-family='"Liberation Sans", sans-serif' font-size="8.7" font-weight="bold" fill="#000" stroke="#000" stroke-width="0.15">sMG5</text>
<line x1="195.26" y1="640.42" x2="195.26" y2="644.62" stroke="#111" stroke-width="1.3"/>
<text x="197.86" y="651.42" text-anchor="end" transform="rotate(-45 197.86 651.42)" font-family='"Liberation Sans", sans-serif' font-size="8.7" font-weight="bold" fill="#000" stroke="#000" stroke-width="0.15">sMG6</text>
<line x1="211.3" y1="640.42" x2="211.3" y2="644.62" stroke="#111" stroke-width="1.3"/>
<text x="213.9" y="651.42" text-anchor="end" transform="rotate(-45 213.9 651.42)" font-family='"Liberation Sans", sans-serif' font-size="8.7" font-weight="bold" fill="#000" stroke="#000" stroke-width="0.15"><tspan stroke-width="0" fill="#333">*</tspan>sMG7</text>
<line x1="227.32" y1="640.42" x2="227.32" y2="644.62" stroke="#111" stroke-width="1.3"/>
<text x="229.92" y="651.42" text-anchor="end" transform="rotate(-45 229.92 651.42)" font-family='"Liberation Sans", sans-serif' font-size="8.7" font-weight="bold" fill="#000" stroke="#000" stroke-width="0.15"><tspan stroke-width="0" fill="#333">*</tspan>sMG8</text>
<line x1="247.4" y1="640.42" x2="247.4" y2="644.62" stroke="#111" stroke-width="1.3"/>
<text x="250" y="651.42" text-anchor="end" transform="rotate(-45 250 651.42)" font-family='"Liberation Sans", sans-serif' font-size="8.7" font-weight="bold" fill="#000" stroke="#000" stroke-width="0.15">sMGAg1</text>
<line x1="263.4" y1="640.42" x2="263.4" y2="644.62" stroke="#111" stroke-width="1.3"/>
<text x="266" y="651.42" text-anchor="end" transform="rotate(-45 266 651.42)" font-family='"Liberation Sans", sans-serif' font-size="8.7" font-weight="bold" fill="#000" stroke="#000" stroke-width="0.15"><tspan stroke-width="0" fill="#333">*</tspan>sMGAg2</text>
<line x1="279.4" y1="640.42" x2="279.4" y2="644.62" stroke="#111" stroke-width="1.3"/>
<text x="282" y="651.42" text-anchor="end" transform="rotate(-45 282 651.42)" font-family='"Liberation Sans", sans-serif' font-size="8.7" font-weight="bold" fill="#000" stroke="#000" stroke-width="0.15">sMGAg3</text>
<line x1="295.4" y1="640.42" x2="295.4" y2="644.62" stroke="#111" stroke-width="1.3"/>
<text x="298" y="651.42" text-anchor="end" transform="rotate(-45 298 651.42)" font-family='"Liberation Sans", sans-serif' font-size="8.7" font-weight="bold" fill="#000" stroke="#000" stroke-width="0.15"><tspan stroke-width="0" fill="#333">*</tspan>sMGAg4</text>
<defs><linearGradient id="gc" x1="0" y1="0" x2="0" y2="1">
<stop offset="0.0000" stop-color="#ff37a5"/>
<stop offset="0.0112" stop-color="#ff37a5"/>
<stop offset="0.0357" stop-color="#fe3faa"/>
<stop offset="0.0601" stop-color="#fd47af"/>
<stop offset="0.0845" stop-color="#fc4fb4"/>
<stop offset="0.1090" stop-color="#fb57b9"/>
<stop offset="0.1334" stop-color="#fa5fbe"/>
<stop offset="0.1579" stop-color="#f96ac2"/>
<stop offset="0.1823" stop-color="#f875c6"/>
<stop offset="0.2067" stop-color="#f680ca"/>
<stop offset="0.2312" stop-color="#f58bce"/>
<stop offset="0.2556" stop-color="#f496d2"/>
<stop offset="0.2801" stop-color="#f4a0d6"/>
<stop offset="0.3045" stop-color="#f4aada"/>
<stop offset="0.3289" stop-color="#f4b4de"/>
<stop offset="0.3534" stop-color="#f4bee2"/>
<stop offset="0.3778" stop-color="#f4c8e6"/>
<stop offset="0.4022" stop-color="#f6d3eb"/>
<stop offset="0.4267" stop-color="#f8def0"/>
<stop offset="0.4511" stop-color="#fbe9f5"/>
<stop offset="0.4756" stop-color="#fdf4fa"/>
<stop offset="0.5000" stop-color="#ffffff"/>
<stop offset="0.5244" stop-color="#f7f5f8"/>
<stop offset="0.5489" stop-color="#efeaf1"/>
<stop offset="0.5733" stop-color="#e7e0eb"/>
<stop offset="0.5978" stop-color="#dfd5e4"/>
<stop offset="0.6222" stop-color="#d7cbdd"/>
<stop offset="0.6466" stop-color="#cec0d5"/>
<stop offset="0.6711" stop-color="#c4b5cd"/>
<stop offset="0.6955" stop-color="#bbaac4"/>
<stop offset="0.7199" stop-color="#b19fbc"/>
<stop offset="0.7444" stop-color="#a894b4"/>
<stop offset="0.7688" stop-color="#9e87ab"/>
<stop offset="0.7933" stop-color="#957aa2"/>
<stop offset="0.8177" stop-color="#8b6c9a"/>
<stop offset="0.8421" stop-color="#825f91"/>
<stop offset="0.8666" stop-color="#785288"/>
<stop offset="0.8910" stop-color="#6e4680"/>
<stop offset="0.9155" stop-color="#653977"/>
<stop offset="0.9399" stop-color="#5b2d6f"/>
<stop offset="0.9643" stop-color="#522066"/>
<stop offset="0.9888" stop-color="#48145e"/>
<stop offset="1.0000" stop-color="#48145e"/>
</linearGradient></defs>
<rect x="314.4" y="506.1" width="11.6" height="133.6" fill="url(#gc)" stroke="#111" stroke-width="1.1"/>
<line x1="314.4" y1="507.6" x2="316.6" y2="507.6" stroke="#111" stroke-width="1"/>
<line x1="323.8" y1="507.6" x2="326" y2="507.6" stroke="#111" stroke-width="1"/>
<text x="329.4" y="509.9" font-family='"Liberation Sans", sans-serif' font-size="6.8" fill="#222">5</text>
<line x1="314.4" y1="572.9" x2="316.6" y2="572.9" stroke="#111" stroke-width="1"/>
<line x1="323.8" y1="572.9" x2="326" y2="572.9" stroke="#111" stroke-width="1"/>
<text x="329.4" y="575.2" font-family='"Liberation Sans", sans-serif' font-size="6.8" fill="#222">0</text>
<line x1="314.4" y1="638.2" x2="316.6" y2="638.2" stroke="#111" stroke-width="1"/>
<line x1="323.8" y1="638.2" x2="326" y2="638.2" stroke="#111" stroke-width="1"/>
<text x="329.4" y="640.5" font-family='"Liberation Sans", sans-serif' font-size="6.8" fill="#222">-5</text>
<text x="11.3" y="502" font-family='"Liberation Sans", sans-serif' font-size="21" fill="#000" stroke="#000" stroke-width="0.45">c</text>
<text x="109.7" y="494.6" font-family='"Liberation Sans", sans-serif' font-size="8.15" font-weight="bold" fill="#000" stroke="#000" stroke-width="0.15">COG I - Lipid Transport And Metabolism</text>
<g>
<rect x="411" y="223.6" width="17" height="12.44" fill="#ffffff"/>
<rect x="427.2" y="223.6" width="16.2" height="12.44" fill="#ffffff"/>
<rect x="448.1" y="223.6" width="17" height="12.44" fill="#f4aada"/>
<rect x="464.3" y="223.6" width="17" height="12.44" fill="#f4bee2"/>
<rect x="480.5" y="223.6" width="17" height="12.44" fill="#ffffff"/>
<rect x="496.7" y="223.6" width="17" height="12.44" fill="#ffffff"/>
<rect x="512.9" y="223.6" width="17" height="12.44" fill="#bbaac4"/>
<rect x="529.1" y="223.6" width="17" height="12.44" fill="#f4c6e5"/>
<rect x="545.3" y="223.6" width="17" height="12.44" fill="#f4bee2"/>
<rect x="561.5" y="223.6" width="16.2" height="12.44" fill="#ffffff"/>
<rect x="582.3" y="223.6" width="17.1" height="12.44" fill="#ffffff"/>
<rect x="598.6" y="223.6" width="17.1" height="12.44" fill="#f496d2"/>
<rect x="614.9" y="223.6" width="17.1" height="12.44" fill="#f4aada"/>
<rect x="631.2" y="223.6" width="16.3" height="12.44" fill="#f4c6e5"/>
<rect x="411" y="235.24" width="17" height="12.44" fill="#ffffff"/>
<rect x="427.2" y="235.24" width="16.2" height="12.44" fill="#f4c6e5"/>
<rect x="448.1" y="235.24" width="17" height="12.44" fill="#f4bee2"/>
<rect x="464.3" y="235.24" width="17" height="12.44" fill="#f4c6e5"/>
<rect x="480.5" y="235.24" width="17" height="12.44" fill="#ffffff"/>
<rect x="496.7" y="235.24" width="17" height="12.44" fill="#ffffff"/>
<rect x="512.9" y="235.24" width="17" height="12.44" fill="#bbaac4"/>
<rect x="529.1" y="235.24" width="17" height="12.44" fill="#ffffff"/>
<rect x="545.3" y="235.24" width="17" height="12.44" fill="#f4bee2"/>
<rect x="561.5" y="235.24" width="16.2" height="12.44" fill="#ffffff"/>
<rect x="582.3" y="235.24" width="17.1" height="12.44" fill="#ffffff"/>
<rect x="598.6" y="235.24" width="17.1" height="12.44" fill="#f4aada"/>
<rect x="614.9" y="235.24" width="17.1" height="12.44" fill="#f4bee2"/>
<rect x="631.2" y="235.24" width="16.3" height="12.44" fill="#ffffff"/>
<rect x="411" y="246.88" width="17" height="12.44" fill="#ffffff"/>
<rect x="427.2" y="246.88" width="16.2" height="12.44" fill="#f4c6e5"/>
<rect x="448.1" y="246.88" width="17" height="12.44" fill="#ffffff"/>
<rect x="464.3" y="246.88" width="17" height="12.44" fill="#ffffff"/>
<rect x="480.5" y="246.88" width="17" height="12.44" fill="#ffffff"/>
<rect x="496.7" y="246.88" width="17" height="12.44" fill="#ffffff"/>
<rect x="512.9" y="246.88" width="17" height="12.44" fill="#d7cbdd"/>
<rect x="529.1" y="246.88" width="17" height="12.44" fill="#ffffff"/>
<rect x="545.3" y="246.88" width="17" height="12.44" fill="#ffffff"/>
<rect x="561.5" y="246.88" width="16.2" height="12.44" fill="#ffffff"/>
<rect x="582.3" y="246.88" width="17.1" height="12.44" fill="#ffffff"/>
<rect x="598.6" y="246.88" width="17.1" height="12.44" fill="#ffffff"/>
<rect x="614.9" y="246.88" width="17.1" height="12.44" fill="#ffffff"/>
<rect x="631.2" y="246.88" width="16.3" height="12.44" fill="#ffffff"/>
<rect x="411" y="258.52" width="17" height="12.44" fill="#ffffff"/>
<rect x="427.2" y="258.52" width="16.2" height="12.44" fill="#ffffff"/>
<rect x="448.1" y="258.52" width="17" height="12.44" fill="#ffffff"/>
<rect x="464.3" y="258.52" width="17" height="12.44" fill="#ffffff"/>
<rect x="480.5" y="258.52" width="17" height="12.44" fill="#ffffff"/>
<rect x="496.7" y="258.52" width="17" height="12.44" fill="#ffffff"/>
<rect x="512.9" y="258.52" width="17" height="12.44" fill="#ffffff"/>
<rect x="529.1" y="258.52" width="17" height="12.44" fill="#ffffff"/>
<rect x="545.3" y="258.52" width="17" height="12.44" fill="#f4bee2"/>
<rect x="561.5" y="258.52" width="16.2" height="12.44" fill="#f4c6e5"/>
<rect x="582.3" y="258.52" width="17.1" height="12.44" fill="#ffffff"/>
<rect x="598.6" y="258.52" width="17.1" height="12.44" fill="#ffffff"/>
<rect x="614.9" y="258.52" width="17.1" height="12.44" fill="#ffffff"/>
<rect x="631.2" y="258.52" width="16.3" height="12.44" fill="#ffffff"/>
<rect x="411" y="270.16" width="17" height="12.44" fill="#bbaac4"/>
<rect x="427.2" y="270.16" width="16.2" height="12.44" fill="#cec0d5"/>
<rect x="448.1" y="270.16" width="17" height="12.44" fill="#ffffff"/>
<rect x="464.3" y="270.16" width="17" height="12.44" fill="#ffffff"/>
<rect x="480.5" y="270.16" width="17" height="12.44" fill="#bbaac4"/>
<rect x="496.7" y="270.16" width="17" height="12.44" fill="#ffffff"/>
<rect x="512.9" y="270.16" width="17" height="12.44" fill="#ffffff"/>
<rect x="529.1" y="270.16" width="17" height="12.44" fill="#ffffff"/>
<rect x="545.3" y="270.16" width="17" height="12.44" fill="#cec0d5"/>
<rect x="561.5" y="270.16" width="16.2" height="12.44" fill="#ffffff"/>
<rect x="582.3" y="270.16" width="17.1" height="12.44" fill="#ffffff"/>
<rect x="598.6" y="270.16" width="17.1" height="12.44" fill="#ffffff"/>
<rect x="614.9" y="270.16" width="17.1" height="12.44" fill="#ffffff"/>
<rect x="631.2" y="270.16" width="16.3" height="12.44" fill="#ffffff"/>
<rect x="411" y="281.8" width="17" height="12.44" fill="#a894b4"/>
<rect x="427.2" y="281.8" width="16.2" height="12.44" fill="#bbaac4"/>
<rect x="448.1" y="281.8" width="17" height="12.44" fill="#ffffff"/>
<rect x="464.3" y="281.8" width="17" height="12.44" fill="#ffffff"/>
<rect x="480.5" y="281.8" width="17" height="12.44" fill="#a894b4"/>
<rect x="496.7" y="281.8" width="17" height="12.44" fill="#d7cbdd"/>
<rect x="512.9" y="281.8" width="17" height="12.44" fill="#ffffff"/>
<rect x="529.1" y="281.8" width="17" height="12.44" fill="#ffffff"/>
<rect x="545.3" y="281.8" width="17" height="12.44" fill="#cec0d5"/>
<rect x="561.5" y="281.8" width="16.2" height="12.44" fill="#cec0d5"/>
<rect x="582.3" y="281.8" width="17.1" height="12.44" fill="#ffffff"/>
<rect x="598.6" y="281.8" width="17.1" height="12.44" fill="#d7cbdd"/>
<rect x="614.9" y="281.8" width="17.1" height="12.44" fill="#ffffff"/>
<rect x="631.2" y="281.8" width="16.3" height="12.44" fill="#ffffff"/>
<rect x="411" y="293.44" width="17" height="12.44" fill="#957aa2"/>
<rect x="427.2" y="293.44" width="16.2" height="12.44" fill="#bbaac4"/>
<rect x="448.1" y="293.44" width="17" height="12.44" fill="#ffffff"/>
<rect x="464.3" y="293.44" width="17" height="12.44" fill="#ffffff"/>
<rect x="480.5" y="293.44" width="17" height="12.44" fill="#bbaac4"/>
<rect x="496.7" y="293.44" width="17" height="12.44" fill="#ffffff"/>
<rect x="512.9" y="293.44" width="17" height="12.44" fill="#ffffff"/>
<rect x="529.1" y="293.44" width="17" height="12.44" fill="#ffffff"/>
<rect x="545.3" y="293.44" width="17" height="12.44" fill="#cec0d5"/>
<rect x="561.5" y="293.44" width="16.2" height="12.44" fill="#cec0d5"/>
<rect x="582.3" y="293.44" width="17.1" height="12.44" fill="#ffffff"/>
<rect x="598.6" y="293.44" width="17.1" height="12.44" fill="#cec0d5"/>
<rect x="614.9" y="293.44" width="17.1" height="12.44" fill="#ffffff"/>
<rect x="631.2" y="293.44" width="16.3" height="12.44" fill="#ffffff"/>
<rect x="411" y="305.08" width="17" height="12.44" fill="#ffffff"/>
<rect x="427.2" y="305.08" width="16.2" height="12.44" fill="#ffffff"/>
<rect x="448.1" y="305.08" width="17" height="12.44" fill="#ffffff"/>
<rect x="464.3" y="305.08" width="17" height="12.44" fill="#ffffff"/>
<rect x="480.5" y="305.08" width="17" height="12.44" fill="#ffffff"/>
<rect x="496.7" y="305.08" width="17" height="12.44" fill="#ffffff"/>
<rect x="512.9" y="305.08" width="17" height="12.44" fill="#f4c6e5"/>
<rect x="529.1" y="305.08" width="17" height="12.44" fill="#ffffff"/>
<rect x="545.3" y="305.08" width="17" height="12.44" fill="#ffffff"/>
<rect x="561.5" y="305.08" width="16.2" height="12.44" fill="#ffffff"/>
<rect x="582.3" y="305.08" width="17.1" height="12.44" fill="#ffffff"/>
<rect x="598.6" y="305.08" width="17.1" height="12.44" fill="#ffffff"/>
<rect x="614.9" y="305.08" width="17.1" height="12.44" fill="#ffffff"/>
<rect x="631.2" y="305.08" width="16.3" height="12.44" fill="#ffffff"/>
<rect x="411" y="316.72" width="17" height="12.44" fill="#f4c6e5"/>
<rect x="427.2" y="316.72" width="16.2" height="12.44" fill="#f4c6e5"/>
<rect x="448.1" y="316.72" width="17" height="12.44" fill="#ffffff"/>
<rect x="464.3" y="316.72" width="17" height="12.44" fill="#f4c6e5"/>
<rect x="480.5" y="316.72" width="17" height="12.44" fill="#ffffff"/>
<rect x="496.7" y="316.72" width="17" height="12.44" fill="#ffffff"/>
<rect x="512.9" y="316.72" width="17" height="12.44" fill="#f4c6e5"/>
<rect x="529.1" y="316.72" width="17" height="12.44" fill="#ffffff"/>
<rect x="545.3" y="316.72" width="17" height="12.44" fill="#ffffff"/>
<rect x="561.5" y="316.72" width="16.2" height="12.44" fill="#ffffff"/>
<rect x="582.3" y="316.72" width="17.1" height="12.44" fill="#ffffff"/>
<rect x="598.6" y="316.72" width="17.1" height="12.44" fill="#ffffff"/>
<rect x="614.9" y="316.72" width="17.1" height="12.44" fill="#ffffff"/>
<rect x="631.2" y="316.72" width="16.3" height="12.44" fill="#ffffff"/>
<rect x="411" y="328.36" width="17" height="12.44" fill="#ffffff"/>
<rect x="427.2" y="328.36" width="16.2" height="12.44" fill="#ffffff"/>
<rect x="448.1" y="328.36" width="17" height="12.44" fill="#ffffff"/>
<rect x="464.3" y="328.36" width="17" height="12.44" fill="#f4bee2"/>
<rect x="480.5" y="328.36" width="17" height="12.44" fill="#ffffff"/>
<rect x="496.7" y="328.36" width="17" height="12.44" fill="#ffffff"/>
<rect x="512.9" y="328.36" width="17" height="12.44" fill="#ffffff"/>
<rect x="529.1" y="328.36" width="17" height="12.44" fill="#ffffff"/>
<rect x="545.3" y="328.36" width="17" height="12.44" fill="#f4bee2"/>
<rect x="561.5" y="328.36" width="16.2" height="12.44" fill="#f4bee2"/>
<rect x="582.3" y="328.36" width="17.1" height="12.44" fill="#ffffff"/>
<rect x="598.6" y="328.36" width="17.1" height="12.44" fill="#ffffff"/>
<rect x="614.9" y="328.36" width="17.1" height="12.44" fill="#ffffff"/>
<rect x="631.2" y="328.36" width="16.3" height="12.44" fill="#ffffff"/>
<rect x="411" y="340" width="17" height="12.44" fill="#ffffff"/>
<rect x="427.2" y="340" width="16.2" height="12.44" fill="#f4c6e5"/>
<rect x="448.1" y="340" width="17" height="12.44" fill="#ffffff"/>
<rect x="464.3" y="340" width="17" height="12.44" fill="#f4bee2"/>
<rect x="480.5" y="340" width="17" height="12.44" fill="#ffffff"/>
<rect x="496.7" y="340" width="17" height="12.44" fill="#ffffff"/>
<rect x="512.9" y="340" width="17" height="12.44" fill="#ffffff"/>
<rect x="529.1" y="340" width="17" height="12.44" fill="#ffffff"/>
<rect x="545.3" y="340" width="17" height="12.44" fill="#f4bee2"/>
<rect x="561.5" y="340" width="16.2" height="12.44" fill="#f4c6e5"/>
<rect x="582.3" y="340" width="17.1" height="12.44" fill="#ffffff"/>
<rect x="598.6" y="340" width="17.1" height="12.44" fill="#ffffff"/>
<rect x="614.9" y="340" width="17.1" height="12.44" fill="#ffffff"/>
<rect x="631.2" y="340" width="16.3" height="12.44" fill="#ffffff"/>
<rect x="411" y="351.64" width="17" height="12.44" fill="#cec0d5"/>
<rect x="427.2" y="351.64" width="16.2" height="12.44" fill="#ffffff"/>
<rect x="448.1" y="351.64" width="17" height="12.44" fill="#ffffff"/>
<rect x="464.3" y="351.64" width="17" height="12.44" fill="#ffffff"/>
<rect x="480.5" y="351.64" width="17" height="12.44" fill="#cec0d5"/>
<rect x="496.7" y="351.64" width="17" height="12.44" fill="#ffffff"/>
<rect x="512.9" y="351.64" width="17" height="12.44" fill="#cec0d5"/>
<rect x="529.1" y="351.64" width="17" height="12.44" fill="#ffffff"/>
<rect x="545.3" y="351.64" width="17" height="12.44" fill="#cec0d5"/>
<rect x="561.5" y="351.64" width="16.2" height="12.44" fill="#ffffff"/>
<rect x="582.3" y="351.64" width="17.1" height="12.44" fill="#cec0d5"/>
<rect x="598.6" y="351.64" width="17.1" height="12.44" fill="#ffffff"/>
<rect x="614.9" y="351.64" width="17.1" height="12.44" fill="#ffffff"/>
<rect x="631.2" y="351.64" width="16.3" height="12.44" fill="#d7cbdd"/>
<rect x="411" y="363.28" width="17" height="12.44" fill="#ffffff"/>
<rect x="427.2" y="363.28" width="16.2" height="12.44" fill="#ffffff"/>
<rect x="448.1" y="363.28" width="17" height="12.44" fill="#ffffff"/>
<rect x="464.3" y="363.28" width="17" height="12.44" fill="#ffffff"/>
<rect x="480.5" y="363.28" width="17" height="12.44" fill="#ffffff"/>
<rect x="496.7" y="363.28" width="17" height="12.44" fill="#ffffff"/>
<rect x="512.9" y="363.28" width="17" height="12.44" fill="#ffffff"/>
<rect x="529.1" y="363.28" width="17" height="12.44" fill="#ffffff"/>
<rect x="545.3" y="363.28" width="17" height="12.44" fill="#cec0d5"/>
<rect x="561.5" y="363.28" width="16.2" height="12.44" fill="#ffffff"/>
<rect x="582.3" y="363.28" width="17.1" height="12.44" fill="#ffffff"/>
<rect x="598.6" y="363.28" width="17.1" height="12.44" fill="#ffffff"/>
<rect x="614.9" y="363.28" width="17.1" height="12.44" fill="#ffffff"/>
<rect x="631.2" y="363.28" width="16.3" height="12.44" fill="#ffffff"/>
<rect x="411" y="374.92" width="17" height="12.44" fill="#f4bee2"/>
<rect x="427.2" y="374.92" width="16.2" height="12.44" fill="#f4c6e5"/>
<rect x="448.1" y="374.92" width="17" height="12.44" fill="#ffffff"/>
<rect x="464.3" y="374.92" width="17" height="12.44" fill="#f4aada"/>
<rect x="480.5" y="374.92" width="17" height="12.44" fill="#ffffff"/>
<rect x="496.7" y="374.92" width="17" height="12.44" fill="#ffffff"/>
<rect x="512.9" y="374.92" width="17" height="12.44" fill="#ffffff"/>
<rect x="529.1" y="374.92" width="17" height="12.44" fill="#ffffff"/>
<rect x="545.3" y="374.92" width="17" height="12.44" fill="#ffffff"/>
<rect x="561.5" y="374.92" width="16.2" height="12.44" fill="#ffffff"/>
<rect x="582.3" y="374.92" width="17.1" height="12.44" fill="#ffffff"/>
<rect x="598.6" y="374.92" width="17.1" height="12.44" fill="#ffffff"/>
<rect x="614.9" y="374.92" width="17.1" height="12.44" fill="#ffffff"/>
<rect x="631.2" y="374.92" width="16.3" height="12.44" fill="#ffffff"/>
<rect x="411" y="386.56" width="17" height="12.44" fill="#f4c6e5"/>
<rect x="427.2" y="386.56" width="16.2" height="12.44" fill="#ffffff"/>
<rect x="448.1" y="386.56" width="17" height="12.44" fill="#ffffff"/>
<rect x="464.3" y="386.56" width="17" height="12.44" fill="#ffffff"/>
<rect x="480.5" y="386.56" width="17" height="12.44" fill="#ffffff"/>
<rect x="496.7" y="386.56" width="17" height="12.44" fill="#ffffff"/>
<rect x="512.9" y="386.56" width="17" height="12.44" fill="#ffffff"/>
<rect x="529.1" y="386.56" width="17" height="12.44" fill="#ffffff"/>
<rect x="545.3" y="386.56" width="17" height="12.44" fill="#ffffff"/>
<rect x="561.5" y="386.56" width="16.2" height="12.44" fill="#ffffff"/>
<rect x="582.3" y="386.56" width="17.1" height="12.44" fill="#ffffff"/>
<rect x="598.6" y="386.56" width="17.1" height="12.44" fill="#ffffff"/>
<rect x="614.9" y="386.56" width="17.1" height="12.44" fill="#ffffff"/>
<rect x="631.2" y="386.56" width="16.3" height="12.44" fill="#ffffff"/>
<rect x="411" y="398.2" width="17" height="12.44" fill="#ffffff"/>
<rect x="427.2" y="398.2" width="16.2" height="12.44" fill="#ffffff"/>
<rect x="448.1" y="398.2" width="17" height="12.44" fill="#ffffff"/>
<rect x="464.3" y="398.2" width="17" height="12.44" fill="#d7cbdd"/>
<rect x="480.5" y="398.2" width="17" height="12.44" fill="#ffffff"/>
<rect x="496.7" y="398.2" width="17" height="12.44" fill="#ffffff"/>
<rect x="512.9" y="398.2" width="17" height="12.44" fill="#ffffff"/>
<rect x="529.1" y="398.2" width="17" height="12.44" fill="#ffffff"/>
<rect x="545.3" y="398.2" width="17" height="12.44" fill="#ffffff"/>
<rect x="561.5" y="398.2" width="16.2" height="12.44" fill="#ffffff"/>
<rect x="582.3" y="398.2" width="17.1" height="12.44" fill="#ffffff"/>
<rect x="598.6" y="398.2" width="17.1" height="12.44" fill="#ffffff"/>
<rect x="614.9" y="398.2" width="17.1" height="12.44" fill="#ffffff"/>
<rect x="631.2" y="398.2" width="16.3" height="12.44" fill="#ffffff"/>
<rect x="411" y="409.84" width="17" height="12.44" fill="#f96ac2"/>
<rect x="427.2" y="409.84" width="16.2" height="12.44" fill="#f4c6e5"/>
<rect x="448.1" y="409.84" width="17" height="12.44" fill="#ffffff"/>
<rect x="464.3" y="409.84" width="17" height="12.44" fill="#ffffff"/>
<rect x="480.5" y="409.84" width="17" height="12.44" fill="#f4aada"/>
<rect x="496.7" y="409.84" width="17" height="12.44" fill="#f496d2"/>
<rect x="512.9" y="409.84" width="17" height="12.44" fill="#ffffff"/>
<rect x="529.1" y="409.84" width="17" height="12.44" fill="#ffffff"/>
<rect x="545.3" y="409.84" width="17" height="12.44" fill="#f96ac2"/>
<rect x="561.5" y="409.84" width="16.2" height="12.44" fill="#f4bee2"/>
<rect x="582.3" y="409.84" width="17.1" height="12.44" fill="#ffffff"/>
<rect x="598.6" y="409.84" width="17.1" height="12.44" fill="#ffffff"/>
<rect x="614.9" y="409.84" width="17.1" height="12.44" fill="#ffffff"/>
<rect x="631.2" y="409.84" width="16.3" height="12.44" fill="#ffffff"/>
<rect x="411" y="421.48" width="17" height="12.44" fill="#fb57b9"/>
<rect x="427.2" y="421.48" width="16.2" height="12.44" fill="#f4c6e5"/>
<rect x="448.1" y="421.48" width="17" height="12.44" fill="#f4c6e5"/>
<rect x="464.3" y="421.48" width="17" height="12.44" fill="#ffffff"/>
<rect x="480.5" y="421.48" width="17" height="12.44" fill="#f4aada"/>
<rect x="496.7" y="421.48" width="17" height="12.44" fill="#f496d2"/>
<rect x="512.9" y="421.48" width="17" height="12.44" fill="#ffffff"/>
<rect x="529.1" y="421.48" width="17" height="12.44" fill="#ffffff"/>
<rect x="545.3" y="421.48" width="17" height="12.44" fill="#f96ac2"/>
<rect x="561.5" y="421.48" width="16.2" height="12.44" fill="#f4bee2"/>
<rect x="582.3" y="421.48" width="17.1" height="12.44" fill="#ffffff"/>
<rect x="598.6" y="421.48" width="17.1" height="12.44" fill="#ffffff"/>
<rect x="614.9" y="421.48" width="17.1" height="12.44" fill="#ffffff"/>
<rect x="631.2" y="421.48" width="16.3" height="12.44" fill="#f4c6e5"/>
<rect x="411" y="433.12" width="17" height="12.44" fill="#957aa2"/>
<rect x="427.2" y="433.12" width="16.2" height="12.44" fill="#a894b4"/>
<rect x="448.1" y="433.12" width="17" height="12.44" fill="#bbaac4"/>
<rect x="464.3" y="433.12" width="17" height="12.44" fill="#bbaac4"/>
<rect x="480.5" y="433.12" width="17" height="12.44" fill="#825f91"/>
<rect x="496.7" y="433.12" width="17" height="12.44" fill="#a894b4"/>
<rect x="512.9" y="433.12" width="17" height="12.44" fill="#ffffff"/>
<rect x="529.1" y="433.12" width="17" height="12.44" fill="#cec0d5"/>
<rect x="545.3" y="433.12" width="17" height="12.44" fill="#bbaac4"/>
<rect x="561.5" y="433.12" width="16.2" height="12.44" fill="#825f91"/>
<rect x="582.3" y="433.12" width="17.1" height="12.44" fill="#a894b4"/>
<rect x="598.6" y="433.12" width="17.1" height="12.44" fill="#6e4680"/>
<rect x="614.9" y="433.12" width="17.1" height="12.44" fill="#cec0d5"/>
<rect x="631.2" y="433.12" width="16.3" height="12.44" fill="#a894b4"/>
<rect x="411" y="444.76" width="17" height="12.44" fill="#825f91"/>
<rect x="427.2" y="444.76" width="16.2" height="12.44" fill="#957aa2"/>
<rect x="448.1" y="444.76" width="17" height="12.44" fill="#a894b4"/>
<rect x="464.3" y="444.76" width="17" height="12.44" fill="#a894b4"/>
<rect x="480.5" y="444.76" width="17" height="12.44" fill="#6e4680"/>
<rect x="496.7" y="444.76" width="17" height="12.44" fill="#957aa2"/>
<rect x="512.9" y="444.76" width="17" height="12.44" fill="#ffffff"/>
<rect x="529.1" y="444.76" width="17" height="12.44" fill="#bbaac4"/>
<rect x="545.3" y="444.76" width="17" height="12.44" fill="#bbaac4"/>
<rect x="561.5" y="444.76" width="16.2" height="12.44" fill="#6e4680"/>
<rect x="582.3" y="444.76" width="17.1" height="12.44" fill="#a894b4"/>
<rect x="598.6" y="444.76" width="17.1" height="12.44" fill="#48145e"/>
<rect x="614.9" y="444.76" width="17.1" height="12.44" fill="#bbaac4"/>
<rect x="631.2" y="444.76" width="16.3" height="12.44" fill="#957aa2"/>
<rect x="411" y="456.4" width="17" height="12.44" fill="#825f91"/>
<rect x="427.2" y="456.4" width="16.2" height="12.44" fill="#957aa2"/>
<rect x="448.1" y="456.4" width="17" height="12.44" fill="#a894b4"/>
<rect x="464.3" y="456.4" width="17" height="12.44" fill="#a894b4"/>
<rect x="480.5" y="456.4" width="17" height="12.44" fill="#6e4680"/>
<rect x="496.7" y="456.4" width="17" height="12.44" fill="#a894b4"/>
<rect x="512.9" y="456.4" width="17" height="12.44" fill="#ffffff"/>
<rect x="529.1" y="456.4" width="17" height="12.44" fill="#bbaac4"/>
<rect x="545.3" y="456.4" width="17" height="12.44" fill="#bbaac4"/>
<rect x="561.5" y="456.4" width="16.2" height="12.44" fill="#6e4680"/>
<rect x="582.3" y="456.4" width="17.1" height="12.44" fill="#a894b4"/>
<rect x="598.6" y="456.4" width="17.1" height="12.44" fill="#48145e"/>
<rect x="614.9" y="456.4" width="17.1" height="12.44" fill="#bbaac4"/>
<rect x="631.2" y="456.4" width="16.3" height="12.44" fill="#957aa2"/>
<rect x="411" y="468.04" width="17" height="12.44" fill="#f96ac2"/>
<rect x="427.2" y="468.04" width="16.2" height="12.44" fill="#ffffff"/>
<rect x="448.1" y="468.04" width="17" height="12.44" fill="#ffffff"/>
<rect x="464.3" y="468.04" width="17" height="12.44" fill="#ffffff"/>
<rect x="480.5" y="468.04" width="17" height="12.44" fill="#ffffff"/>
<rect x="496.7" y="468.04" width="17" height="12.44" fill="#f4c6e5"/>
<rect x="512.9" y="468.04" width="17" height="12.44" fill="#ffffff"/>
<rect x="529.1" y="468.04" width="17" height="12.44" fill="#ffffff"/>
<rect x="545.3" y="468.04" width="17" height="12.44" fill="#ffffff"/>
<rect x="561.5" y="468.04" width="16.2" height="12.44" fill="#ffffff"/>
<rect x="582.3" y="468.04" width="17.1" height="12.44" fill="#ffffff"/>
<rect x="598.6" y="468.04" width="17.1" height="12.44" fill="#ffffff"/>
<rect x="614.9" y="468.04" width="17.1" height="12.44" fill="#ffffff"/>
<rect x="631.2" y="468.04" width="16.3" height="12.44" fill="#ffffff"/>
<rect x="411" y="479.68" width="17" height="12.44" fill="#f96ac2"/>
<rect x="427.2" y="479.68" width="16.2" height="12.44" fill="#ffffff"/>
<rect x="448.1" y="479.68" width="17" height="12.44" fill="#ffffff"/>
<rect x="464.3" y="479.68" width="17" height="12.44" fill="#ffffff"/>
<rect x="480.5" y="479.68" width="17" height="12.44" fill="#ffffff"/>
<rect x="496.7" y="479.68" width="17" height="12.44" fill="#ffffff"/>
<rect x="512.9" y="479.68" width="17" height="12.44" fill="#ffffff"/>
<rect x="529.1" y="479.68" width="17" height="12.44" fill="#ffffff"/>
<rect x="545.3" y="479.68" width="17" height="12.44" fill="#ffffff"/>
<rect x="561.5" y="479.68" width="16.2" height="12.44" fill="#ffffff"/>
<rect x="582.3" y="479.68" width="17.1" height="12.44" fill="#ffffff"/>
<rect x="598.6" y="479.68" width="17.1" height="12.44" fill="#ffffff"/>
<rect x="614.9" y="479.68" width="17.1" height="12.44" fill="#ffffff"/>
<rect x="631.2" y="479.68" width="16.3" height="12.44" fill="#ffffff"/>
<rect x="411" y="491.32" width="17" height="12.44" fill="#f96ac2"/>
<rect x="427.2" y="491.32" width="16.2" height="12.44" fill="#ffffff"/>
<rect x="448.1" y="491.32" width="17" height="12.44" fill="#ffffff"/>
<rect x="464.3" y="491.32" width="17" height="12.44" fill="#ffffff"/>
<rect x="480.5" y="491.32" width="17" height="12.44" fill="#ffffff"/>
<rect x="496.7" y="491.32" width="17" height="12.44" fill="#f4c6e5"/>
<rect x="512.9" y="491.32" width="17" height="12.44" fill="#ffffff"/>
<rect x="529.1" y="491.32" width="17" height="12.44" fill="#ffffff"/>
<rect x="545.3" y="491.32" width="17" height="12.44" fill="#ffffff"/>
<rect x="561.5" y="491.32" width="16.2" height="12.44" fill="#ffffff"/>
<rect x="582.3" y="491.32" width="17.1" height="12.44" fill="#ffffff"/>
<rect x="598.6" y="491.32" width="17.1" height="12.44" fill="#ffffff"/>
<rect x="614.9" y="491.32" width="17.1" height="12.44" fill="#ffffff"/>
<rect x="631.2" y="491.32" width="16.3" height="12.44" fill="#ffffff"/>
<rect x="411" y="502.96" width="17" height="12.44" fill="#ffffff"/>
<rect x="427.2" y="502.96" width="16.2" height="12.44" fill="#ffffff"/>
<rect x="448.1" y="502.96" width="17" height="12.44" fill="#ffffff"/>
<rect x="464.3" y="502.96" width="17" height="12.44" fill="#f4aada"/>
<rect x="480.5" y="502.96" width="17" height="12.44" fill="#ffffff"/>
<rect x="496.7" y="502.96" width="17" height="12.44" fill="#ffffff"/>
<rect x="512.9" y="502.96" width="17" height="12.44" fill="#ffffff"/>
<rect x="529.1" y="502.96" width="17" height="12.44" fill="#ffffff"/>
<rect x="545.3" y="502.96" width="17" height="12.44" fill="#ffffff"/>
<rect x="561.5" y="502.96" width="16.2" height="12.44" fill="#ffffff"/>
<rect x="582.3" y="502.96" width="17.1" height="12.44" fill="#ffffff"/>
<rect x="598.6" y="502.96" width="17.1" height="12.44" fill="#f4bee2"/>
<rect x="614.9" y="502.96" width="17.1" height="12.44" fill="#ffffff"/>
<rect x="631.2" y="502.96" width="16.3" height="12.44" fill="#ffffff"/>
<rect x="411" y="514.6" width="17" height="12.44" fill="#bbaac4"/>
<rect x="427.2" y="514.6" width="16.2" height="12.44" fill="#ffffff"/>
<rect x="448.1" y="514.6" width="17" height="12.44" fill="#ffffff"/>
<rect x="464.3" y="514.6" width="17" height="12.44" fill="#ffffff"/>
<rect x="480.5" y="514.6" width="17" height="12.44" fill="#bbaac4"/>
<rect x="496.7" y="514.6" width="17" height="12.44" fill="#ffffff"/>
<rect x="512.9" y="514.6" width="17" height="12.44" fill="#ffffff"/>
<rect x="529.1" y="514.6" width="17" height="12.44" fill="#ffffff"/>
<rect x="545.3" y="514.6" width="17" height="12.44" fill="#ffffff"/>
<rect x="561.5" y="514.6" width="16.2" height="12.44" fill="#ffffff"/>
<rect x="582.3" y="514.6" width="17.1" height="12.44" fill="#ffffff"/>
<rect x="598.6" y="514.6" width="17.1" height="12.44" fill="#ffffff"/>
<rect x="614.9" y="514.6" width="17.1" height="12.44" fill="#ffffff"/>
<rect x="631.2" y="514.6" width="16.3" height="12.44" fill="#cec0d5"/>
<rect x="411" y="526.24" width="17" height="12.44" fill="#cec0d5"/>
<rect x="427.2" y="526.24" width="16.2" height="12.44" fill="#ffffff"/>
<rect x="448.1" y="526.24" width="17" height="12.44" fill="#ffffff"/>
<rect x="464.3" y="526.24" width="17" height="12.44" fill="#ffffff"/>
<rect x="480.5" y="526.24" width="17" height="12.44" fill="#cec0d5"/>
<rect x="496.7" y="526.24" width="17" height="12.44" fill="#ffffff"/>
<rect x="512.9" y="526.24" width="17" height="12.44" fill="#ffffff"/>
<rect x="529.1" y="526.24" width="17" height="12.44" fill="#ffffff"/>
<rect x="545.3" y="526.24" width="17" height="12.44" fill="#ffffff"/>
<rect x="561.5" y="526.24" width="16.2" height="12.44" fill="#ffffff"/>
<rect x="582.3" y="526.24" width="17.1" height="12.44" fill="#ffffff"/>
<rect x="598.6" y="526.24" width="17.1" height="12.44" fill="#ffffff"/>
<rect x="614.9" y="526.24" width="17.1" height="12.44" fill="#ffffff"/>
<rect x="631.2" y="526.24" width="16.3" height="12.44" fill="#ffffff"/>
<rect x="411" y="537.88" width="17" height="12.44" fill="#f4bee2"/>
<rect x="427.2" y="537.88" width="16.2" height="12.44" fill="#ffffff"/>
<rect x="448.1" y="537.88" width="17" height="12.44" fill="#ffffff"/>
<rect x="464.3" y="537.88" width="17" height="12.44" fill="#f4bee2"/>
<rect x="480.5" y="537.88" width="17" height="12.44" fill="#ffffff"/>
<rect x="496.7" y="537.88" width="17" height="12.44" fill="#ffffff"/>
<rect x="512.9" y="537.88" width="17" height="12.44" fill="#ffffff"/>
<rect x="529.1" y="537.88" width="17" height="12.44" fill="#ffffff"/>
<rect x="545.3" y="537.88" width="17" height="12.44" fill="#ffffff"/>
<rect x="561.5" y="537.88" width="16.2" height="12.44" fill="#ffffff"/>
<rect x="582.3" y="537.88" width="17.1" height="12.44" fill="#ffffff"/>
<rect x="598.6" y="537.88" width="17.1" height="12.44" fill="#ffffff"/>
<rect x="614.9" y="537.88" width="17.1" height="12.44" fill="#ffffff"/>
<rect x="631.2" y="537.88" width="16.3" height="12.44" fill="#ffffff"/>
<rect x="411" y="549.52" width="17" height="12.44" fill="#f496d2"/>
<rect x="427.2" y="549.52" width="16.2" height="12.44" fill="#ffffff"/>
<rect x="448.1" y="549.52" width="17" height="12.44" fill="#ffffff"/>
<rect x="464.3" y="549.52" width="17" height="12.44" fill="#f680ca"/>
<rect x="480.5" y="549.52" width="17" height="12.44" fill="#f4bee2"/>
<rect x="496.7" y="549.52" width="17" height="12.44" fill="#ffffff"/>
<rect x="512.9" y="549.52" width="17" height="12.44" fill="#f4bee2"/>
<rect x="529.1" y="549.52" width="17" height="12.44" fill="#ffffff"/>
<rect x="545.3" y="549.52" width="17" height="12.44" fill="#f4aada"/>
<rect x="561.5" y="549.52" width="16.2" height="12.44" fill="#ffffff"/>
<rect x="582.3" y="549.52" width="17.1" height="12.44" fill="#f4aada"/>
<rect x="598.6" y="549.52" width="17.1" height="12.44" fill="#ffffff"/>
<rect x="614.9" y="549.52" width="17.1" height="12.44" fill="#ffffff"/>
<rect x="631.2" y="549.52" width="16.3" height="12.44" fill="#ffffff"/>
<rect x="411" y="561.16" width="17" height="12.44" fill="#f680ca"/>
<rect x="427.2" y="561.16" width="16.2" height="12.44" fill="#fb57b9"/>
<rect x="448.1" y="561.16" width="17" height="12.44" fill="#ffffff"/>
<rect x="464.3" y="561.16" width="17" height="12.44" fill="#f4bee2"/>
<rect x="480.5" y="561.16" width="17" height="12.44" fill="#ffffff"/>
<rect x="496.7" y="561.16" width="17" height="12.44" fill="#ffffff"/>
<rect x="512.9" y="561.16" width="17" height="12.44" fill="#ffffff"/>
<rect x="529.1" y="561.16" width="17" height="12.44" fill="#ffffff"/>
<rect x="545.3" y="561.16" width="17" height="12.44" fill="#ffffff"/>
<rect x="561.5" y="561.16" width="16.2" height="12.44" fill="#ffffff"/>
<rect x="582.3" y="561.16" width="17.1" height="12.44" fill="#ffffff"/>
<rect x="598.6" y="561.16" width="17.1" height="12.44" fill="#ffffff"/>
<rect x="614.9" y="561.16" width="17.1" height="12.44" fill="#fb57b9"/>
<rect x="631.2" y="561.16" width="16.3" height="12.44" fill="#ffffff"/>
<rect x="411" y="572.8" width="17" height="12.44" fill="#f680ca"/>
<rect x="427.2" y="572.8" width="16.2" height="12.44" fill="#fb57b9"/>
<rect x="448.1" y="572.8" width="17" height="12.44" fill="#ffffff"/>
<rect x="464.3" y="572.8" width="17" height="12.44" fill="#f4bee2"/>
<rect x="480.5" y="572.8" width="17" height="12.44" fill="#ffffff"/>
<rect x="496.7" y="572.8" width="17" height="12.44" fill="#ffffff"/>
<rect x="512.9" y="572.8" width="17" height="12.44" fill="#f4bee2"/>
<rect x="529.1" y="572.8" width="17" height="12.44" fill="#ffffff"/>
<rect x="545.3" y="572.8" width="17" height="12.44" fill="#ffffff"/>
<rect x="561.5" y="572.8" width="16.2" height="12.44" fill="#ffffff"/>
<rect x="582.3" y="572.8" width="17.1" height="12.44" fill="#ffffff"/>
<rect x="598.6" y="572.8" width="17.1" height="12.44" fill="#ffffff"/>
<rect x="614.9" y="572.8" width="17.1" height="12.44" fill="#fd47af"/>
<rect x="631.2" y="572.8" width="16.3" height="12.44" fill="#ffffff"/>
<rect x="411" y="584.44" width="17" height="12.44" fill="#ffffff"/>
<rect x="427.2" y="584.44" width="16.2" height="12.44" fill="#cec0d5"/>
<rect x="448.1" y="584.44" width="17" height="12.44" fill="#ffffff"/>
<rect x="464.3" y="584.44" width="17" height="12.44" fill="#ffffff"/>
<rect x="480.5" y="584.44" width="17" height="12.44" fill="#ffffff"/>
<rect x="496.7" y="584.44" width="17" height="12.44" fill="#ffffff"/>
<rect x="512.9" y="584.44" width="17" height="12.44" fill="#ffffff"/>
<rect x="529.1" y="584.44" width="17" height="12.44" fill="#ffffff"/>
<rect x="545.3" y="584.44" width="17" height="12.44" fill="#ffffff"/>
<rect x="561.5" y="584.44" width="16.2" height="12.44" fill="#ffffff"/>
<rect x="582.3" y="584.44" width="17.1" height="12.44" fill="#ffffff"/>
<rect x="598.6" y="584.44" width="17.1" height="12.44" fill="#ffffff"/>
<rect x="614.9" y="584.44" width="17.1" height="12.44" fill="#ffffff"/>
<rect x="631.2" y="584.44" width="16.3" height="12.44" fill="#ffffff"/>
<rect x="411" y="596.08" width="17" height="12.44" fill="#ffffff"/>
<rect x="427.2" y="596.08" width="16.2" height="12.44" fill="#ffffff"/>
<rect x="448.1" y="596.08" width="17" height="12.44" fill="#ffffff"/>
<rect x="464.3" y="596.08" width="17" height="12.44" fill="#ffffff"/>
<rect x="480.5" y="596.08" width="17" height="12.44" fill="#ffffff"/>
<rect x="496.7" y="596.08" width="17" height="12.44" fill="#ffffff"/>
<rect x="512.9" y="596.08" width="17" height="12.44" fill="#ffffff"/>
<rect x="529.1" y="596.08" width="17" height="12.44" fill="#ffffff"/>
<rect x="545.3" y="596.08" width="17" height="12.44" fill="#ffffff"/>
<rect x="561.5" y="596.08" width="16.2" height="12.44" fill="#cec0d5"/>
<rect x="582.3" y="596.08" width="17.1" height="12.44" fill="#ffffff"/>
<rect x="598.6" y="596.08" width="17.1" height="12.44" fill="#ffffff"/>
<rect x="614.9" y="596.08" width="17.1" height="12.44" fill="#ffffff"/>
<rect x="631.2" y="596.08" width="16.3" height="12.44" fill="#ffffff"/>
<rect x="411" y="607.72" width="17" height="12.44" fill="#ffffff"/>
<rect x="427.2" y="607.72" width="16.2" height="12.44" fill="#f496d2"/>
<rect x="448.1" y="607.72" width="17" height="12.44" fill="#ffffff"/>
<rect x="464.3" y="607.72" width="17" height="12.44" fill="#cec0d5"/>
<rect x="480.5" y="607.72" width="17" height="12.44" fill="#ffffff"/>
<rect x="496.7" y="607.72" width="17" height="12.44" fill="#ffffff"/>
<rect x="512.9" y="607.72" width="17" height="12.44" fill="#ffffff"/>
<rect x="529.1" y="607.72" width="17" height="12.44" fill="#ffffff"/>
<rect x="545.3" y="607.72" width="17" height="12.44" fill="#f4bee2"/>
<rect x="561.5" y="607.72" width="16.2" height="12.44" fill="#f4bee2"/>
<rect x="582.3" y="607.72" width="17.1" height="12.44" fill="#ffffff"/>
<rect x="598.6" y="607.72" width="17.1" height="12.44" fill="#ffffff"/>
<rect x="614.9" y="607.72" width="17.1" height="12.44" fill="#ffffff"/>
<rect x="631.2" y="607.72" width="16.3" height="12.44" fill="#ffffff"/>
<rect x="411" y="619.36" width="17" height="12.44" fill="#ffffff"/>
<rect x="427.2" y="619.36" width="16.2" height="12.44" fill="#f496d2"/>
<rect x="448.1" y="619.36" width="17" height="12.44" fill="#ffffff"/>
<rect x="464.3" y="619.36" width="17" height="12.44" fill="#ffffff"/>
<rect x="480.5" y="619.36" width="17" height="12.44" fill="#ffffff"/>
<rect x="496.7" y="619.36" width="17" height="12.44" fill="#ffffff"/>
<rect x="512.9" y="619.36" width="17" height="12.44" fill="#ffffff"/>
<rect x="529.1" y="619.36" width="17" height="12.44" fill="#ffffff"/>
<rect x="545.3" y="619.36" width="17" height="12.44" fill="#ffffff"/>
<rect x="561.5" y="619.36" width="16.2" height="12.44" fill="#ffffff"/>
<rect x="582.3" y="619.36" width="17.1" height="12.44" fill="#ffffff"/>
<rect x="598.6" y="619.36" width="17.1" height="12.44" fill="#ffffff"/>
<rect x="614.9" y="619.36" width="17.1" height="12.44" fill="#ffffff"/>
<rect x="631.2" y="619.36" width="16.3" height="12.44" fill="#ffffff"/>
<rect x="411" y="631" width="17" height="11.64" fill="#ffffff"/>
<rect x="427.2" y="631" width="16.2" height="11.64" fill="#f4bee2"/>
<rect x="448.1" y="631" width="17" height="11.64" fill="#ffffff"/>
<rect x="464.3" y="631" width="17" height="11.64" fill="#ffffff"/>
<rect x="480.5" y="631" width="17" height="11.64" fill="#ffffff"/>
<rect x="496.7" y="631" width="17" height="11.64" fill="#ffffff"/>
<rect x="512.9" y="631" width="17" height="11.64" fill="#ffffff"/>
<rect x="529.1" y="631" width="17" height="11.64" fill="#ffffff"/>
<rect x="545.3" y="631" width="17" height="11.64" fill="#ffffff"/>
<rect x="561.5" y="631" width="16.2" height="11.64" fill="#ffffff"/>
<rect x="582.3" y="631" width="17.1" height="11.64" fill="#ffffff"/>
<rect x="598.6" y="631" width="17.1" height="11.64" fill="#ffffff"/>
<rect x="614.9" y="631" width="17.1" height="11.64" fill="#ffffff"/>
<rect x="631.2" y="631" width="16.3" height="11.64" fill="#ffffff"/>
</g>
<line x1="411" y1="223.6" x2="647.5" y2="223.6" stroke="#111" stroke-width="1.3"/>
<line x1="411" y1="642.64" x2="647.5" y2="642.64" stroke="#111" stroke-width="1.3"/>
<line x1="411" y1="223.6" x2="411" y2="642.64" stroke="#111" stroke-width="1.3"/>
<line x1="647.5" y1="223.6" x2="647.5" y2="642.64" stroke="#111" stroke-width="1.2"/>
<line x1="445.5" y1="223.6" x2="445.5" y2="642.64" stroke="#111" stroke-width="1.0"/>
<line x1="580.5" y1="223.6" x2="580.5" y2="642.64" stroke="#111" stroke-width="1.0"/>
<line x1="406.3" y1="229.42" x2="411" y2="229.42" stroke="#111" stroke-width="1.3"/>
<text x="404.9" y="231.62" text-anchor="end" font-family='"Liberation Sans", sans-serif' font-size="6.6" font-weight="bold" font-style="italic" fill="#000" stroke="#000" stroke-width="0.2" textLength="12.66" lengthAdjust="spacingAndGlyphs">sitB</text>
<line x1="406.3" y1="241.06" x2="411" y2="241.06" stroke="#111" stroke-width="1.3"/>
<text x="404.9" y="243.26" text-anchor="end" font-family='"Liberation Sans", sans-serif' font-size="6.6" font-weight="bold" font-style="italic" fill="#000" stroke="#000" stroke-width="0.2" textLength="16.75" lengthAdjust="spacingAndGlyphs">mtsC</text>
<line x1="406.3" y1="252.7" x2="411" y2="252.7" stroke="#111" stroke-width="1.3"/>
<text x="404.9" y="254.9" text-anchor="end" font-family='"Liberation Sans", sans-serif' font-size="6.6" font-weight="bold" font-style="italic" fill="#000" stroke="#000" stroke-width="0.2" textLength="12.66" lengthAdjust="spacingAndGlyphs">sitA</text>
<line x1="406.3" y1="264.34" x2="411" y2="264.34" stroke="#111" stroke-width="1.3"/>
<text x="404.9" y="266.54" text-anchor="end" font-family='"Liberation Sans", sans-serif' font-size="6.6" font-weight="bold" font-style="italic" fill="#000" stroke="#000" stroke-width="0.2" textLength="64.04" lengthAdjust="spacingAndGlyphs">pgap_annot_000274</text>
<line x1="406.3" y1="275.98" x2="411" y2="275.98" stroke="#111" stroke-width="1.3"/>
<text x="404.9" y="278.18" text-anchor="end" font-family='"Liberation Sans", sans-serif' font-size="6.6" font-weight="bold" font-style="italic" fill="#000" stroke="#000" stroke-width="0.2" textLength="20.11" lengthAdjust="spacingAndGlyphs">msmX</text>
<line x1="406.3" y1="287.62" x2="411" y2="287.62" stroke="#111" stroke-width="1.3"/>
<text x="404.9" y="289.82" text-anchor="end" font-family='"Liberation Sans", sans-serif' font-size="6.6" font-weight="bold" font-style="italic" fill="#000" stroke="#000" stroke-width="0.2" textLength="16.76" lengthAdjust="spacingAndGlyphs">malG</text>
<line x1="406.3" y1="299.26" x2="411" y2="299.26" stroke="#111" stroke-width="1.3"/>
<text x="404.9" y="301.46" text-anchor="end" font-family='"Liberation Sans", sans-serif' font-size="6.6" font-weight="bold" font-style="italic" fill="#000" stroke="#000" stroke-width="0.2" textLength="15.64" lengthAdjust="spacingAndGlyphs">malF</text>
<line x1="406.3" y1="310.9" x2="411" y2="310.9" stroke="#111" stroke-width="1.3"/>
<text x="404.9" y="313.1" text-anchor="end" font-family='"Liberation Sans", sans-serif' font-size="6.6" font-weight="bold" font-style="italic" fill="#000" stroke="#000" stroke-width="0.2" textLength="64.04" lengthAdjust="spacingAndGlyphs">pgap_annot_000618</text>
<line x1="406.3" y1="322.54" x2="411" y2="322.54" stroke="#111" stroke-width="1.3"/>
<text x="404.9" y="324.74" text-anchor="end" font-family='"Liberation Sans", sans-serif' font-size="6.6" font-weight="bold" font-style="italic" fill="#000" stroke="#000" stroke-width="0.2" textLength="13.4" lengthAdjust="spacingAndGlyphs">trkA</text>
<line x1="406.3" y1="334.18" x2="411" y2="334.18" stroke="#111" stroke-width="1.3"/>
<text x="404.9" y="336.38" text-anchor="end" font-family='"Liberation Sans", sans-serif' font-size="6.6" font-weight="bold" font-style="italic" fill="#000" stroke="#000" stroke-width="0.2" textLength="13.02" lengthAdjust="spacingAndGlyphs">gltK</text>
<line x1="406.3" y1="345.82" x2="411" y2="345.82" stroke="#111" stroke-width="1.3"/>
<text x="404.9" y="348.02" text-anchor="end" font-family='"Liberation Sans", sans-serif' font-size="6.6" font-weight="bold" font-style="italic" fill="#000" stroke="#000" stroke-width="0.2" textLength="11.91" lengthAdjust="spacingAndGlyphs">gltJ</text>
<line x1="406.3" y1="357.46" x2="411" y2="357.46" stroke="#111" stroke-width="1.3"/>
<text x="404.9" y="359.66" text-anchor="end" font-family='"Liberation Sans", sans-serif' font-size="6.6" font-weight="bold" font-style="italic" fill="#000" stroke="#000" stroke-width="0.2" textLength="64.04" lengthAdjust="spacingAndGlyphs">pgap_annot_000756</text>
<line x1="406.3" y1="369.1" x2="411" y2="369.1" stroke="#111" stroke-width="1.3"/>
<text x="404.9" y="371.3" text-anchor="end" font-family='"Liberation Sans", sans-serif' font-size="6.6" font-weight="bold" font-style="italic" fill="#000" stroke="#000" stroke-width="0.2" textLength="16.38" lengthAdjust="spacingAndGlyphs">adcA</text>
<line x1="406.3" y1="380.74" x2="411" y2="380.74" stroke="#111" stroke-width="1.3"/>
<text x="404.9" y="382.94" text-anchor="end" font-family='"Liberation Sans", sans-serif' font-size="6.6" font-weight="bold" font-style="italic" fill="#000" stroke="#000" stroke-width="0.2" textLength="21.59" lengthAdjust="spacingAndGlyphs">proWX</text>
<line x1="406.3" y1="392.38" x2="411" y2="392.38" stroke="#111" stroke-width="1.3"/>
<text x="404.9" y="394.58" text-anchor="end" font-family='"Liberation Sans", sans-serif' font-size="6.6" font-weight="bold" font-style="italic" fill="#000" stroke="#000" stroke-width="0.2" textLength="14.52" lengthAdjust="spacingAndGlyphs">yclQ</text>
<line x1="406.3" y1="404.02" x2="411" y2="404.02" stroke="#111" stroke-width="1.3"/>
<text x="404.9" y="406.22" text-anchor="end" font-family='"Liberation Sans", sans-serif' font-size="6.6" font-weight="bold" font-style="italic" fill="#000" stroke="#000" stroke-width="0.2" textLength="15.25" lengthAdjust="spacingAndGlyphs">potD</text>
<line x1="406.3" y1="415.66" x2="411" y2="415.66" stroke="#111" stroke-width="1.3"/>
<text x="404.9" y="417.86" text-anchor="end" font-family='"Liberation Sans", sans-serif' font-size="6.6" font-weight="bold" font-style="italic" fill="#000" stroke="#000" stroke-width="0.2" textLength="16.02" lengthAdjust="spacingAndGlyphs">yxeN</text>
<line x1="406.3" y1="427.3" x2="411" y2="427.3" stroke="#111" stroke-width="1.3"/>
<text x="404.9" y="429.5" text-anchor="end" font-family='"Liberation Sans", sans-serif' font-size="6.6" font-weight="bold" font-style="italic" fill="#000" stroke="#000" stroke-width="0.2" textLength="16.01" lengthAdjust="spacingAndGlyphs">ytmL</text>
<line x1="406.3" y1="438.94" x2="411" y2="438.94" stroke="#111" stroke-width="1.3"/>
<text x="404.9" y="441.14" text-anchor="end" font-family='"Liberation Sans", sans-serif' font-size="6.6" font-weight="bold" font-style="italic" fill="#000" stroke="#000" stroke-width="0.2" textLength="20.11" lengthAdjust="spacingAndGlyphs">msmX</text>
<line x1="406.3" y1="450.58" x2="411" y2="450.58" stroke="#111" stroke-width="1.3"/>
<text x="404.9" y="452.78" text-anchor="end" font-family='"Liberation Sans", sans-serif' font-size="6.6" font-weight="bold" font-style="italic" fill="#000" stroke="#000" stroke-width="0.2" textLength="20.85" lengthAdjust="spacingAndGlyphs">msmG</text>
<line x1="406.3" y1="462.22" x2="411" y2="462.22" stroke="#111" stroke-width="1.3"/>
<text x="404.9" y="464.42" text-anchor="end" font-family='"Liberation Sans", sans-serif' font-size="6.6" font-weight="bold" font-style="italic" fill="#000" stroke="#000" stroke-width="0.2" textLength="19.73" lengthAdjust="spacingAndGlyphs">msmF</text>
<line x1="406.3" y1="473.86" x2="411" y2="473.86" stroke="#111" stroke-width="1.3"/>
<text x="404.9" y="476.06" text-anchor="end" font-family='"Liberation Sans", sans-serif' font-size="6.6" font-weight="bold" font-style="italic" fill="#000" stroke="#000" stroke-width="0.2" textLength="20.11" lengthAdjust="spacingAndGlyphs">ssuC2</text>
<line x1="406.3" y1="485.5" x2="411" y2="485.5" stroke="#111" stroke-width="1.3"/>
<text x="404.9" y="487.7" text-anchor="end" font-family='"Liberation Sans", sans-serif' font-size="6.6" font-weight="bold" font-style="italic" fill="#000" stroke="#000" stroke-width="0.2" textLength="14.89" lengthAdjust="spacingAndGlyphs">tauB</text>
<line x1="406.3" y1="497.14" x2="411" y2="497.14" stroke="#111" stroke-width="1.3"/>
<text x="404.9" y="499.34" text-anchor="end" font-family='"Liberation Sans", sans-serif' font-size="6.6" font-weight="bold" font-style="italic" fill="#000" stroke="#000" stroke-width="0.2" textLength="64.04" lengthAdjust="spacingAndGlyphs">pgap_annot_001415</text>
<line x1="406.3" y1="508.78" x2="411" y2="508.78" stroke="#111" stroke-width="1.3"/>
<text x="404.9" y="510.98" text-anchor="end" font-family='"Liberation Sans", sans-serif' font-size="6.6" font-weight="bold" font-style="italic" fill="#000" stroke="#000" stroke-width="0.2" textLength="15.26" lengthAdjust="spacingAndGlyphs">perR</text>
<line x1="406.3" y1="520.42" x2="411" y2="520.42" stroke="#111" stroke-width="1.3"/>
<text x="404.9" y="522.62" text-anchor="end" font-family='"Liberation Sans", sans-serif' font-size="6.6" font-weight="bold" font-style="italic" fill="#000" stroke="#000" stroke-width="0.2" textLength="14.89" lengthAdjust="spacingAndGlyphs">feoB</text>
<line x1="406.3" y1="532.06" x2="411" y2="532.06" stroke="#111" stroke-width="1.3"/>
<text x="404.9" y="534.26" text-anchor="end" font-family='"Liberation Sans", sans-serif' font-size="6.6" font-weight="bold" font-style="italic" fill="#000" stroke="#000" stroke-width="0.2" textLength="14.89" lengthAdjust="spacingAndGlyphs">feoA</text>
<line x1="406.3" y1="543.7" x2="411" y2="543.7" stroke="#111" stroke-width="1.3"/>
<text x="404.9" y="545.9" text-anchor="end" font-family='"Liberation Sans", sans-serif' font-size="6.6" font-weight="bold" font-style="italic" fill="#000" stroke="#000" stroke-width="0.2" textLength="11.91" lengthAdjust="spacingAndGlyphs">dps</text>
<line x1="406.3" y1="555.34" x2="411" y2="555.34" stroke="#111" stroke-width="1.3"/>
<text x="404.9" y="557.54" text-anchor="end" font-family='"Liberation Sans", sans-serif' font-size="6.6" font-weight="bold" font-style="italic" fill="#000" stroke="#000" stroke-width="0.2" textLength="16.02" lengthAdjust="spacingAndGlyphs">yxeN</text>
<line x1="406.3" y1="566.98" x2="411" y2="566.98" stroke="#111" stroke-width="1.3"/>
<text x="404.9" y="569.18" text-anchor="end" font-family='"Liberation Sans", sans-serif' font-size="6.6" font-weight="bold" font-style="italic" fill="#000" stroke="#000" stroke-width="0.2" textLength="16" lengthAdjust="spacingAndGlyphs">copZ</text>
<line x1="406.3" y1="578.62" x2="411" y2="578.62" stroke="#111" stroke-width="1.3"/>
<text x="404.9" y="580.82" text-anchor="end" font-family='"Liberation Sans", sans-serif' font-size="6.6" font-weight="bold" font-style="italic" fill="#000" stroke="#000" stroke-width="0.2" textLength="16.75" lengthAdjust="spacingAndGlyphs">copA</text>
<line x1="406.3" y1="590.26" x2="411" y2="590.26" stroke="#111" stroke-width="1.3"/>
<text x="404.9" y="592.46" text-anchor="end" font-family='"Liberation Sans", sans-serif' font-size="6.6" font-weight="bold" font-style="italic" fill="#000" stroke="#000" stroke-width="0.2" textLength="16.37" lengthAdjust="spacingAndGlyphs">oppF</text>
<line x1="406.3" y1="601.9" x2="411" y2="601.9" stroke="#111" stroke-width="1.3"/>
<text x="404.9" y="604.1" text-anchor="end" font-family='"Liberation Sans", sans-serif' font-size="6.6" font-weight="bold" font-style="italic" fill="#000" stroke="#000" stroke-width="0.2" textLength="17.12" lengthAdjust="spacingAndGlyphs">oppB</text>
<line x1="406.3" y1="613.54" x2="411" y2="613.54" stroke="#111" stroke-width="1.3"/>
<text x="404.9" y="615.74" text-anchor="end" font-family='"Liberation Sans", sans-serif' font-size="6.6" font-weight="bold" font-style="italic" fill="#000" stroke="#000" stroke-width="0.2" textLength="16.38" lengthAdjust="spacingAndGlyphs">cadA</text>
<line x1="406.3" y1="625.18" x2="411" y2="625.18" stroke="#111" stroke-width="1.3"/>
<text x="404.9" y="627.38" text-anchor="end" font-family='"Liberation Sans", sans-serif' font-size="6.6" font-weight="bold" font-style="italic" fill="#000" stroke="#000" stroke-width="0.2" textLength="15.63" lengthAdjust="spacingAndGlyphs">zupT</text>
<line x1="406.3" y1="636.82" x2="411" y2="636.82" stroke="#111" stroke-width="1.3"/>
<text x="404.9" y="639.02" text-anchor="end" font-family='"Liberation Sans", sans-serif' font-size="6.6" font-weight="bold" font-style="italic" fill="#000" stroke="#000" stroke-width="0.2" textLength="23.83" lengthAdjust="spacingAndGlyphs">spxA_2</text>
<line x1="419.1" y1="642.64" x2="419.1" y2="646.44" stroke="#111" stroke-width="1.3"/>
<text x="421.5" y="654.14" text-anchor="end" transform="rotate(-45 421.5 654.14)" font-family='"Liberation Sans", sans-serif' font-size="8.6" font-weight="bold" fill="#000" stroke="#000" stroke-width="0.15"><tspan stroke-width="0" fill="#333">***</tspan>NG2</text>
<line x1="435.3" y1="642.64" x2="435.3" y2="646.44" stroke="#111" stroke-width="1.3"/>
<text x="437.7" y="654.14" text-anchor="end" transform="rotate(-45 437.7 654.14)" font-family='"Liberation Sans", sans-serif' font-size="8.6" font-weight="bold" fill="#000" stroke="#000" stroke-width="0.15"><tspan stroke-width="0" fill="#333">*</tspan>NG4</text>
<line x1="456.2" y1="642.64" x2="456.2" y2="646.44" stroke="#111" stroke-width="1.3"/>
<text x="458.6" y="654.14" text-anchor="end" transform="rotate(-45 458.6 654.14)" font-family='"Liberation Sans", sans-serif' font-size="8.6" font-weight="bold" fill="#000" stroke="#000" stroke-width="0.15">sMG1</text>
<line x1="472.4" y1="642.64" x2="472.4" y2="646.44" stroke="#111" stroke-width="1.3"/>
<text x="474.8" y="654.14" text-anchor="end" transform="rotate(-45 474.8 654.14)" font-family='"Liberation Sans", sans-serif' font-size="8.6" font-weight="bold" fill="#000" stroke="#000" stroke-width="0.15">sMG2</text>
<line x1="488.6" y1="642.64" x2="488.6" y2="646.44" stroke="#111" stroke-width="1.3"/>
<text x="491" y="654.14" text-anchor="end" transform="rotate(-45 491 654.14)" font-family='"Liberation Sans", sans-serif' font-size="8.6" font-weight="bold" fill="#000" stroke="#000" stroke-width="0.15">sMG3</text>
<line x1="504.8" y1="642.64" x2="504.8" y2="646.44" stroke="#111" stroke-width="1.3"/>
<text x="507.2" y="654.14" text-anchor="end" transform="rotate(-45 507.2 654.14)" font-family='"Liberation Sans", sans-serif' font-size="8.6" font-weight="bold" fill="#000" stroke="#000" stroke-width="0.15"><tspan stroke-width="0" fill="#333">*</tspan>sMG4</text>
<line x1="521" y1="642.64" x2="521" y2="646.44" stroke="#111" stroke-width="1.3"/>
<text x="523.4" y="654.14" text-anchor="end" transform="rotate(-45 523.4 654.14)" font-family='"Liberation Sans", sans-serif' font-size="8.6" font-weight="bold" fill="#000" stroke="#000" stroke-width="0.15">sMG5</text>
<line x1="537.2" y1="642.64" x2="537.2" y2="646.44" stroke="#111" stroke-width="1.3"/>
<text x="539.6" y="654.14" text-anchor="end" transform="rotate(-45 539.6 654.14)" font-family='"Liberation Sans", sans-serif' font-size="8.6" font-weight="bold" fill="#000" stroke="#000" stroke-width="0.15">sMG6</text>
<line x1="553.4" y1="642.64" x2="553.4" y2="646.44" stroke="#111" stroke-width="1.3"/>
<text x="555.8" y="654.14" text-anchor="end" transform="rotate(-45 555.8 654.14)" font-family='"Liberation Sans", sans-serif' font-size="8.6" font-weight="bold" fill="#000" stroke="#000" stroke-width="0.15">sMG7</text>
<line x1="569.6" y1="642.64" x2="569.6" y2="646.44" stroke="#111" stroke-width="1.3"/>
<text x="572" y="654.14" text-anchor="end" transform="rotate(-45 572 654.14)" font-family='"Liberation Sans", sans-serif' font-size="8.6" font-weight="bold" fill="#000" stroke="#000" stroke-width="0.15">sMG8</text>
<line x1="590.45" y1="642.64" x2="590.45" y2="646.44" stroke="#111" stroke-width="1.3"/>
<text x="592.85" y="654.14" text-anchor="end" transform="rotate(-45 592.85 654.14)" font-family='"Liberation Sans", sans-serif' font-size="8.6" font-weight="bold" fill="#000" stroke="#000" stroke-width="0.15">sMGAg1</text>
<line x1="606.75" y1="642.64" x2="606.75" y2="646.44" stroke="#111" stroke-width="1.3"/>
<text x="609.15" y="654.14" text-anchor="end" transform="rotate(-45 609.15 654.14)" font-family='"Liberation Sans", sans-serif' font-size="8.6" font-weight="bold" fill="#000" stroke="#000" stroke-width="0.15">sMGAg2</text>
<line x1="623.05" y1="642.64" x2="623.05" y2="646.44" stroke="#111" stroke-width="1.3"/>
<text x="625.45" y="654.14" text-anchor="end" transform="rotate(-45 625.45 654.14)" font-family='"Liberation Sans", sans-serif' font-size="8.6" font-weight="bold" fill="#000" stroke="#000" stroke-width="0.15">sMGAg3</text>
<line x1="639.35" y1="642.64" x2="639.35" y2="646.44" stroke="#111" stroke-width="1.3"/>
<text x="641.75" y="654.14" text-anchor="end" transform="rotate(-45 641.75 654.14)" font-family='"Liberation Sans", sans-serif' font-size="8.6" font-weight="bold" fill="#000" stroke="#000" stroke-width="0.15">sMGAg4</text>
<defs><linearGradient id="gd" x1="0" y1="0" x2="0" y2="1">
<stop offset="0.0000" stop-color="#ff37a5"/>
<stop offset="0.0098" stop-color="#ff37a5"/>
<stop offset="0.0343" stop-color="#fe3faa"/>
<stop offset="0.0588" stop-color="#fd47af"/>
<stop offset="0.0833" stop-color="#fc4fb4"/>
<stop offset="0.1078" stop-color="#fb57b9"/>
<stop offset="0.1323" stop-color="#fa5fbe"/>
<stop offset="0.1568" stop-color="#f96ac2"/>
<stop offset="0.1814" stop-color="#f875c6"/>
<stop offset="0.2059" stop-color="#f680ca"/>
<stop offset="0.2304" stop-color="#f58bce"/>
<stop offset="0.2549" stop-color="#f496d2"/>
<stop offset="0.2794" stop-color="#f4a0d6"/>
<stop offset="0.3039" stop-color="#f4aada"/>
<stop offset="0.3284" stop-color="#f4b4de"/>
<stop offset="0.3529" stop-color="#f4bee2"/>
<stop offset="0.3774" stop-color="#f4c8e6"/>
<stop offset="0.4020" stop-color="#f6d3eb"/>
<stop offset="0.4265" stop-color="#f8def0"/>
<stop offset="0.4510" stop-color="#fbe9f5"/>
<stop offset="0.4755" stop-color="#fdf4fa"/>
<stop offset="0.5000" stop-color="#ffffff"/>
<stop offset="0.5245" stop-color="#f7f5f8"/>
<stop offset="0.5490" stop-color="#efeaf1"/>
<stop offset="0.5735" stop-color="#e7e0eb"/>
<stop offset="0.5980" stop-color="#dfd5e4"/>
<stop offset="0.6226" stop-color="#d7cbdd"/>
<stop offset="0.6471" stop-color="#cec0d5"/>
<stop offset="0.6716" stop-color="#c4b5cd"/>
<stop offset="0.6961" stop-color="#bbaac4"/>
<stop offset="0.7206" stop-color="#b19fbc"/>
<stop offset="0.7451" stop-color="#a894b4"/>
<stop offset="0.7696" stop-color="#9e87ab"/>
<stop offset="0.7941" stop-color="#957aa2"/>
<stop offset="0.8186" stop-color="#8b6c9a"/>
<stop offset="0.8432" stop-color="#825f91"/>
<stop offset="0.8677" stop-color="#785288"/>
<stop offset="0.8922" stop-color="#6e4680"/>
<stop offset="0.9167" stop-color="#653977"/>
<stop offset="0.9412" stop-color="#5b2d6f"/>
<stop offset="0.9657" stop-color="#522066"/>
<stop offset="0.9902" stop-color="#48145e"/>
<stop offset="1.0000" stop-color="#48145e"/>
</linearGradient></defs>
<rect x="658.3" y="223.4" width="11.3" height="419.2" fill="url(#gd)" stroke="#111" stroke-width="0.9"/>
<line x1="658.3" y1="227.5" x2="660.5" y2="227.5" stroke="#111" stroke-width="1"/>
<line x1="667.4" y1="227.5" x2="669.6" y2="227.5" stroke="#111" stroke-width="1"/>
<text x="673.4" y="229.8" font-family='"Liberation Sans", sans-serif' font-size="6.8" fill="#222">5</text>
<line x1="658.3" y1="433" x2="660.5" y2="433" stroke="#111" stroke-width="1"/>
<line x1="667.4" y1="433" x2="669.6" y2="433" stroke="#111" stroke-width="1"/>
<text x="673.4" y="435.3" font-family='"Liberation Sans", sans-serif' font-size="6.8" fill="#222">0</text>
<line x1="658.3" y1="638.5" x2="660.5" y2="638.5" stroke="#111" stroke-width="1"/>
<line x1="667.4" y1="638.5" x2="669.6" y2="638.5" stroke="#111" stroke-width="1"/>
<text x="673.4" y="640.8" font-family='"Liberation Sans", sans-serif' font-size="6.8" fill="#222">-5</text>
<text x="347.4" y="225.6" font-family='"Liberation Sans", sans-serif' font-size="20" fill="#000" stroke="#000" stroke-width="0.1">d</text>
<text x="432.8" y="211.5" font-family='"Liberation Sans", sans-serif' font-size="8.3" font-weight="bold" fill="#000" stroke="#000" stroke-width="0.15">COG P - Inorganic Ion Transport And Metabolism</text>
<rect x="338.9" y="4.4" width="1.2" height="677.1" fill="#a0a0a0"/>
<line x1="1.5" y1="4.4" x2="338.4" y2="4.4" stroke="#222" stroke-width="1.2" stroke-linecap="square"/>
<line x1="1.5" y1="4.4" x2="1.5" y2="681.5" stroke="#222" stroke-width="1.2" stroke-linecap="square"/>
<line x1="338.4" y1="4.4" x2="338.4" y2="681.5" stroke="#444" stroke-width="1.3" stroke-linecap="square"/>
<line x1="1.5" y1="482.4" x2="338.4" y2="482.4" stroke="#222" stroke-width="1.3" stroke-linecap="square"/>
<line x1="1.5" y1="681.5" x2="338.4" y2="681.5" stroke="#333" stroke-width="1.2" stroke-linecap="square"/>
<line x1="340.6" y1="2.8" x2="683.4" y2="2.8" stroke="#5a5a5a" stroke-width="1.3" stroke-linecap="square"/>
<line x1="340.6" y1="2.8" x2="340.6" y2="681.5" stroke="#2a2a2a" stroke-width="1.3" stroke-linecap="square"/>
<line x1="683.4" y1="2.8" x2="683.4" y2="681.5" stroke="#333" stroke-width="1.2" stroke-linecap="square"/>
<line x1="340.6" y1="200.7" x2="683.4" y2="200.7" stroke="#333" stroke-width="1.3" stroke-linecap="square"/>
<line x1="340.6" y1="681.5" x2="683.4" y2="681.5" stroke="#333" stroke-width="1.2" stroke-linecap="square"/>
</svg>
</body></html>
